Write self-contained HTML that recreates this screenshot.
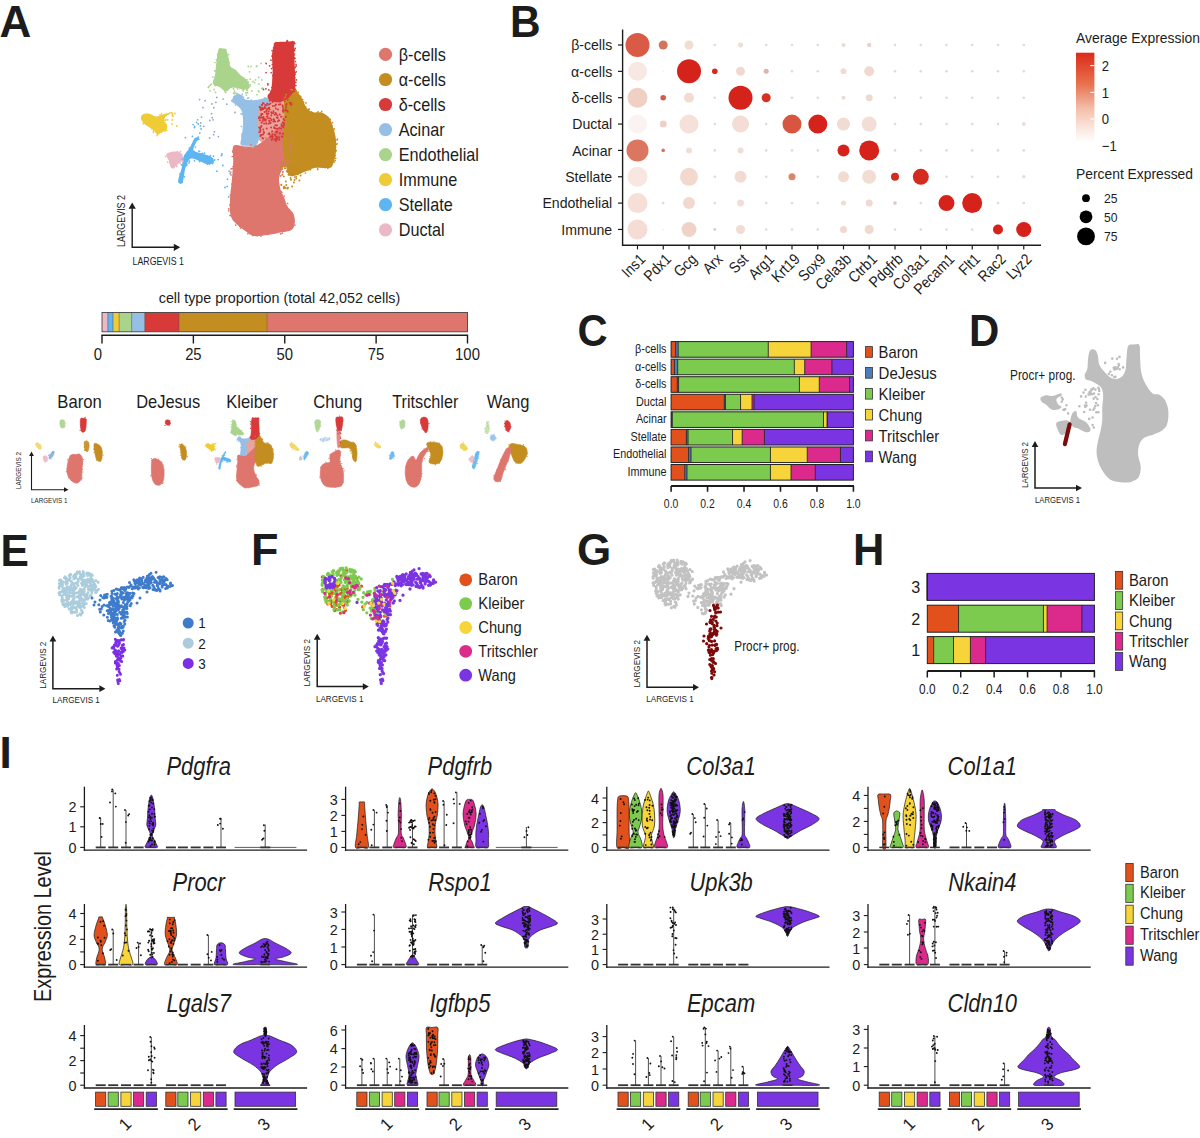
<!DOCTYPE html>
<html><head><meta charset="utf-8"><title>Figure</title>
<style>html,body{margin:0;padding:0;background:#fff;width:1200px;height:1138px;overflow:hidden}svg{display:block;font-family:"Liberation Sans",sans-serif}</style>
</head><body>
<svg width="1200" height="1138" viewBox="0 0 1200 1138" font-family="Liberation Sans, sans-serif">
<rect x="0.00" y="0.00" width="1200.00" height="1138.00" fill="#ffffff"/>
<text x="-0.50" y="37.10" font-size="44.00" text-anchor="start" fill="#1c1c1c" font-weight="bold">A</text>
<path d="M258.00 106.00 C259.83 101.50 264.00 99.50 268.00 98.00 C272.00 96.50 278.33 96.83 282.00 97.00 C285.67 97.17 289.33 97.17 290.00 99.00 C290.67 100.83 286.83 104.17 286.00 108.00 C285.17 111.83 285.33 117.67 285.00 122.00 C284.67 126.33 286.17 131.00 284.00 134.00 C281.83 137.00 276.00 138.83 272.00 140.00 C268.00 141.17 262.50 143.50 260.00 141.00 C257.50 138.50 257.33 130.83 257.00 125.00 C256.67 119.17 256.17 110.50 258.00 106.00 Z" fill="#E9A49C"/>
<path d="M233.50 146.00 C235.47 143.38 241.42 146.50 245.00 146.50 C248.58 146.50 252.17 146.75 255.00 146.00 C257.83 145.25 259.50 143.67 262.00 142.00 C264.50 140.33 267.33 138.33 270.00 136.00 C272.67 133.67 275.67 130.00 278.00 128.00 C280.33 126.00 281.67 122.00 284.00 124.00 C286.33 126.00 291.00 134.00 292.00 140.00 C293.00 146.00 291.50 155.33 290.00 160.00 C288.50 164.67 284.83 164.83 283.00 168.00 C281.17 171.17 279.30 175.05 279.00 179.00 C278.70 182.95 280.32 188.53 281.20 191.70 C282.08 194.87 283.25 195.53 284.30 198.00 C285.35 200.47 286.08 204.03 287.50 206.50 C288.92 208.97 291.57 210.35 292.80 212.80 C294.03 215.25 295.08 218.38 294.90 221.20 C294.72 224.02 294.35 227.77 291.70 229.70 C289.05 231.63 283.03 231.92 279.00 232.80 C274.97 233.68 271.72 234.47 267.50 235.00 C263.28 235.53 257.22 236.53 253.70 236.00 C250.18 235.47 249.38 233.92 246.40 231.80 C243.42 229.68 238.45 226.12 235.80 223.30 C233.15 220.48 231.47 218.95 230.50 214.90 C229.53 210.85 229.82 204.27 230.00 199.00 C230.18 193.73 231.07 189.43 231.60 183.30 C232.13 177.17 232.88 168.42 233.20 162.20 C233.52 155.98 231.53 148.62 233.50 146.00 Z" fill="#DE766E"/>
<path d="M290.50 86.70 C292.02 86.43 294.25 88.57 296.10 90.40 C297.95 92.23 299.75 94.63 301.60 97.70 C303.45 100.77 305.05 106.33 307.20 108.80 C309.35 111.27 312.05 111.88 314.50 112.50 C316.95 113.12 319.43 111.58 321.90 112.50 C324.37 113.42 327.45 115.53 329.30 118.00 C331.15 120.47 331.92 123.92 333.00 127.30 C334.08 130.68 335.33 134.00 335.80 138.30 C336.27 142.60 336.27 148.78 335.80 153.10 C335.33 157.42 334.08 161.73 333.00 164.20 C331.92 166.67 332.38 167.28 329.30 167.90 C326.22 168.52 318.50 167.28 314.50 167.90 C310.50 168.52 308.37 170.38 305.30 171.60 C302.23 172.82 298.65 174.47 296.10 175.20 C293.55 175.93 291.52 176.87 290.00 176.00 C288.48 175.13 287.83 172.67 287.00 170.00 C286.17 167.33 285.58 163.33 285.00 160.00 C284.42 156.67 283.78 154.92 283.50 150.00 C283.22 145.08 283.13 135.83 283.30 130.50 C283.47 125.17 284.38 122.58 284.50 118.00 C284.62 113.42 283.58 107.33 284.00 103.00 C284.42 98.67 285.92 94.72 287.00 92.00 C288.08 89.28 288.98 86.97 290.50 86.70 Z" fill="#C48D20"/>
<path d="M275.00 42.50 C277.05 41.77 282.82 41.92 286.10 41.80 C289.38 41.68 293.37 40.87 294.70 41.80 C296.03 42.73 294.10 43.60 294.10 47.40 C294.10 51.20 294.50 58.05 294.70 64.60 C294.90 71.15 295.75 81.80 295.30 86.70 C294.85 91.60 293.38 91.95 292.00 94.00 C290.62 96.05 289.00 97.67 287.00 99.00 C285.00 100.33 282.33 101.58 280.00 102.00 C277.67 102.42 274.92 102.00 273.00 101.50 C271.08 101.00 269.38 100.02 268.50 99.00 C267.62 97.98 267.23 97.03 267.70 95.40 C268.17 93.77 270.48 93.30 271.30 89.20 C272.12 85.10 272.48 76.53 272.60 70.80 C272.72 65.07 271.80 58.90 272.00 54.80 C272.20 50.70 273.30 48.25 273.80 46.20 C274.30 44.15 272.95 43.23 275.00 42.50 Z" fill="#D83A3A"/>
<path d="M234.40 95.40 C235.63 94.17 237.75 93.50 239.40 94.10 C241.05 94.70 242.05 97.97 244.30 99.00 C246.55 100.03 250.03 100.30 252.90 100.30 C255.77 100.30 259.03 99.42 261.50 99.00 C263.97 98.58 266.47 96.97 267.70 97.80 C268.93 98.63 269.52 102.57 268.90 104.00 C268.28 105.43 265.65 105.58 264.00 106.40 C262.35 107.22 260.03 107.25 259.00 108.90 C257.97 110.55 258.00 113.43 257.80 116.30 C257.60 119.17 257.60 122.42 257.80 126.10 C258.00 129.78 259.40 135.12 259.00 138.40 C258.60 141.68 257.45 144.57 255.40 145.80 C253.35 147.03 249.17 146.00 246.70 145.80 C244.23 145.60 241.42 146.23 240.60 144.60 C239.78 142.97 241.38 139.50 241.80 136.00 C242.22 132.50 243.10 127.72 243.10 123.60 C243.10 119.48 242.83 114.37 241.80 111.30 C240.77 108.23 238.53 106.83 236.90 105.20 C235.27 103.57 232.42 103.13 232.00 101.50 C231.58 99.87 233.17 96.63 234.40 95.40 Z" fill="#96BFE6"/>
<path d="M218.50 49.50 C219.53 47.08 221.23 48.45 222.50 48.50 C223.77 48.55 225.05 48.12 226.10 49.80 C227.15 51.48 228.07 55.83 228.80 58.60 C229.53 61.37 229.30 64.50 230.50 66.40 C231.70 68.30 234.53 68.75 236.00 70.00 C237.47 71.25 237.47 72.15 239.30 73.90 C241.13 75.65 245.35 78.12 247.00 80.50 C248.65 82.88 250.12 86.73 249.20 88.20 C248.28 89.67 244.25 89.48 241.50 89.30 C238.75 89.12 235.27 86.73 232.70 87.10 C230.13 87.47 228.28 91.50 226.10 91.50 C223.92 91.50 221.78 88.38 219.60 87.10 C217.42 85.82 213.73 86.00 213.00 83.80 C212.27 81.60 214.65 77.37 215.20 73.90 C215.75 70.43 215.75 67.07 216.30 63.00 C216.85 58.93 217.47 51.92 218.50 49.50 Z" fill="#AAD48C"/>
<path d="M141.00 117.00 C141.32 115.70 142.60 114.25 144.20 113.80 C145.80 113.35 148.62 113.85 150.60 114.30 C152.58 114.75 154.12 116.43 156.10 116.50 C158.08 116.57 159.90 115.38 162.50 114.70 C165.10 114.02 171.23 112.02 171.70 112.40 C172.17 112.78 166.53 115.47 165.30 117.00 C164.07 118.53 164.00 120.07 164.30 121.60 C164.60 123.13 166.78 124.83 167.10 126.20 C167.42 127.57 167.42 128.58 166.20 129.80 C164.98 131.02 161.33 132.73 159.80 133.50 C158.27 134.27 158.08 135.02 157.00 134.40 C155.92 133.78 155.13 131.33 153.30 129.80 C151.47 128.27 147.83 126.57 146.00 125.20 C144.17 123.83 143.13 122.97 142.30 121.60 C141.47 120.23 140.68 118.30 141.00 117.00 Z" fill="#EFCB35"/>
<path d="M178.30 182.60 C177.68 181.68 178.33 179.55 178.90 177.10 C179.47 174.65 180.93 171.28 181.70 167.90 C182.47 164.52 182.58 159.57 183.50 156.80 C184.42 154.03 185.97 153.15 187.20 151.30 C188.43 149.45 189.67 147.87 190.90 145.70 C192.13 143.53 193.22 139.68 194.60 138.30 C195.98 136.92 198.73 137.08 199.20 137.40 C199.67 137.72 198.32 138.50 197.40 140.20 C196.48 141.90 194.17 145.75 193.70 147.60 C193.23 149.45 192.92 150.23 194.60 151.30 C196.28 152.37 201.03 153.08 203.80 154.00 C206.57 154.92 209.50 155.42 211.20 156.80 C212.90 158.18 214.62 161.07 214.00 162.30 C213.38 163.53 210.12 164.50 207.50 164.20 C204.88 163.90 200.77 161.43 198.30 160.50 C195.83 159.57 194.25 158.68 192.70 158.60 C191.15 158.52 190.22 158.45 189.00 160.00 C187.78 161.55 186.47 164.13 185.40 167.90 C184.33 171.67 183.78 180.15 182.60 182.60 C181.42 185.05 178.92 183.52 178.30 182.60 Z" fill="#5DB5F2"/>
<path d="M166.20 154.60 C166.67 153.07 169.57 152.27 171.70 151.80 C173.83 151.33 177.17 151.18 179.00 151.80 C180.83 152.42 182.23 153.97 182.70 155.50 C183.17 157.03 182.72 159.47 181.80 161.00 C180.88 162.53 178.58 163.48 177.20 164.70 C175.82 165.92 174.57 167.85 173.50 168.30 C172.43 168.75 171.57 168.62 170.80 167.40 C170.03 166.18 169.67 163.13 168.90 161.00 C168.13 158.87 165.73 156.13 166.20 154.60 Z" fill="#EDB8C6"/>
<path d="M132.20 208.30 L132.20 247.30 L174.30 247.30" fill="none" stroke="#1c1c1c" stroke-width="1.4"/>
<path d="M132.20 202.40 L128.60 208.80 L135.80 208.80 Z" fill="#1c1c1c"/>
<path d="M180.20 247.30 L173.80 243.70 L173.80 250.90 Z" fill="#1c1c1c"/>
<text x="125.20" y="221.00" font-size="10.60" text-anchor="middle" fill="#1c1c1c" textLength="52.0" lengthAdjust="spacingAndGlyphs" transform="rotate(-90 125.20 221.00)">LARGEVIS 2</text>
<text x="132.50" y="265.40" font-size="10.40" text-anchor="start" fill="#1c1c1c" textLength="51.4" lengthAdjust="spacingAndGlyphs">LARGEVIS 1</text>
<circle cx="385.5" cy="54.4" r="6.6" fill="#DE766E"/>
<text x="398.70" y="60.80" font-size="18.20" text-anchor="start" fill="#1c1c1c" textLength="47.1" lengthAdjust="spacingAndGlyphs">β-cells</text>
<circle cx="385.5" cy="79.5" r="6.6" fill="#C48D20"/>
<text x="398.70" y="85.85" font-size="18.20" text-anchor="start" fill="#1c1c1c" textLength="47.2" lengthAdjust="spacingAndGlyphs">α-cells</text>
<circle cx="385.5" cy="104.5" r="6.6" fill="#D83A3A"/>
<text x="398.70" y="110.90" font-size="18.20" text-anchor="start" fill="#1c1c1c" textLength="46.8" lengthAdjust="spacingAndGlyphs">δ-cells</text>
<circle cx="385.5" cy="129.6" r="6.6" fill="#96BFE6"/>
<text x="398.70" y="135.95" font-size="18.20" text-anchor="start" fill="#1c1c1c" textLength="45.9" lengthAdjust="spacingAndGlyphs">Acinar</text>
<circle cx="385.5" cy="154.6" r="6.6" fill="#AAD48C"/>
<text x="398.70" y="161.00" font-size="18.20" text-anchor="start" fill="#1c1c1c" textLength="80.2" lengthAdjust="spacingAndGlyphs">Endothelial</text>
<circle cx="385.5" cy="179.7" r="6.6" fill="#EFCB35"/>
<text x="398.70" y="186.05" font-size="18.20" text-anchor="start" fill="#1c1c1c" textLength="58.5" lengthAdjust="spacingAndGlyphs">Immune</text>
<circle cx="385.5" cy="204.7" r="6.6" fill="#5DB5F2"/>
<text x="398.70" y="211.10" font-size="18.20" text-anchor="start" fill="#1c1c1c" textLength="54.0" lengthAdjust="spacingAndGlyphs">Stellate</text>
<circle cx="385.5" cy="229.8" r="6.6" fill="#EDB8C6"/>
<text x="398.70" y="236.15" font-size="18.20" text-anchor="start" fill="#1c1c1c" textLength="45.9" lengthAdjust="spacingAndGlyphs">Ductal</text>
<text x="279.50" y="302.80" font-size="14.60" text-anchor="middle" fill="#1c1c1c" textLength="241.5" lengthAdjust="spacingAndGlyphs">cell type proportion (total 42,052 cells)</text>
<rect x="102.00" y="312.50" width="5.85" height="19.30" fill="#EDB8C6"/>
<rect x="107.85" y="312.50" width="5.12" height="19.30" fill="#5DB5F2"/>
<rect x="112.97" y="312.50" width="6.21" height="19.30" fill="#EFCB35"/>
<rect x="119.18" y="312.50" width="12.43" height="19.30" fill="#AAD48C"/>
<rect x="131.61" y="312.50" width="13.16" height="19.30" fill="#96BFE6"/>
<rect x="144.76" y="312.50" width="34.36" height="19.30" fill="#D83A3A"/>
<rect x="179.12" y="312.50" width="88.09" height="19.30" fill="#C48D20"/>
<rect x="267.21" y="312.50" width="200.29" height="19.30" fill="#DE766E"/>
<line x1="107.85" y1="312.50" x2="107.85" y2="331.80" stroke="#555" stroke-width="0.6"/>
<line x1="112.97" y1="312.50" x2="112.97" y2="331.80" stroke="#555" stroke-width="0.6"/>
<line x1="119.18" y1="312.50" x2="119.18" y2="331.80" stroke="#555" stroke-width="0.6"/>
<line x1="131.61" y1="312.50" x2="131.61" y2="331.80" stroke="#555" stroke-width="0.6"/>
<line x1="144.76" y1="312.50" x2="144.76" y2="331.80" stroke="#555" stroke-width="0.6"/>
<line x1="179.12" y1="312.50" x2="179.12" y2="331.80" stroke="#555" stroke-width="0.6"/>
<line x1="267.21" y1="312.50" x2="267.21" y2="331.80" stroke="#555" stroke-width="0.6"/>
<rect x="102.00" y="312.50" width="365.50" height="19.30" fill="none" stroke="#444" stroke-width="0.9"/>
<line x1="101.40" y1="335.20" x2="468.10" y2="335.20" stroke="#1c1c1c" stroke-width="1.4"/>
<line x1="102.00" y1="335.20" x2="102.00" y2="343.50" stroke="#1c1c1c" stroke-width="1.4"/>
<text x="98.00" y="360.20" font-size="16.50" text-anchor="middle" fill="#1c1c1c" textLength="8.3" lengthAdjust="spacingAndGlyphs">0</text>
<line x1="193.38" y1="335.20" x2="193.38" y2="343.50" stroke="#1c1c1c" stroke-width="1.4"/>
<text x="193.38" y="360.20" font-size="16.50" text-anchor="middle" fill="#1c1c1c" textLength="16.5" lengthAdjust="spacingAndGlyphs">25</text>
<line x1="284.75" y1="335.20" x2="284.75" y2="343.50" stroke="#1c1c1c" stroke-width="1.4"/>
<text x="284.75" y="360.20" font-size="16.50" text-anchor="middle" fill="#1c1c1c" textLength="16.5" lengthAdjust="spacingAndGlyphs">50</text>
<line x1="376.12" y1="335.20" x2="376.12" y2="343.50" stroke="#1c1c1c" stroke-width="1.4"/>
<text x="376.12" y="360.20" font-size="16.50" text-anchor="middle" fill="#1c1c1c" textLength="16.5" lengthAdjust="spacingAndGlyphs">75</text>
<line x1="467.50" y1="335.20" x2="467.50" y2="343.50" stroke="#1c1c1c" stroke-width="1.4"/>
<text x="467.50" y="360.20" font-size="16.50" text-anchor="middle" fill="#1c1c1c" textLength="24.8" lengthAdjust="spacingAndGlyphs">100</text>
<text x="57.30" y="408.20" font-size="18.50" text-anchor="start" fill="#1c1c1c" textLength="44.4" lengthAdjust="spacingAndGlyphs">Baron</text>
<text x="136.20" y="408.20" font-size="18.50" text-anchor="start" fill="#1c1c1c" textLength="64.0" lengthAdjust="spacingAndGlyphs">DeJesus</text>
<text x="226.20" y="408.20" font-size="18.50" text-anchor="start" fill="#1c1c1c" textLength="51.5" lengthAdjust="spacingAndGlyphs">Kleiber</text>
<text x="313.20" y="408.20" font-size="18.50" text-anchor="start" fill="#1c1c1c" textLength="49.0" lengthAdjust="spacingAndGlyphs">Chung</text>
<text x="392.20" y="408.20" font-size="18.50" text-anchor="start" fill="#1c1c1c" textLength="66.2" lengthAdjust="spacingAndGlyphs">Tritschler</text>
<text x="486.80" y="408.20" font-size="18.50" text-anchor="start" fill="#1c1c1c" textLength="42.6" lengthAdjust="spacingAndGlyphs">Wang</text>
<path d="M80.50 419.00 C80.92 417.55 82.08 418.30 83.00 418.30 C83.92 418.30 85.48 417.72 86.00 419.00 C86.52 420.28 86.27 424.00 86.10 426.00 C85.93 428.00 85.68 430.00 85.00 431.00 C84.32 432.00 82.75 432.67 82.00 432.00 C81.25 431.33 80.75 429.17 80.50 427.00 C80.25 424.83 80.08 420.45 80.50 419.00 Z" fill="#D83A3A" stroke="#D83A3A" stroke-width="0.6" stroke-linejoin="round" opacity="1"/>
<path d="M60.00 421.00 C60.25 419.80 61.25 419.80 62.00 419.80 C62.75 419.80 64.03 419.97 64.50 421.00 C64.97 422.03 65.05 424.83 64.80 426.00 C64.55 427.17 63.72 427.83 63.00 428.00 C62.28 428.17 61.00 428.17 60.50 427.00 C60.00 425.83 59.75 422.20 60.00 421.00 Z" fill="#AAD48C" stroke="#AAD48C" stroke-width="0.6" stroke-linejoin="round" opacity="0.9"/>
<path d="M35.50 444.00 C35.50 443.08 37.08 442.67 38.00 443.00 C38.92 443.33 40.48 445.00 41.00 446.00 C41.52 447.00 41.60 448.58 41.10 449.00 C40.60 449.42 38.93 449.33 38.00 448.50 C37.07 447.67 35.50 444.92 35.50 444.00 Z" fill="#EFCB35" stroke="#EFCB35" stroke-width="0.6" stroke-linejoin="round" opacity="0.7"/>
<path d="M43.00 457.00 C43.17 456.00 44.75 455.72 45.50 455.80 C46.25 455.88 47.25 456.63 47.50 457.50 C47.75 458.37 47.50 460.28 47.00 461.00 C46.50 461.72 45.17 462.47 44.50 461.80 C43.83 461.13 42.83 458.00 43.00 457.00 Z" fill="#EDB8C6" stroke="#EDB8C6" stroke-width="0.6" stroke-linejoin="round" opacity="0.9"/>
<path d="M49.00 457.00 C49.33 455.87 51.12 452.90 52.00 452.00 C52.88 451.10 54.13 450.93 54.30 451.60 C54.47 452.27 53.72 454.80 53.00 456.00 C52.28 457.20 50.67 458.63 50.00 458.80 C49.33 458.97 48.67 458.13 49.00 457.00 Z" fill="#79AEDB" stroke="#79AEDB" stroke-width="0.6" stroke-linejoin="round" opacity="0.9"/>
<path d="M84.30 442.00 C84.80 440.58 87.20 441.00 88.00 441.50 C88.80 442.00 89.10 443.37 89.10 445.00 C89.10 446.63 88.68 450.47 88.00 451.30 C87.32 452.13 85.62 451.55 85.00 450.00 C84.38 448.45 83.80 443.42 84.30 442.00 Z" fill="#C48D20" stroke="#C48D20" stroke-width="0.6" stroke-linejoin="round" opacity="0.9"/>
<path d="M94.00 444.50 C94.33 442.80 95.83 443.38 97.00 443.80 C98.17 444.22 100.12 445.47 101.00 447.00 C101.88 448.53 102.30 450.67 102.30 453.00 C102.30 455.33 101.88 459.83 101.00 461.00 C100.12 462.17 98.00 461.17 97.00 460.00 C96.00 458.83 95.50 456.58 95.00 454.00 C94.50 451.42 93.67 446.20 94.00 444.50 Z" fill="#C48D20" stroke="#C48D20" stroke-width="0.6" stroke-linejoin="round" opacity="1"/>
<path d="M71.00 455.00 C72.25 454.08 74.50 454.62 76.00 454.50 C77.50 454.38 78.87 453.38 80.00 454.30 C81.13 455.22 82.47 457.38 82.80 460.00 C83.13 462.62 82.22 467.00 82.00 470.00 C81.78 473.00 82.17 475.87 81.50 478.00 C80.83 480.13 79.42 482.13 78.00 482.80 C76.58 483.47 74.67 483.13 73.00 482.00 C71.33 480.87 69.00 478.33 68.00 476.00 C67.00 473.67 66.92 470.67 67.00 468.00 C67.08 465.33 67.83 462.17 68.50 460.00 C69.17 457.83 69.75 455.92 71.00 455.00 Z" fill="#DE766E" stroke="#DE766E" stroke-width="0.6" stroke-linejoin="round" opacity="1"/>
<path d="M165.50 421.00 C165.83 420.22 167.25 419.72 168.00 419.80 C168.75 419.88 169.75 420.63 170.00 421.50 C170.25 422.37 170.17 424.50 169.50 425.00 C168.83 425.50 166.67 425.17 166.00 424.50 C165.33 423.83 165.17 421.78 165.50 421.00 Z" fill="#D83A3A" stroke="#D83A3A" stroke-width="0.6" stroke-linejoin="round" opacity="1"/>
<path d="M179.80 446.00 C179.97 444.63 181.13 443.63 182.00 443.80 C182.87 443.97 184.25 445.63 185.00 447.00 C185.75 448.37 186.42 449.92 186.50 452.00 C186.58 454.08 186.25 458.33 185.50 459.50 C184.75 460.67 182.75 460.25 182.00 459.00 C181.25 457.75 181.37 454.17 181.00 452.00 C180.63 449.83 179.63 447.37 179.80 446.00 Z" fill="#C48D20" stroke="#C48D20" stroke-width="0.6" stroke-linejoin="round" opacity="1"/>
<path d="M152.00 460.00 C152.62 458.47 154.00 458.88 155.00 458.80 C156.00 458.72 156.83 458.80 158.00 459.50 C159.17 460.20 161.00 461.25 162.00 463.00 C163.00 464.75 163.75 467.17 164.00 470.00 C164.25 472.83 164.17 477.50 163.50 480.00 C162.83 482.50 161.42 484.33 160.00 485.00 C158.58 485.67 156.33 485.17 155.00 484.00 C153.67 482.83 152.62 480.67 152.00 478.00 C151.38 475.33 151.30 471.00 151.30 468.00 C151.30 465.00 151.38 461.53 152.00 460.00 Z" fill="#DE766E" stroke="#DE766E" stroke-width="0.6" stroke-linejoin="round" opacity="1"/>
<path d="M336.00 417.80 C336.45 416.48 337.87 417.15 339.00 417.10 C340.13 417.05 342.22 416.18 342.80 417.50 C343.38 418.82 342.80 422.87 342.50 425.00 C342.20 427.13 341.75 429.47 341.00 430.30 C340.25 431.13 338.78 430.88 338.00 430.00 C337.22 429.12 336.63 427.03 336.30 425.00 C335.97 422.97 335.55 419.12 336.00 417.80 Z" fill="#D83A3A" stroke="#D83A3A" stroke-width="0.6" stroke-linejoin="round" opacity="1"/>
<path d="M337.00 430.00 C337.42 427.33 339.58 427.33 340.00 430.00 C340.42 432.67 339.92 443.33 339.50 446.00 C339.08 448.67 337.92 448.67 337.50 446.00 C337.08 443.33 336.58 432.67 337.00 430.00 Z" fill="#D83A3A" stroke="#D83A3A" stroke-width="0.6" stroke-linejoin="round" opacity="0.6"/>
<path d="M315.00 421.00 C315.33 419.63 316.62 419.80 317.50 419.80 C318.38 419.80 319.88 419.80 320.30 421.00 C320.72 422.20 320.47 425.20 320.00 427.00 C319.53 428.80 318.25 431.63 317.50 431.80 C316.75 431.97 315.92 429.80 315.50 428.00 C315.08 426.20 314.67 422.37 315.00 421.00 Z" fill="#AAD48C" stroke="#AAD48C" stroke-width="0.6" stroke-linejoin="round" opacity="0.9"/>
<path d="M340.50 441.00 C341.42 439.83 344.42 439.83 346.00 440.00 C347.58 440.17 348.67 441.58 350.00 442.00 C351.33 442.42 353.00 441.83 354.00 442.50 C355.00 443.17 355.50 444.42 356.00 446.00 C356.50 447.58 356.92 449.67 357.00 452.00 C357.08 454.33 356.83 458.37 356.50 460.00 C356.17 461.63 355.67 462.13 355.00 461.80 C354.33 461.47 353.00 459.63 352.50 458.00 C352.00 456.37 352.58 453.67 352.00 452.00 C351.42 450.33 350.50 448.67 349.00 448.00 C347.50 447.33 344.42 448.17 343.00 448.00 C341.58 447.83 340.92 448.17 340.50 447.00 C340.08 445.83 339.58 442.17 340.50 441.00 Z" fill="#C48D20" stroke="#C48D20" stroke-width="0.6" stroke-linejoin="round" opacity="1"/>
<path d="M330.00 455.00 C330.67 453.33 332.67 452.83 334.00 452.00 C335.33 451.17 336.92 450.00 338.00 450.00 C339.08 450.00 340.17 450.00 340.50 452.00 C340.83 454.00 339.58 459.00 340.00 462.00 C340.42 465.00 342.42 467.00 343.00 470.00 C343.58 473.00 343.83 477.33 343.50 480.00 C343.17 482.67 342.92 484.78 341.00 486.00 C339.08 487.22 334.83 487.47 332.00 487.30 C329.17 487.13 325.95 486.88 324.00 485.00 C322.05 483.12 320.72 479.17 320.30 476.00 C319.88 472.83 320.55 468.17 321.50 466.00 C322.45 463.83 324.58 463.67 326.00 463.00 C327.42 462.33 329.33 463.33 330.00 462.00 C330.67 460.67 329.33 456.67 330.00 455.00 Z" fill="#DE766E" stroke="#DE766E" stroke-width="0.6" stroke-linejoin="round" opacity="1"/>
<path d="M289.50 444.50 C289.50 443.67 290.92 442.75 292.00 443.00 C293.08 443.25 294.78 444.92 296.00 446.00 C297.22 447.08 299.13 448.75 299.30 449.50 C299.47 450.25 298.22 450.75 297.00 450.50 C295.78 450.25 293.25 449.00 292.00 448.00 C290.75 447.00 289.50 445.33 289.50 444.50 Z" fill="#EFCB35" stroke="#EFCB35" stroke-width="0.6" stroke-linejoin="round" opacity="0.7"/>
<path d="M305.50 452.00 C306.28 451.25 308.42 451.50 308.50 452.50 C308.58 453.50 306.75 456.83 306.00 458.00 C305.25 459.17 304.37 459.67 304.00 459.50 C303.63 459.33 303.55 458.25 303.80 457.00 C304.05 455.75 304.72 452.75 305.50 452.00 Z" fill="#5DB5F2" stroke="#5DB5F2" stroke-width="0.6" stroke-linejoin="round" opacity="0.9"/>
<path d="M299.30 457.50 C299.55 457.00 301.05 456.67 301.50 457.00 C301.95 457.33 302.25 459.00 302.00 459.50 C301.75 460.00 300.45 460.33 300.00 460.00 C299.55 459.67 299.05 458.00 299.30 457.50 Z" fill="#C8B8BC" stroke="#C8B8BC" stroke-width="0.6" stroke-linejoin="round" opacity="0.8"/>
<path d="M320.00 439.00 C320.67 438.47 323.33 437.88 325.00 437.80 C326.67 437.72 329.50 438.00 330.00 438.50 C330.50 439.00 329.50 440.38 328.00 440.80 C326.50 441.22 322.33 441.30 321.00 441.00 C319.67 440.70 319.33 439.53 320.00 439.00 Z" fill="#96BFE6" stroke="#96BFE6" stroke-width="0.6" stroke-linejoin="round" opacity="0.5"/>
<path d="M421.00 418.50 C421.62 417.85 422.92 417.02 424.00 417.10 C425.08 417.18 426.82 417.52 427.50 419.00 C428.18 420.48 428.18 423.87 428.10 426.00 C428.02 428.13 427.68 430.97 427.00 431.80 C426.32 432.63 424.92 431.97 424.00 431.00 C423.08 430.03 422.12 427.67 421.50 426.00 C420.88 424.33 420.38 422.25 420.30 421.00 C420.22 419.75 420.38 419.15 421.00 418.50 Z" fill="#D83A3A" stroke="#D83A3A" stroke-width="0.6" stroke-linejoin="round" opacity="1"/>
<path d="M400.00 422.00 C400.50 420.97 402.18 419.80 403.00 419.80 C403.82 419.80 404.65 420.80 404.90 422.00 C405.15 423.20 405.07 425.87 404.50 427.00 C403.93 428.13 402.25 428.97 401.50 428.80 C400.75 428.63 400.25 427.13 400.00 426.00 C399.75 424.87 399.50 423.03 400.00 422.00 Z" fill="#AAD48C" stroke="#AAD48C" stroke-width="0.6" stroke-linejoin="round" opacity="0.9"/>
<path d="M374.10 444.00 C374.35 443.42 375.93 442.58 377.00 443.00 C378.07 443.42 380.17 445.62 380.50 446.50 C380.83 447.38 379.83 448.30 379.00 448.30 C378.17 448.30 376.32 447.22 375.50 446.50 C374.68 445.78 373.85 444.58 374.10 444.00 Z" fill="#EFCB35" stroke="#EFCB35" stroke-width="0.6" stroke-linejoin="round" opacity="0.7"/>
<path d="M391.50 452.00 C392.17 451.05 393.08 451.63 393.50 452.30 C393.92 452.97 394.42 454.80 394.00 456.00 C393.58 457.20 391.75 459.17 391.00 459.50 C390.25 459.83 389.42 459.25 389.50 458.00 C389.58 456.75 390.83 452.95 391.50 452.00 Z" fill="#5DB5F2" stroke="#5DB5F2" stroke-width="0.6" stroke-linejoin="round" opacity="0.9"/>
<path d="M427.00 443.00 C428.00 442.05 431.83 442.13 434.00 442.30 C436.17 442.47 438.53 442.72 440.00 444.00 C441.47 445.28 442.47 447.67 442.80 450.00 C443.13 452.33 442.63 455.83 442.00 458.00 C441.37 460.17 440.50 462.00 439.00 463.00 C437.50 464.00 434.67 464.17 433.00 464.00 C431.33 463.83 429.33 463.50 429.00 462.00 C428.67 460.50 431.17 457.33 431.00 455.00 C430.83 452.67 428.67 450.00 428.00 448.00 C427.33 446.00 426.00 443.95 427.00 443.00 Z" fill="#C48D20" stroke="#C48D20" stroke-width="0.6" stroke-linejoin="round" opacity="1"/>
<path d="M427.00 447.50 C428.33 447.00 428.50 448.58 428.00 450.00 C427.50 451.42 425.03 453.83 424.00 456.00 C422.97 458.17 422.22 459.83 421.80 463.00 C421.38 466.17 421.97 471.50 421.50 475.00 C421.03 478.50 420.25 481.95 419.00 484.00 C417.75 486.05 415.83 487.30 414.00 487.30 C412.17 487.30 409.45 486.05 408.00 484.00 C406.55 481.95 405.63 478.17 405.30 475.00 C404.97 471.83 405.38 467.67 406.00 465.00 C406.62 462.33 407.83 460.50 409.00 459.00 C410.17 457.50 411.83 455.83 413.00 456.00 C414.17 456.17 414.83 460.50 416.00 460.00 C417.17 459.50 418.17 455.08 420.00 453.00 C421.83 450.92 425.67 448.00 427.00 447.50 Z" fill="#DE766E" stroke="#DE766E" stroke-width="0.6" stroke-linejoin="round" opacity="1"/>
<path d="M505.50 421.50 C505.93 420.92 506.75 420.25 507.50 420.50 C508.25 420.75 509.50 421.75 510.00 423.00 C510.50 424.25 510.83 426.53 510.50 428.00 C510.17 429.47 508.83 431.80 508.00 431.80 C507.17 431.80 506.02 429.30 505.50 428.00 C504.98 426.70 504.90 425.08 504.90 424.00 C504.90 422.92 505.07 422.08 505.50 421.50 Z" fill="#D83A3A" stroke="#D83A3A" stroke-width="0.6" stroke-linejoin="round" opacity="1"/>
<path d="M485.00 432.50 C484.75 430.72 486.75 422.05 487.50 421.30 C488.25 420.55 489.25 426.22 489.50 428.00 C489.75 429.78 489.75 431.25 489.00 432.00 C488.25 432.75 485.25 434.28 485.00 432.50 Z" fill="#AAD48C" stroke="#AAD48C" stroke-width="0.6" stroke-linejoin="round" opacity="0.6"/>
<path d="M490.30 437.00 C490.63 436.13 492.07 434.72 493.00 434.80 C493.93 434.88 495.73 436.50 495.90 437.50 C496.07 438.50 494.82 440.38 494.00 440.80 C493.18 441.22 491.62 440.63 491.00 440.00 C490.38 439.37 489.97 437.87 490.30 437.00 Z" fill="#96BFE6" stroke="#96BFE6" stroke-width="0.6" stroke-linejoin="round" opacity="0.9"/>
<path d="M460.30 445.00 C460.55 444.08 462.05 442.83 463.00 443.00 C463.95 443.17 465.27 445.00 466.00 446.00 C466.73 447.00 467.57 448.25 467.40 449.00 C467.23 449.75 465.98 450.58 465.00 450.50 C464.02 450.42 462.28 449.42 461.50 448.50 C460.72 447.58 460.05 445.92 460.30 445.00 Z" fill="#EFCB35" stroke="#EFCB35" stroke-width="0.6" stroke-linejoin="round" opacity="0.8"/>
<path d="M468.90 459.00 C469.23 458.05 471.18 456.13 472.00 455.80 C472.82 455.47 473.63 455.88 473.80 457.00 C473.97 458.12 473.63 461.75 473.00 462.50 C472.37 463.25 470.68 462.08 470.00 461.50 C469.32 460.92 468.57 459.95 468.90 459.00 Z" fill="#EDB8C6" stroke="#EDB8C6" stroke-width="0.6" stroke-linejoin="round" opacity="0.9"/>
<path d="M476.00 452.50 C476.83 451.17 478.75 450.75 479.00 452.00 C479.25 453.25 478.25 457.25 477.50 460.00 C476.75 462.75 475.37 467.33 474.50 468.50 C473.63 469.67 472.38 468.42 472.30 467.00 C472.22 465.58 473.38 462.42 474.00 460.00 C474.62 457.58 475.17 453.83 476.00 452.50 Z" fill="#5DB5F2" stroke="#5DB5F2" stroke-width="0.6" stroke-linejoin="round" opacity="0.9"/>
<path d="M509.00 446.00 C509.33 444.92 510.50 443.75 512.00 443.50 C513.50 443.25 516.00 444.08 518.00 444.50 C520.00 444.92 522.50 445.08 524.00 446.00 C525.50 446.92 526.67 448.17 527.00 450.00 C527.33 451.83 527.00 454.78 526.00 457.00 C525.00 459.22 522.83 462.47 521.00 463.30 C519.17 464.13 516.50 463.22 515.00 462.00 C513.50 460.78 512.83 458.00 512.00 456.00 C511.17 454.00 510.50 451.67 510.00 450.00 C509.50 448.33 508.67 447.08 509.00 446.00 Z" fill="#C48D20" stroke="#C48D20" stroke-width="0.6" stroke-linejoin="round" opacity="1"/>
<path d="M507.00 448.30 C508.50 446.97 510.67 447.38 511.00 449.00 C511.33 450.62 510.00 454.83 509.00 458.00 C508.00 461.17 506.17 465.00 505.00 468.00 C503.83 471.00 502.83 473.78 502.00 476.00 C501.17 478.22 501.17 480.47 500.00 481.30 C498.83 482.13 496.00 481.72 495.00 481.00 C494.00 480.28 493.50 479.33 494.00 477.00 C494.50 474.67 496.67 470.33 498.00 467.00 C499.33 463.67 500.50 460.12 502.00 457.00 C503.50 453.88 505.50 449.63 507.00 448.30 Z" fill="#DE766E" stroke="#DE766E" stroke-width="0.6" stroke-linejoin="round" opacity="1"/>
<path d="M246.30 441.04 C246.94 439.42 248.38 438.70 249.77 438.16 C251.16 437.62 253.35 437.74 254.63 437.80 C255.90 437.86 257.17 437.86 257.40 438.52 C257.63 439.18 256.30 440.38 256.01 441.76 C255.73 443.14 255.78 445.24 255.67 446.80 C255.55 448.36 256.07 450.04 255.32 451.12 C254.57 452.20 252.54 452.86 251.16 453.28 C249.77 453.70 247.86 454.54 246.99 453.64 C246.13 452.74 246.07 449.98 245.95 447.88 C245.84 445.78 245.66 442.66 246.30 441.04 Z" fill="#E9A49C" stroke="#E9A49C" stroke-width="0.6" stroke-linejoin="round"/>
<path d="M237.80 455.44 C238.48 454.50 240.54 455.62 241.79 455.62 C243.03 455.62 244.27 455.71 245.26 455.44 C246.24 455.17 246.82 454.60 247.69 454.00 C248.55 453.40 249.54 452.68 250.46 451.84 C251.39 451.00 252.43 449.68 253.24 448.96 C254.05 448.24 254.51 446.80 255.32 447.52 C256.13 448.24 257.75 451.12 258.10 453.28 C258.44 455.44 257.92 458.80 257.40 460.48 C256.88 462.16 255.61 462.22 254.97 463.36 C254.34 464.50 253.69 465.90 253.59 467.32 C253.48 468.74 254.04 470.75 254.35 471.89 C254.66 473.03 255.06 473.27 255.43 474.16 C255.79 475.05 256.04 476.33 256.54 477.22 C257.03 478.11 257.95 478.61 258.37 479.49 C258.80 480.37 259.17 481.50 259.10 482.51 C259.04 483.53 258.91 484.88 257.99 485.57 C257.07 486.27 254.99 486.37 253.59 486.69 C252.19 487.01 251.06 487.29 249.60 487.48 C248.13 487.67 246.03 488.03 244.81 487.84 C243.59 487.65 243.31 487.09 242.27 486.33 C241.24 485.57 239.52 484.28 238.60 483.27 C237.68 482.25 237.09 481.70 236.76 480.24 C236.42 478.79 236.52 476.42 236.58 474.52 C236.65 472.62 236.95 471.08 237.14 468.87 C237.32 466.66 237.58 463.51 237.69 461.27 C237.80 459.03 237.12 456.38 237.80 455.44 Z" fill="#DE766E" stroke="#DE766E" stroke-width="0.6" stroke-linejoin="round"/>
<path d="M257.58 434.09 C258.10 434.00 258.88 434.76 259.52 435.42 C260.16 436.08 260.79 436.95 261.43 438.05 C262.07 439.16 262.63 441.16 263.37 442.05 C264.12 442.94 265.05 443.16 265.90 443.38 C266.75 443.60 267.62 443.05 268.47 443.38 C269.33 443.71 270.40 444.47 271.04 445.36 C271.68 446.25 271.95 447.49 272.32 448.71 C272.70 449.93 273.13 451.12 273.30 452.67 C273.46 454.22 273.46 456.44 273.30 458.00 C273.13 459.55 272.70 461.10 272.32 461.99 C271.95 462.88 272.11 463.10 271.04 463.32 C269.97 463.55 267.29 463.10 265.90 463.32 C264.52 463.55 263.78 464.22 262.71 464.66 C261.65 465.09 260.40 465.69 259.52 465.95 C258.63 466.22 257.93 466.55 257.40 466.24 C256.88 465.93 256.65 465.04 256.36 464.08 C256.07 463.12 255.87 461.68 255.67 460.48 C255.47 459.28 255.25 458.65 255.15 456.88 C255.05 455.11 255.02 451.78 255.08 449.86 C255.14 447.94 255.45 447.01 255.49 445.36 C255.53 443.71 255.18 441.52 255.32 439.96 C255.47 438.40 255.99 436.98 256.36 436.00 C256.74 435.02 257.05 434.19 257.58 434.09 Z" fill="#C48D20" stroke="#C48D20" stroke-width="0.6" stroke-linejoin="round"/>
<path d="M252.20 418.18 C252.91 417.92 254.91 417.97 256.05 417.93 C257.19 417.89 258.57 417.59 259.03 417.93 C259.50 418.26 258.83 418.58 258.83 419.94 C258.83 421.31 258.96 423.78 259.03 426.14 C259.10 428.49 259.40 432.33 259.24 434.09 C259.09 435.86 258.58 435.98 258.10 436.72 C257.62 437.46 257.06 438.04 256.36 438.52 C255.67 439.00 254.74 439.45 253.93 439.60 C253.12 439.75 252.17 439.60 251.50 439.42 C250.84 439.24 250.25 438.89 249.94 438.52 C249.64 438.15 249.50 437.81 249.66 437.22 C249.83 436.64 250.63 436.47 250.91 434.99 C251.20 433.52 251.32 430.43 251.37 428.37 C251.41 426.30 251.09 424.08 251.16 422.61 C251.23 421.13 251.61 420.25 251.78 419.51 C251.96 418.77 251.49 418.44 252.20 418.18 Z" fill="#D83A3A" stroke="#D83A3A" stroke-width="0.6" stroke-linejoin="round"/>
<path d="M238.11 437.22 C238.54 436.78 239.27 436.54 239.84 436.76 C240.42 436.97 240.76 438.15 241.55 438.52 C242.33 438.89 243.53 438.99 244.53 438.99 C245.52 438.99 246.66 438.67 247.51 438.52 C248.37 438.37 249.24 437.79 249.66 438.09 C250.09 438.39 250.30 439.80 250.08 440.32 C249.87 440.84 248.95 440.89 248.38 441.18 C247.81 441.48 247.00 441.49 246.65 442.08 C246.29 442.68 246.30 443.72 246.23 444.75 C246.16 445.78 246.16 446.95 246.23 448.28 C246.30 449.60 246.78 451.52 246.65 452.70 C246.51 453.89 246.11 454.92 245.40 455.37 C244.69 455.81 243.23 455.44 242.38 455.37 C241.52 455.30 240.54 455.52 240.26 454.94 C239.98 454.35 240.53 453.10 240.68 451.84 C240.82 450.58 241.13 448.86 241.13 447.38 C241.13 445.89 241.04 444.05 240.68 442.95 C240.32 441.84 239.54 441.34 238.98 440.75 C238.41 440.16 237.42 440.01 237.28 439.42 C237.13 438.83 237.68 437.67 238.11 437.22 Z" fill="#96BFE6" stroke="#96BFE6" stroke-width="0.6" stroke-linejoin="round"/>
<path d="M232.59 420.70 C232.95 419.83 233.54 420.32 233.98 420.34 C234.42 420.36 234.87 420.20 235.23 420.81 C235.59 421.41 235.91 422.98 236.17 423.98 C236.42 424.97 236.34 426.10 236.76 426.78 C237.17 427.47 238.16 427.63 238.66 428.08 C239.17 428.53 239.17 428.85 239.81 429.48 C240.45 430.11 241.91 431.00 242.48 431.86 C243.05 432.72 243.56 434.10 243.25 434.63 C242.93 435.16 241.53 435.09 240.57 435.03 C239.62 434.96 238.41 434.10 237.52 434.24 C236.63 434.37 235.99 435.82 235.23 435.82 C234.47 435.82 233.73 434.70 232.97 434.24 C232.22 433.77 230.94 433.84 230.68 433.05 C230.43 432.26 231.26 430.73 231.45 429.48 C231.64 428.24 231.64 427.02 231.83 425.56 C232.02 424.10 232.23 421.57 232.59 420.70 Z" fill="#AAD48C" stroke="#AAD48C" stroke-width="0.6" stroke-linejoin="round"/>
<path d="M205.70 445.00 C205.81 444.53 206.26 444.01 206.81 443.85 C207.37 443.69 208.34 443.87 209.03 444.03 C209.72 444.19 210.25 444.80 210.94 444.82 C211.63 444.84 212.26 444.42 213.16 444.17 C214.06 443.93 216.19 443.21 216.35 443.34 C216.51 443.48 214.56 444.45 214.13 445.00 C213.70 445.55 213.68 446.10 213.79 446.66 C213.89 447.21 214.65 447.82 214.76 448.31 C214.87 448.80 214.87 449.17 214.44 449.61 C214.02 450.05 212.76 450.66 212.22 450.94 C211.69 451.22 211.63 451.49 211.25 451.26 C210.88 451.04 210.60 450.16 209.97 449.61 C209.33 449.06 208.07 448.44 207.44 447.95 C206.80 447.46 206.44 447.15 206.15 446.66 C205.86 446.16 205.59 445.47 205.70 445.00 Z" fill="#EFCB35" stroke="#EFCB35" stroke-width="0.6" stroke-linejoin="round"/>
<path d="M218.64 468.62 C218.43 468.29 218.65 467.52 218.85 466.64 C219.05 465.75 219.56 464.54 219.82 463.32 C220.09 462.11 220.13 460.32 220.45 459.33 C220.77 458.33 221.30 458.01 221.73 457.35 C222.16 456.68 222.59 456.11 223.02 455.33 C223.44 454.55 223.82 453.17 224.30 452.67 C224.78 452.17 225.73 452.23 225.90 452.34 C226.06 452.46 225.59 452.74 225.27 453.35 C224.95 453.96 224.15 455.35 223.99 456.02 C223.82 456.68 223.72 456.96 224.30 457.35 C224.88 457.73 226.53 457.99 227.49 458.32 C228.45 458.65 229.47 458.83 230.06 459.33 C230.65 459.83 231.24 460.86 231.03 461.31 C230.82 461.75 229.68 462.10 228.78 461.99 C227.87 461.88 226.44 461.00 225.58 460.66 C224.73 460.32 224.18 460.01 223.64 459.98 C223.10 459.95 222.78 459.92 222.36 460.48 C221.93 461.04 221.48 461.97 221.11 463.32 C220.74 464.68 220.55 467.73 220.14 468.62 C219.72 469.50 218.86 468.95 218.64 468.62 Z" fill="#5DB5F2" stroke="#5DB5F2" stroke-width="0.6" stroke-linejoin="round"/>
<path d="M214.44 458.54 C214.61 457.98 215.61 457.70 216.35 457.53 C217.09 457.36 218.25 457.31 218.89 457.53 C219.52 457.75 220.01 458.31 220.17 458.86 C220.33 459.41 220.18 460.29 219.86 460.84 C219.54 461.39 218.74 461.73 218.26 462.17 C217.78 462.61 217.35 463.31 216.98 463.47 C216.61 463.63 216.31 463.58 216.04 463.14 C215.77 462.71 215.65 461.61 215.38 460.84 C215.12 460.07 214.28 459.09 214.44 458.54 Z" fill="#EDB8C6" stroke="#EDB8C6" stroke-width="0.6" stroke-linejoin="round"/>
<path d="M31.50 455.50 L31.50 489.70 L64.50 489.70" fill="none" stroke="#1c1c1c" stroke-width="1.1"/>
<path d="M31.50 451.50 L29.10 456.00 L33.90 456.00 Z" fill="#1c1c1c"/>
<path d="M68.50 489.70 L64.00 487.30 L64.00 492.10 Z" fill="#1c1c1c"/>
<text x="21.30" y="470.50" font-size="7.20" text-anchor="middle" fill="#1c1c1c" textLength="37.0" lengthAdjust="spacingAndGlyphs" transform="rotate(-90 21.30 470.50)">LARGEVIS 2</text>
<text x="31.00" y="502.50" font-size="7.20" text-anchor="start" fill="#1c1c1c" textLength="36.5" lengthAdjust="spacingAndGlyphs">LARGEVIS 1</text>
<path d="M235.3 147.5h0M237.1 146.6h0M236.5 146.9h0M251.0 144.7h0M253.2 147.3h0M255.7 146.1h0M265.5 137.8h0M266.6 139.0h0M271.1 137.2h0M271.6 132.7h0M272.2 133.1h0M273.0 133.1h0M275.0 131.2h0M277.7 130.6h0M276.2 128.3h0M282.5 125.0h0M285.1 126.4h0M285.8 126.1h0M289.2 135.0h0M291.4 137.5h0M290.7 136.2h0M292.6 143.3h0M290.9 144.0h0M290.6 145.9h0M290.5 147.5h0M289.8 150.7h0M290.8 152.5h0M290.1 160.3h0M287.6 160.1h0M286.9 164.6h0M287.7 162.9h0M285.0 168.4h0M282.9 171.5h0M282.9 172.6h0M280.7 175.9h0M278.3 179.3h0M281.4 185.0h0M281.1 191.4h0M281.9 194.7h0M281.9 192.4h0M281.6 194.7h0M284.1 196.1h0M287.7 203.5h0M286.6 206.4h0M287.0 208.7h0M289.2 209.9h0M291.6 212.9h0M292.9 215.0h0M293.5 221.5h0M292.4 223.6h0M294.9 225.1h0M290.7 228.7h0M289.7 229.2h0M285.3 230.0h0M282.2 230.1h0M282.4 233.2h0M280.7 233.9h0M274.5 232.7h0M267.9 234.5h0M262.0 234.0h0M261.0 236.1h0M257.3 235.7h0M255.9 234.3h0M253.0 235.6h0M247.9 233.8h0M245.3 229.3h0M240.6 228.1h0M239.8 226.5h0M235.7 225.1h0M236.6 223.0h0M235.9 221.5h0M233.8 219.9h0M231.3 215.7h0M229.9 215.5h0M231.5 210.7h0M228.8 210.8h0M228.7 208.9h0M230.6 207.8h0M229.8 205.0h0M230.4 194.9h0M231.6 191.4h0M232.3 189.6h0M232.9 186.6h0M231.7 184.0h0M232.9 181.9h0M233.3 177.8h0M231.0 174.9h0M230.8 172.1h0M231.1 168.9h0M232.4 168.5h0M234.0 165.7h0M233.1 166.6h0M234.4 161.7h0M232.3 156.5h0M234.2 154.4h0M234.6 155.0h0M233.1 152.2h0M232.7 151.0h0" stroke="#DE766E" stroke-width="1.7" stroke-linecap="round" fill="none"/>
<path d="M292.4 90.0h0M296.2 90.4h0M298.2 92.1h0M300.7 96.4h0M302.6 99.6h0M303.6 102.0h0M306.0 102.9h0M305.6 106.8h0M306.4 108.8h0M308.3 109.7h0M309.2 109.2h0M311.6 112.2h0M313.0 113.4h0M316.6 112.9h0M318.1 111.8h0M318.9 113.8h0M321.7 111.3h0M323.7 115.9h0M328.5 117.8h0M330.3 119.3h0M329.8 123.2h0M332.5 122.7h0M331.9 125.7h0M334.2 128.9h0M333.5 130.2h0M333.2 134.9h0M337.4 139.2h0M337.1 140.0h0M337.1 143.7h0M336.3 144.5h0M335.5 146.9h0M336.2 150.6h0M335.2 149.8h0M335.7 151.3h0M335.2 155.6h0M335.7 158.3h0M335.2 160.5h0M334.4 162.0h0M327.9 168.2h0M327.4 167.2h0M325.2 167.6h0M317.7 169.4h0M317.7 168.9h0M314.6 166.3h0M313.4 166.7h0M310.5 169.7h0M308.6 169.7h0M305.4 173.0h0M301.0 171.4h0M300.9 172.2h0M296.2 176.7h0M294.6 177.1h0M288.8 174.6h0M286.6 171.1h0M288.0 170.9h0M285.1 168.2h0M285.0 165.4h0M287.4 166.2h0M283.7 157.2h0M284.3 151.8h0M285.0 151.7h0M284.2 149.6h0M284.4 146.4h0M284.7 145.1h0M282.8 144.0h0M282.2 141.8h0M283.3 139.6h0M284.2 130.4h0M285.1 129.2h0M282.8 126.5h0M284.0 120.4h0M284.0 116.9h0M285.9 115.5h0M283.4 112.7h0M285.5 111.5h0M284.1 108.0h0M285.2 105.9h0M284.9 103.3h0M285.9 102.5h0M284.1 98.7h0M285.2 97.2h0M286.1 94.7h0M291.0 89.5h0" stroke="#C48D20" stroke-width="1.7" stroke-linecap="round" fill="none"/>
<path d="M276.0 42.5h0M283.3 42.8h0M286.7 41.6h0M287.5 40.9h0M287.2 40.7h0M292.6 41.5h0M294.8 43.6h0M295.3 48.3h0M294.6 50.6h0M294.4 49.6h0M294.5 54.0h0M293.8 55.6h0M293.6 58.3h0M294.7 57.8h0M294.9 58.4h0M295.5 61.5h0M296.2 65.9h0M296.0 64.3h0M295.2 67.4h0M293.4 67.1h0M296.2 71.8h0M295.1 72.6h0M295.1 74.3h0M294.8 77.8h0M296.4 79.9h0M295.8 82.3h0M295.9 85.6h0M295.2 89.2h0M294.4 91.3h0M288.5 96.0h0M288.4 96.5h0M287.8 99.7h0M284.7 101.3h0M284.5 99.1h0M280.0 101.4h0M276.5 101.5h0M273.8 101.5h0M272.8 102.1h0M272.2 101.6h0M269.9 100.7h0M270.9 91.6h0M270.8 91.3h0M271.9 87.5h0M273.4 79.8h0M272.7 75.7h0M271.2 72.7h0M271.6 68.6h0M273.1 67.2h0M272.3 64.5h0M273.7 60.8h0M271.0 60.2h0M273.0 57.4h0M271.9 56.0h0M272.1 50.6h0M274.2 48.4h0M273.6 47.9h0M274.3 45.9h0" stroke="#D83A3A" stroke-width="1.7" stroke-linecap="round" fill="none"/>
<path d="M237.6 93.8h0M240.8 95.7h0M242.3 94.1h0M241.9 96.0h0M242.7 96.6h0M243.6 97.8h0M248.5 97.9h0M247.7 98.2h0M251.2 100.2h0M264.0 99.6h0M264.7 97.9h0M269.1 103.2h0M269.1 104.5h0M267.8 104.5h0M266.3 105.8h0M263.8 107.0h0M261.9 107.4h0M259.4 113.4h0M258.4 114.9h0M256.6 118.6h0M257.5 119.5h0M256.5 123.7h0M257.1 125.9h0M258.2 128.8h0M258.0 129.0h0M257.8 132.4h0M258.2 132.6h0M259.7 135.9h0M257.6 140.1h0M255.0 144.3h0M253.2 144.8h0M253.6 146.3h0M252.5 147.2h0M246.2 146.7h0M242.5 143.2h0M242.2 142.0h0M242.1 137.4h0M241.9 135.9h0M241.8 134.0h0M243.8 131.4h0M243.5 127.7h0M241.4 126.3h0M242.0 114.2h0M241.1 113.8h0M237.5 104.8h0M235.4 105.0h0M231.7 100.7h0M232.1 101.1h0M234.0 96.9h0M234.5 96.5h0" stroke="#96BFE6" stroke-width="1.7" stroke-linecap="round" fill="none"/>
<path d="M225.8 49.7h0M228.6 54.5h0M227.8 54.6h0M226.8 58.6h0M229.3 62.5h0M232.7 69.3h0M243.8 78.1h0M248.2 82.1h0M247.9 81.6h0M246.8 83.2h0M249.8 86.6h0M246.9 89.9h0M245.1 88.3h0M241.3 88.1h0M241.4 87.7h0M237.7 89.0h0M233.8 89.1h0M233.2 88.1h0M231.3 87.3h0M227.5 89.9h0M225.7 92.5h0M225.0 91.6h0M214.8 78.5h0M212.9 77.1h0M215.2 70.8h0M214.7 70.9h0M215.0 62.5h0M216.5 59.9h0M218.2 60.2h0M217.7 55.6h0M218.7 55.3h0M217.6 54.0h0M219.5 53.3h0M219.3 51.9h0" stroke="#AAD48C" stroke-width="1.7" stroke-linecap="round" fill="none"/>
<path d="M142.5 117.3h0M143.5 115.5h0M147.8 114.1h0M149.6 114.6h0M159.7 117.1h0M160.0 114.9h0M161.6 113.7h0M164.0 114.7h0M165.9 115.1h0M171.7 112.7h0M164.4 115.2h0M165.9 119.8h0M164.8 120.3h0M165.0 124.3h0M165.1 122.8h0M166.3 124.8h0M166.6 130.5h0M165.0 131.0h0M160.9 132.2h0M157.8 134.1h0M157.1 135.4h0M153.5 130.9h0M153.4 132.3h0M154.0 129.0h0M151.9 128.8h0M145.7 123.0h0M143.9 122.2h0M143.2 123.7h0" stroke="#EFCB35" stroke-width="1.7" stroke-linecap="round" fill="none"/>
<path d="M179.9 180.8h0M180.3 177.6h0M179.8 174.0h0M182.8 168.7h0M181.5 164.8h0M181.8 164.9h0M182.8 161.6h0M182.2 159.2h0M183.3 160.2h0M184.5 159.3h0M186.1 156.1h0M187.0 152.3h0M189.3 148.1h0M192.4 144.8h0M198.1 137.1h0M198.8 139.2h0M197.7 139.7h0M195.4 147.0h0M194.0 151.5h0M194.7 152.5h0M198.8 151.0h0M199.6 151.5h0M201.7 153.9h0M202.6 153.4h0M204.6 153.1h0M210.4 155.6h0M212.6 158.8h0M212.7 163.6h0M209.7 164.1h0M207.5 164.3h0M204.3 162.2h0M199.7 161.6h0M199.4 159.9h0M194.5 160.8h0M189.4 161.1h0M189.4 161.4h0M189.0 162.9h0M186.8 164.0h0M186.7 165.4h0M184.2 168.7h0M183.3 172.9h0M184.4 176.9h0M182.3 182.2h0" stroke="#5DB5F2" stroke-width="1.7" stroke-linecap="round" fill="none"/>
<path d="M170.4 153.9h0M173.2 153.4h0M173.5 152.8h0M177.4 151.7h0M180.5 151.3h0M182.9 160.2h0M182.8 161.7h0M180.3 163.3h0M176.9 163.1h0M176.5 165.7h0M176.8 166.4h0M173.8 167.6h0M171.5 166.6h0M169.9 163.0h0M167.6 162.2h0M165.5 156.5h0" stroke="#EDB8C6" stroke-width="1.7" stroke-linecap="round" fill="none"/>
<path d="M269.0 104.6h0M280.1 101.2h0M276.2 114.1h0M260.0 120.3h0M259.3 117.1h0M272.4 134.4h0M262.2 107.8h0M279.3 139.7h0M277.6 115.5h0M287.2 110.7h0M262.9 103.2h0M268.5 133.9h0M264.1 123.6h0M279.7 114.4h0M276.6 100.8h0M260.0 107.1h0M281.1 116.8h0M268.7 123.8h0M273.4 111.2h0M266.3 123.3h0M275.9 136.5h0M282.8 110.7h0M291.3 103.2h0M272.2 131.3h0M263.2 119.5h0M259.3 127.4h0M284.0 123.2h0M287.8 111.8h0M281.6 124.2h0M277.7 118.1h0M274.1 127.2h0M260.1 128.9h0M285.9 110.5h0M271.1 127.4h0M258.8 118.3h0M263.7 103.2h0M260.0 131.8h0M262.4 108.9h0M271.3 136.3h0M260.7 117.8h0M276.7 136.9h0M267.5 116.3h0M270.2 136.9h0M290.6 104.6h0M264.0 108.2h0M265.9 119.3h0M278.0 109.6h0M270.6 122.9h0M275.5 125.2h0M281.0 100.4h0M271.3 115.6h0M261.5 125.9h0M265.1 105.1h0M269.6 100.3h0M261.4 114.0h0M278.9 104.5h0M266.6 113.3h0M270.4 103.4h0M273.8 119.3h0M269.6 109.6h0M286.2 105.1h0M276.0 104.5h0M276.5 99.2h0M276.0 141.1h0M266.9 114.1h0M263.7 132.0h0M276.1 132.3h0M269.2 107.8h0M265.7 120.8h0M270.1 99.3h0M266.8 128.5h0M265.5 108.0h0M264.7 107.0h0M279.2 137.6h0M280.2 133.2h0M260.9 127.1h0M283.5 119.0h0M264.1 132.7h0M269.3 133.2h0M271.6 139.7h0M282.6 105.5h0M262.3 104.7h0M263.0 134.4h0M269.9 122.1h0M275.9 139.1h0M272.7 136.4h0M286.1 107.3h0M266.6 110.9h0M266.2 123.8h0M266.8 116.4h0M262.5 138.0h0M270.0 118.2h0M277.8 137.8h0M272.3 138.4h0M275.1 121.4h0M275.8 98.8h0M273.0 106.1h0M263.9 118.8h0M282.7 122.5h0M269.1 120.8h0M276.9 132.5h0M261.6 122.7h0M266.4 110.2h0M284.3 120.3h0M277.1 131.4h0M278.8 120.2h0M275.4 128.5h0M273.4 121.5h0M274.3 139.4h0M281.8 136.6h0M277.0 139.5h0M286.6 104.0h0M262.1 117.5h0M260.5 108.6h0M260.5 127.5h0M263.3 129.5h0M280.4 104.3h0M271.5 119.4h0M263.5 117.0h0M275.5 112.9h0M264.7 112.0h0M282.6 98.9h0M276.8 117.4h0M279.2 120.5h0M261.6 109.7h0M259.3 132.3h0M267.2 103.7h0M272.4 138.1h0M285.8 109.4h0M263.1 138.4h0M277.4 128.8h0M281.4 116.7h0M279.6 133.3h0M260.8 135.7h0M260.3 136.0h0M273.4 112.9h0M276.8 138.8h0M267.1 103.7h0M275.9 108.5h0M261.7 105.1h0M259.7 106.9h0M268.6 111.4h0M283.8 110.8h0M275.0 105.8h0M282.9 122.2h0M264.4 118.9h0M289.8 102.7h0M285.8 117.0h0M274.8 134.7h0M271.4 120.3h0M269.7 134.6h0M282.0 126.0h0M271.8 113.3h0M260.4 130.6h0M266.7 105.2h0M260.9 135.0h0M267.6 108.7h0M268.0 118.2h0M263.4 117.6h0M268.5 113.7h0M274.1 120.1h0M264.8 120.2h0M261.1 115.6h0M268.3 108.2h0M277.9 121.3h0M283.5 126.9h0M282.3 136.7h0M271.2 112.3h0M291.5 104.6h0M282.6 126.3h0M283.0 133.7h0M262.7 121.0h0M275.1 134.7h0M277.9 137.3h0M281.2 128.5h0M262.5 113.9h0M261.6 134.8h0M277.0 125.6h0M279.3 127.9h0M275.1 121.5h0M280.4 100.9h0M283.1 109.1h0M260.5 109.7h0M282.8 107.0h0M274.8 114.8h0M274.3 128.1h0M284.1 125.1h0M279.9 101.4h0M263.0 109.2h0M283.3 111.4h0" stroke="#D83A3A" stroke-width="2" stroke-linecap="round" fill="none"/>
<path d="M280.4 166.6h0M294.5 180.1h0M294.5 167.3h0M290.9 172.9h0M289.3 166.6h0M283.8 188.3h0M283.8 176.6h0M282.3 174.8h0M297.9 174.3h0M299.4 180.5h0M284.3 186.7h0M289.4 167.7h0M282.2 169.0h0M286.3 184.9h0M287.6 170.6h0M287.3 171.7h0M281.3 184.7h0M285.6 187.9h0M284.7 166.5h0M287.6 188.6h0M300.6 175.6h0M295.8 172.4h0M296.3 178.6h0M289.9 169.0h0M285.8 181.6h0M294.1 167.6h0M291.8 170.6h0M282.8 163.2h0M283.8 187.0h0M290.4 165.0h0M283.4 160.9h0M284.5 166.3h0M292.1 186.4h0M296.2 171.2h0M288.5 174.8h0M287.7 168.8h0M280.4 166.9h0M290.6 178.1h0M285.2 166.0h0M288.2 172.3h0M299.6 173.1h0M288.0 187.7h0M281.5 162.9h0M291.0 179.8h0M293.9 182.5h0" stroke="#C48D20" stroke-width="2" stroke-linecap="round" fill="none"/>
<path d="M241.7 88.6h0M235.0 93.0h0M247.4 85.6h0M231.8 85.0h0M247.1 90.4h0M231.4 82.8h0M243.7 89.0h0M239.6 84.7h0M237.0 87.5h0M235.0 85.0h0M242.9 90.1h0M240.6 85.1h0M238.1 87.0h0M248.5 84.4h0M251.9 90.9h0M243.1 84.5h0M234.6 91.1h0M236.8 93.4h0M242.9 84.2h0M234.7 87.0h0M232.4 86.7h0M234.4 93.7h0M232.3 82.6h0M229.8 86.7h0M233.6 93.2h0M254.6 82.7h0M246.5 81.6h0M243.8 82.1h0M246.0 92.9h0M259.0 83.9h0M246.4 95.1h0M241.4 82.4h0M247.5 92.7h0M237.0 75.4h0M261.8 79.9h0M256.9 94.7h0M245.5 80.3h0M262.8 88.2h0M243.3 90.5h0M244.9 80.3h0M261.7 88.6h0M242.5 84.9h0M246.8 79.8h0M248.0 85.3h0M258.5 91.0h0M259.0 91.8h0M253.0 81.5h0M211.2 84.2h0M210.0 90.8h0M208.3 87.4h0M209.0 86.5h0M215.1 85.6h0M210.3 85.1h0M214.2 89.5h0M215.5 92.4h0M250.2 84.9h0M261.1 63.4h0M255.5 79.8h0M249.5 71.8h0M248.3 66.5h0M250.1 79.2h0M256.4 66.5h0M256.9 65.9h0M251.0 66.5h0M258.7 77.5h0" stroke="#AAD48C" stroke-width="1.8" stroke-linecap="round" fill="none"/>
<path d="M196.6 122.4h0M200.5 125.9h0M194.5 127.5h0M198.2 124.0h0M185.4 137.7h0M194.7 126.5h0M193.2 124.6h0M199.8 133.1h0M192.4 136.4h0M201.1 129.0h0M222.9 165.5h0M221.9 154.0h0M221.4 155.6h0M216.9 171.2h0M222.0 154.6h0M214.6 160.0h0M218.2 159.6h0M213.5 156.2h0M228.7 196.9h0M229.1 171.1h0M230.1 173.5h0M227.2 186.5h0M227.5 179.2h0M225.0 187.5h0" stroke="#5DB5F2" stroke-width="1.8" stroke-linecap="round" fill="none"/>
<path d="M199.6 99.6h0M213.2 119.8h0M223.2 99.1h0M203.7 126.3h0M213.8 107.7h0M209.6 137.9h0M209.8 120.5h0M211.6 113.7h0M211.9 103.9h0M226.8 104.2h0M214.4 131.9h0M213.7 134.7h0M215.9 102.3h0M197.6 119.8h0M200.7 123.0h0M212.2 117.7h0M203.0 107.7h0M218.4 136.6h0M201.5 117.1h0M205.1 100.7h0M216.8 97.4h0M235.0 112.5h0" stroke="#8FA8C8" stroke-width="1.8" stroke-linecap="round" fill="none"/>
<path d="M172.0 123.9h0M172.3 119.9h0M172.9 116.2h0M176.7 126.0h0M172.4 115.2h0M172.6 113.9h0M167.8 119.8h0M174.9 113.5h0" stroke="#EFCB35" stroke-width="1.8" stroke-linecap="round" fill="none"/>
<path d="M267.9 83.8h0M266.1 63.5h0M266.0 72.6h0M269.6 65.8h0M268.9 89.9h0M267.9 84.8h0M263.5 89.5h0M265.9 88.8h0" stroke="#D83A3A" stroke-width="1.8" stroke-linecap="round" fill="none"/>
<path d="M85.1 417.4h0M86.3 419.9h0M85.2 423.6h0M84.6 430.5h0M83.9 431.1h0M81.5 430.2h0M80.1 430.3h0M80.7 425.2h0M81.6 421.9h0M165.5 421.0h0M169.8 420.5h0M170.4 423.1h0M169.5 425.0h0M165.0 425.4h0M165.9 422.8h0M339.6 416.1h0M341.1 418.3h0M341.9 420.9h0M341.1 428.0h0M341.4 429.9h0M338.2 429.6h0M336.5 430.0h0M336.8 424.9h0M337.2 421.8h0M338.5 430.1h0M338.2 429.0h0M341.2 430.2h0M340.0 432.7h0M340.7 433.7h0M340.9 433.3h0M340.4 437.2h0M340.5 438.5h0M340.5 442.8h0M340.2 442.3h0M339.8 445.9h0M337.9 433.7h0M337.5 431.0h0M421.7 418.3h0M424.5 417.6h0M427.0 420.0h0M429.0 423.4h0M427.0 424.3h0M427.1 427.5h0M426.2 431.8h0M425.2 432.2h0M426.0 432.4h0M422.1 428.9h0M422.6 427.3h0M420.5 422.8h0M505.0 421.0h0M509.0 422.8h0M511.0 426.8h0M508.5 429.8h0M508.9 431.8h0M506.5 430.1h0M505.7 429.8h0M504.7 426.3h0M504.4 423.3h0M252.8 417.7h0M255.3 418.2h0M258.1 418.7h0M258.4 421.0h0M258.2 426.0h0M258.4 429.5h0M259.6 433.3h0M259.3 435.1h0M251.5 438.1h0M252.0 432.0h0M250.5 428.5h0M250.9 428.2h0M250.5 424.0h0M250.4 421.6h0" stroke="#D83A3A" stroke-width="1.2" stroke-linecap="round" fill="none"/>
<path d="M63.9 420.3h0M63.8 420.5h0M65.9 423.0h0M64.9 425.8h0M64.5 427.1h0M63.9 426.8h0M61.0 423.6h0M61.1 423.3h0M60.8 422.1h0M317.1 420.5h0M320.7 421.6h0M319.5 422.1h0M319.4 423.7h0M320.8 426.2h0M316.9 431.1h0M316.5 426.9h0M315.0 422.6h0M399.9 421.3h0M403.9 421.1h0M404.6 425.2h0M401.2 428.7h0M401.1 423.6h0M484.6 428.8h0M486.1 428.0h0M486.5 422.2h0M488.8 421.5h0M487.2 423.7h0M487.7 426.3h0M488.0 425.6h0M488.5 428.3h0M487.2 433.4h0M486.3 431.2h0M232.7 420.2h0M239.9 430.5h0M241.8 430.5h0M243.7 433.4h0M238.8 435.2h0M236.2 435.3h0M233.3 434.3h0M232.0 430.6h0M231.0 426.7h0M231.0 424.3h0M231.4 421.5h0" stroke="#AAD48C" stroke-width="1.2" stroke-linecap="round" fill="none"/>
<path d="M37.3 443.5h0M40.3 445.0h0M291.7 442.7h0M293.8 445.7h0M297.2 449.6h0M292.2 449.2h0M291.3 447.3h0M375.5 442.4h0M380.2 446.0h0M380.3 447.5h0M376.9 446.4h0M460.1 445.3h0M463.4 442.0h0M463.0 445.2h0M466.7 448.2h0M466.9 448.2h0M464.0 450.3h0M460.9 448.2h0M460.7 447.5h0M206.1 444.8h0M208.1 443.3h0M209.4 445.0h0M212.9 443.7h0M213.4 445.3h0M214.6 446.4h0M215.4 449.7h0M213.4 450.4h0M211.7 451.1h0M205.2 446.0h0" stroke="#EFCB35" stroke-width="1.2" stroke-linecap="round" fill="none"/>
<path d="M48.3 458.8h0M47.6 461.0h0M45.2 462.0h0M43.8 458.6h0M471.2 458.1h0M472.9 457.3h0M474.4 460.3h0M218.8 457.6h0M219.9 459.5h0M218.3 462.3h0M218.9 462.2h0M216.9 464.3h0M216.1 461.8h0" stroke="#EDB8C6" stroke-width="1.2" stroke-linecap="round" fill="none"/>
<path d="M48.7 455.3h0M49.2 454.6h0M52.4 451.8h0M53.0 452.4h0M51.2 459.0h0" stroke="#79AEDB" stroke-width="1.2" stroke-linecap="round" fill="none"/>
<path d="M86.7 441.0h0M88.3 445.4h0M88.6 446.8h0M86.2 450.2h0M84.5 450.3h0M85.2 449.6h0M84.3 447.3h0M84.8 446.2h0M84.7 442.9h0M97.3 445.1h0M103.2 455.0h0M101.7 457.8h0M100.0 459.5h0M96.4 459.9h0M96.7 460.2h0M94.0 452.5h0M95.1 449.7h0M93.8 449.2h0M179.4 444.3h0M184.2 447.9h0M185.8 446.9h0M187.2 456.7h0M186.2 455.9h0M182.7 457.3h0M182.7 458.2h0M180.9 455.3h0M180.7 452.8h0M181.1 451.6h0M179.0 446.7h0M341.0 442.0h0M342.7 441.7h0M349.1 441.3h0M351.5 442.5h0M353.5 443.0h0M354.3 443.9h0M355.4 444.7h0M356.4 446.0h0M356.7 453.5h0M354.5 459.8h0M352.6 456.1h0M351.1 453.1h0M350.2 450.7h0M350.4 450.9h0M344.3 447.4h0M343.2 446.9h0M339.9 447.0h0M429.2 442.5h0M430.6 441.9h0M432.9 443.7h0M433.9 441.9h0M438.0 444.0h0M439.2 443.1h0M442.2 447.1h0M440.6 446.5h0M442.0 451.7h0M442.4 452.2h0M442.2 454.1h0M440.7 459.6h0M441.7 458.9h0M439.5 462.6h0M439.2 463.5h0M436.5 463.6h0M435.3 464.7h0M429.7 458.9h0M430.0 456.5h0M430.7 454.8h0M428.6 451.1h0M509.0 444.4h0M516.4 445.2h0M517.3 445.4h0M520.5 445.9h0M523.6 444.8h0M527.1 452.5h0M527.4 453.9h0M527.1 456.3h0M522.6 461.6h0M515.9 463.0h0M515.2 460.4h0M512.6 456.2h0M512.9 457.0h0M262.8 439.1h0M262.0 439.6h0M264.5 443.5h0M267.2 442.5h0M270.9 445.5h0M272.6 448.7h0M273.2 449.8h0M273.6 454.5h0M272.4 458.9h0M270.6 463.3h0M262.9 464.5h0M261.1 466.2h0M261.0 464.7h0M258.7 465.8h0M257.3 465.1h0M255.7 456.2h0M254.8 456.6h0M254.1 454.0h0M254.2 449.7h0M254.7 445.1h0M255.0 442.1h0M255.5 436.5h0" stroke="#C48D20" stroke-width="1.2" stroke-linecap="round" fill="none"/>
<path d="M73.2 455.0h0M74.3 454.9h0M80.6 455.7h0M79.6 455.1h0M82.0 459.0h0M83.4 459.5h0M81.8 459.8h0M82.4 462.9h0M82.0 462.4h0M82.5 469.5h0M80.8 469.7h0M83.0 471.9h0M81.4 478.6h0M82.1 477.9h0M81.3 479.9h0M78.6 481.5h0M77.0 482.1h0M76.3 482.1h0M71.3 480.6h0M68.6 477.6h0M67.2 472.2h0M66.3 471.3h0M66.6 469.0h0M67.4 459.9h0M69.1 459.0h0M70.1 455.9h0M151.4 458.6h0M155.1 458.4h0M158.6 459.0h0M159.2 461.9h0M161.8 461.9h0M163.2 465.0h0M164.0 470.0h0M163.4 475.0h0M163.1 482.8h0M162.5 483.5h0M157.9 483.7h0M155.6 484.1h0M150.7 475.7h0M152.5 474.4h0M152.0 469.6h0M152.6 464.7h0M152.9 463.1h0M151.7 460.4h0M330.2 454.5h0M331.2 454.0h0M336.3 451.5h0M335.7 449.9h0M339.1 451.5h0M340.8 451.8h0M339.5 451.8h0M340.1 454.9h0M339.8 454.4h0M340.5 461.5h0M339.0 461.6h0M341.8 463.5h0M342.2 469.3h0M343.2 468.5h0M344.2 470.8h0M342.0 472.5h0M342.1 473.6h0M342.2 474.3h0M343.2 482.2h0M341.3 485.7h0M337.8 485.5h0M335.1 487.2h0M334.2 486.6h0M325.7 484.7h0M325.6 484.8h0M323.7 482.7h0M321.7 480.9h0M320.1 478.0h0M319.9 476.8h0M321.9 472.6h0M320.5 467.8h0M321.1 467.2h0M324.6 463.9h0M325.7 462.1h0M326.7 463.9h0M330.7 460.8h0M330.2 459.1h0M328.9 458.3h0M426.7 448.5h0M427.0 451.4h0M424.7 454.7h0M424.4 458.3h0M422.4 460.8h0M420.7 466.0h0M422.0 473.7h0M421.7 476.5h0M419.8 478.0h0M420.3 479.2h0M416.1 484.7h0M410.6 485.6h0M408.4 483.6h0M406.3 479.1h0M406.3 474.9h0M406.4 467.0h0M405.9 466.9h0M408.3 460.0h0M413.9 458.0h0M414.8 459.0h0M422.4 452.3h0M424.0 448.9h0M426.8 448.5h0M509.3 448.5h0M509.6 449.9h0M510.6 452.8h0M508.8 458.6h0M508.3 460.9h0M505.3 464.5h0M504.5 467.7h0M505.3 469.6h0M505.5 469.1h0M501.9 473.6h0M502.2 474.3h0M502.2 476.8h0M501.5 478.7h0M500.4 481.3h0M500.0 480.4h0M497.5 481.0h0M495.8 481.0h0M494.4 478.4h0M493.8 475.7h0M495.3 475.5h0M496.7 469.9h0M498.0 468.5h0M499.9 463.3h0M499.0 465.0h0M501.3 462.3h0M501.8 461.2h0M500.4 459.9h0M502.5 456.8h0M505.6 451.9h0M506.1 449.2h0M239.5 456.4h0M241.7 455.9h0M241.6 456.1h0M255.8 446.8h0M257.1 450.9h0M258.6 452.5h0M253.1 467.7h0M253.4 470.5h0M256.1 474.3h0M256.2 475.8h0M257.2 478.7h0M258.1 480.4h0M258.9 483.2h0M259.2 485.2h0M256.7 485.5h0M248.8 487.7h0M245.1 487.7h0M243.4 486.1h0M236.8 480.7h0M237.4 477.7h0M236.7 475.7h0M237.5 470.8h0M236.8 467.1h0M236.8 465.9h0M236.9 465.2h0M237.0 459.3h0M237.9 456.4h0" stroke="#DE766E" stroke-width="1.2" stroke-linecap="round" fill="none"/>
<path d="M307.1 452.7h0M307.8 453.9h0M304.4 459.7h0M303.1 456.0h0M393.5 453.1h0M394.5 456.1h0M393.8 458.1h0M389.8 458.3h0M389.7 455.2h0M391.9 452.4h0M479.0 451.9h0M478.4 453.6h0M477.8 454.5h0M477.8 456.8h0M478.1 458.3h0M477.3 463.6h0M473.0 466.7h0M472.5 465.8h0M475.4 458.8h0M475.8 454.8h0M476.0 454.1h0M219.3 464.1h0M220.3 462.5h0M222.2 455.7h0M225.4 451.6h0M224.6 453.5h0M224.8 455.3h0M225.0 457.7h0M225.9 458.8h0M228.4 459.0h0M230.4 460.2h0M227.1 462.0h0M226.8 462.2h0M224.8 460.5h0M223.2 459.8h0M222.7 461.5h0M220.4 464.5h0M219.7 469.1h0" stroke="#5DB5F2" stroke-width="1.2" stroke-linecap="round" fill="none"/>
<path d="M300.6 456.2h0M299.7 459.9h0" stroke="#C8B8BC" stroke-width="1.2" stroke-linecap="round" fill="none"/>
<path d="M323.6 439.5h0M325.1 437.4h0M329.8 438.0h0M329.2 438.4h0M329.2 438.9h0M327.1 439.9h0M322.9 441.6h0M323.2 440.8h0M320.5 439.1h0M491.6 437.5h0M491.1 435.2h0M494.2 434.3h0M496.0 438.6h0M240.4 437.1h0M243.9 439.2h0M249.5 440.7h0M245.8 444.1h0M246.8 448.3h0M245.5 450.9h0M246.2 449.9h0M246.1 455.0h0M243.2 454.6h0M241.2 448.6h0M240.7 447.6h0M241.4 442.6h0M238.3 441.7h0M236.8 440.2h0M237.7 439.1h0" stroke="#96BFE6" stroke-width="1.2" stroke-linecap="round" fill="none"/>
<text x="510.00" y="37.10" font-size="44.00" text-anchor="start" fill="#1c1c1c" font-weight="bold" textLength="30.6" lengthAdjust="spacingAndGlyphs">B</text>
<line x1="622.60" y1="29.50" x2="622.60" y2="245.20" stroke="#1c1c1c" stroke-width="1.4"/>
<line x1="621.90" y1="245.20" x2="1041.00" y2="245.20" stroke="#1c1c1c" stroke-width="1.4"/>
<line x1="618.00" y1="45.00" x2="622.60" y2="45.00" stroke="#1c1c1c" stroke-width="1.2"/>
<text x="612.20" y="50.30" font-size="15.00" text-anchor="end" fill="#1c1c1c" textLength="41.0" lengthAdjust="spacingAndGlyphs">β-cells</text>
<line x1="618.00" y1="71.35" x2="622.60" y2="71.35" stroke="#1c1c1c" stroke-width="1.2"/>
<text x="612.20" y="76.65" font-size="15.00" text-anchor="end" fill="#1c1c1c" textLength="41.1" lengthAdjust="spacingAndGlyphs">α-cells</text>
<line x1="618.00" y1="97.70" x2="622.60" y2="97.70" stroke="#1c1c1c" stroke-width="1.2"/>
<text x="612.20" y="103.00" font-size="15.00" text-anchor="end" fill="#1c1c1c" textLength="40.8" lengthAdjust="spacingAndGlyphs">δ-cells</text>
<line x1="618.00" y1="124.05" x2="622.60" y2="124.05" stroke="#1c1c1c" stroke-width="1.2"/>
<text x="612.20" y="129.35" font-size="15.00" text-anchor="end" fill="#1c1c1c" textLength="40.0" lengthAdjust="spacingAndGlyphs">Ductal</text>
<line x1="618.00" y1="150.40" x2="622.60" y2="150.40" stroke="#1c1c1c" stroke-width="1.2"/>
<text x="612.20" y="155.70" font-size="15.00" text-anchor="end" fill="#1c1c1c" textLength="40.0" lengthAdjust="spacingAndGlyphs">Acinar</text>
<line x1="618.00" y1="176.75" x2="622.60" y2="176.75" stroke="#1c1c1c" stroke-width="1.2"/>
<text x="612.20" y="182.05" font-size="15.00" text-anchor="end" fill="#1c1c1c" textLength="47.0" lengthAdjust="spacingAndGlyphs">Stellate</text>
<line x1="618.00" y1="203.10" x2="622.60" y2="203.10" stroke="#1c1c1c" stroke-width="1.2"/>
<text x="612.20" y="208.40" font-size="15.00" text-anchor="end" fill="#1c1c1c" textLength="69.8" lengthAdjust="spacingAndGlyphs">Endothelial</text>
<line x1="618.00" y1="229.45" x2="622.60" y2="229.45" stroke="#1c1c1c" stroke-width="1.2"/>
<text x="612.20" y="234.75" font-size="15.00" text-anchor="end" fill="#1c1c1c" textLength="50.9" lengthAdjust="spacingAndGlyphs">Immune</text>
<line x1="637.50" y1="245.20" x2="637.50" y2="249.40" stroke="#1c1c1c" stroke-width="1.2"/>
<text x="646.30" y="260.20" font-size="15.50" text-anchor="end" fill="#1c1c1c" textLength="25.8" lengthAdjust="spacingAndGlyphs" transform="rotate(-45 646.30 260.20)">Ins1</text>
<line x1="663.25" y1="245.20" x2="663.25" y2="249.40" stroke="#1c1c1c" stroke-width="1.2"/>
<text x="672.05" y="260.20" font-size="15.50" text-anchor="end" fill="#1c1c1c" textLength="31.1" lengthAdjust="spacingAndGlyphs" transform="rotate(-45 672.05 260.20)">Pdx1</text>
<line x1="689.00" y1="245.20" x2="689.00" y2="249.40" stroke="#1c1c1c" stroke-width="1.2"/>
<text x="697.80" y="260.20" font-size="15.50" text-anchor="end" fill="#1c1c1c" textLength="25.0" lengthAdjust="spacingAndGlyphs" transform="rotate(-45 697.80 260.20)">Gcg</text>
<line x1="714.75" y1="245.20" x2="714.75" y2="249.40" stroke="#1c1c1c" stroke-width="1.2"/>
<text x="723.55" y="260.20" font-size="15.50" text-anchor="end" fill="#1c1c1c" textLength="20.5" lengthAdjust="spacingAndGlyphs" transform="rotate(-45 723.55 260.20)">Arx</text>
<line x1="740.50" y1="245.20" x2="740.50" y2="249.40" stroke="#1c1c1c" stroke-width="1.2"/>
<text x="749.30" y="260.20" font-size="15.50" text-anchor="end" fill="#1c1c1c" textLength="19.7" lengthAdjust="spacingAndGlyphs" transform="rotate(-45 749.30 260.20)">Sst</text>
<line x1="766.25" y1="245.20" x2="766.25" y2="249.40" stroke="#1c1c1c" stroke-width="1.2"/>
<text x="775.05" y="260.20" font-size="15.50" text-anchor="end" fill="#1c1c1c" textLength="28.8" lengthAdjust="spacingAndGlyphs" transform="rotate(-45 775.05 260.20)">Arg1</text>
<line x1="792.00" y1="245.20" x2="792.00" y2="249.40" stroke="#1c1c1c" stroke-width="1.2"/>
<text x="800.80" y="260.20" font-size="15.50" text-anchor="end" fill="#1c1c1c" textLength="32.6" lengthAdjust="spacingAndGlyphs" transform="rotate(-45 800.80 260.20)">Krt19</text>
<line x1="817.75" y1="245.20" x2="817.75" y2="249.40" stroke="#1c1c1c" stroke-width="1.2"/>
<text x="826.55" y="260.20" font-size="15.50" text-anchor="end" fill="#1c1c1c" textLength="31.1" lengthAdjust="spacingAndGlyphs" transform="rotate(-45 826.55 260.20)">Sox9</text>
<line x1="843.50" y1="245.20" x2="843.50" y2="249.40" stroke="#1c1c1c" stroke-width="1.2"/>
<text x="852.30" y="260.20" font-size="15.50" text-anchor="end" fill="#1c1c1c" textLength="43.2" lengthAdjust="spacingAndGlyphs" transform="rotate(-45 852.30 260.20)">Cela3b</text>
<line x1="869.25" y1="245.20" x2="869.25" y2="249.40" stroke="#1c1c1c" stroke-width="1.2"/>
<text x="878.05" y="260.20" font-size="15.50" text-anchor="end" fill="#1c1c1c" textLength="33.4" lengthAdjust="spacingAndGlyphs" transform="rotate(-45 878.05 260.20)">Ctrb1</text>
<line x1="895.00" y1="245.20" x2="895.00" y2="249.40" stroke="#1c1c1c" stroke-width="1.2"/>
<text x="903.80" y="260.20" font-size="15.50" text-anchor="end" fill="#1c1c1c" textLength="40.2" lengthAdjust="spacingAndGlyphs" transform="rotate(-45 903.80 260.20)">Pdgfrb</text>
<line x1="920.75" y1="245.20" x2="920.75" y2="249.40" stroke="#1c1c1c" stroke-width="1.2"/>
<text x="929.55" y="260.20" font-size="15.50" text-anchor="end" fill="#1c1c1c" textLength="43.2" lengthAdjust="spacingAndGlyphs" transform="rotate(-45 929.55 260.20)">Col3a1</text>
<line x1="946.50" y1="245.20" x2="946.50" y2="249.40" stroke="#1c1c1c" stroke-width="1.2"/>
<text x="955.30" y="260.20" font-size="15.50" text-anchor="end" fill="#1c1c1c" textLength="50.0" lengthAdjust="spacingAndGlyphs" transform="rotate(-45 955.30 260.20)">Pecam1</text>
<line x1="972.25" y1="245.20" x2="972.25" y2="249.40" stroke="#1c1c1c" stroke-width="1.2"/>
<text x="981.05" y="260.20" font-size="15.50" text-anchor="end" fill="#1c1c1c" textLength="22.7" lengthAdjust="spacingAndGlyphs" transform="rotate(-45 981.05 260.20)">Flt1</text>
<line x1="998.00" y1="245.20" x2="998.00" y2="249.40" stroke="#1c1c1c" stroke-width="1.2"/>
<text x="1006.80" y="260.20" font-size="15.50" text-anchor="end" fill="#1c1c1c" textLength="31.8" lengthAdjust="spacingAndGlyphs" transform="rotate(-45 1006.80 260.20)">Rac2</text>
<line x1="1023.75" y1="245.20" x2="1023.75" y2="249.40" stroke="#1c1c1c" stroke-width="1.2"/>
<text x="1032.55" y="260.20" font-size="15.50" text-anchor="end" fill="#1c1c1c" textLength="28.3" lengthAdjust="spacingAndGlyphs" transform="rotate(-45 1032.55 260.20)">Lyz2</text>
<circle cx="637.5" cy="45.0" r="12" fill="#D95A45"/>
<circle cx="663.2" cy="45.0" r="4.5" fill="#D4745C"/>
<circle cx="689.0" cy="45.0" r="4.5" fill="#F2DDD3"/>
<circle cx="714.8" cy="45.0" r="1.3" fill="#E3D9D6"/>
<circle cx="740.5" cy="45.0" r="2.5" fill="#EEDCD6"/>
<circle cx="766.2" cy="45.0" r="1.3" fill="#E3D9D6"/>
<circle cx="792.0" cy="45.0" r="1.3" fill="#E3D9D6"/>
<circle cx="817.8" cy="45.0" r="1.3" fill="#E3D9D6"/>
<circle cx="843.5" cy="45.0" r="2" fill="#EBDAD4"/>
<circle cx="869.2" cy="45.0" r="2.2" fill="#E8D3CC"/>
<circle cx="895.0" cy="45.0" r="1.3" fill="#E3D9D6"/>
<circle cx="920.8" cy="45.0" r="1.3" fill="#E3D9D6"/>
<circle cx="946.5" cy="45.0" r="1.3" fill="#E3D9D6"/>
<circle cx="972.2" cy="45.0" r="1.3" fill="#E3D9D6"/>
<circle cx="998.0" cy="45.0" r="1.3" fill="#E3D9D6"/>
<circle cx="1023.8" cy="45.0" r="1.3" fill="#E3D9D6"/>
<circle cx="637.5" cy="71.3" r="9.5" fill="#F8E8E4"/>
<circle cx="663.2" cy="71.3" r="0.8" fill="#F3ECEA"/>
<circle cx="689.0" cy="71.3" r="12" fill="#D5231B"/>
<circle cx="714.8" cy="71.3" r="2.8" fill="#D52A1E"/>
<circle cx="740.5" cy="71.3" r="4.5" fill="#EFDAD1"/>
<circle cx="766.2" cy="71.3" r="2.5" fill="#DDB4AA"/>
<circle cx="792.0" cy="71.3" r="1.3" fill="#E3D9D6"/>
<circle cx="817.8" cy="71.3" r="1.3" fill="#E3D9D6"/>
<circle cx="843.5" cy="71.3" r="3" fill="#F0DAD1"/>
<circle cx="869.2" cy="71.3" r="5" fill="#F0D9CF"/>
<circle cx="895.0" cy="71.3" r="1.3" fill="#E3D9D6"/>
<circle cx="920.8" cy="71.3" r="1.3" fill="#E3D9D6"/>
<circle cx="946.5" cy="71.3" r="1.3" fill="#E3D9D6"/>
<circle cx="972.2" cy="71.3" r="1.3" fill="#E3D9D6"/>
<circle cx="998.0" cy="71.3" r="1.3" fill="#E3D9D6"/>
<circle cx="1023.8" cy="71.3" r="1.3" fill="#E3D9D6"/>
<circle cx="637.5" cy="97.7" r="10" fill="#F0D0C3"/>
<circle cx="663.2" cy="97.7" r="2.8" fill="#D45B46"/>
<circle cx="689.0" cy="97.7" r="5" fill="#F2DCD2"/>
<circle cx="714.8" cy="97.7" r="1.3" fill="#E3D9D6"/>
<circle cx="740.5" cy="97.7" r="12" fill="#D5231B"/>
<circle cx="766.2" cy="97.7" r="4.5" fill="#D63121"/>
<circle cx="792.0" cy="97.7" r="1.3" fill="#E3D9D6"/>
<circle cx="817.8" cy="97.7" r="1.3" fill="#E3D9D6"/>
<circle cx="843.5" cy="97.7" r="2" fill="#EBDAD4"/>
<circle cx="869.2" cy="97.7" r="3.5" fill="#EFDAD1"/>
<circle cx="895.0" cy="97.7" r="1.3" fill="#E3D9D6"/>
<circle cx="920.8" cy="97.7" r="1.3" fill="#E3D9D6"/>
<circle cx="946.5" cy="97.7" r="1.3" fill="#E3D9D6"/>
<circle cx="972.2" cy="97.7" r="1.3" fill="#E3D9D6"/>
<circle cx="998.0" cy="97.7" r="1.3" fill="#E3D9D6"/>
<circle cx="1023.8" cy="97.7" r="1.3" fill="#E3D9D6"/>
<circle cx="637.5" cy="124.1" r="9.5" fill="#FAF3F1"/>
<circle cx="663.2" cy="124.1" r="3.5" fill="#EFD0C6"/>
<circle cx="689.0" cy="124.1" r="9.5" fill="#F5E1D9"/>
<circle cx="714.8" cy="124.1" r="1.3" fill="#E3D9D6"/>
<circle cx="740.5" cy="124.1" r="8.5" fill="#F3DDD4"/>
<circle cx="766.2" cy="124.1" r="1.3" fill="#E3D9D6"/>
<circle cx="792.0" cy="124.1" r="9.5" fill="#D8553F"/>
<circle cx="817.8" cy="124.1" r="9.5" fill="#D5231B"/>
<circle cx="843.5" cy="124.1" r="6.5" fill="#F2DBD1"/>
<circle cx="869.2" cy="124.1" r="7.5" fill="#F2DED6"/>
<circle cx="895.0" cy="124.1" r="1.3" fill="#E3D9D6"/>
<circle cx="920.8" cy="124.1" r="1.3" fill="#E3D9D6"/>
<circle cx="946.5" cy="124.1" r="1.3" fill="#E3D9D6"/>
<circle cx="972.2" cy="124.1" r="1.3" fill="#E3D9D6"/>
<circle cx="998.0" cy="124.1" r="1.3" fill="#E3D9D6"/>
<circle cx="1023.8" cy="124.1" r="2" fill="#EFDCD6"/>
<circle cx="637.5" cy="150.4" r="11" fill="#DB7661"/>
<circle cx="663.2" cy="150.4" r="1.8" fill="#D9745B"/>
<circle cx="689.0" cy="150.4" r="3" fill="#F0DED6"/>
<circle cx="714.8" cy="150.4" r="1.3" fill="#E3D9D6"/>
<circle cx="740.5" cy="150.4" r="3" fill="#EFDED7"/>
<circle cx="766.2" cy="150.4" r="1.3" fill="#E3D9D6"/>
<circle cx="792.0" cy="150.4" r="1.3" fill="#E3D9D6"/>
<circle cx="817.8" cy="150.4" r="1.3" fill="#E3D9D6"/>
<circle cx="843.5" cy="150.4" r="6" fill="#D5231B"/>
<circle cx="869.2" cy="150.4" r="10" fill="#D5231B"/>
<circle cx="895.0" cy="150.4" r="1.3" fill="#E3D9D6"/>
<circle cx="920.8" cy="150.4" r="1.3" fill="#E3D9D6"/>
<circle cx="946.5" cy="150.4" r="1.3" fill="#E3D9D6"/>
<circle cx="972.2" cy="150.4" r="1.3" fill="#E3D9D6"/>
<circle cx="998.0" cy="150.4" r="1.3" fill="#E3D9D6"/>
<circle cx="1023.8" cy="150.4" r="1.3" fill="#E3D9D6"/>
<circle cx="637.5" cy="176.8" r="10" fill="#F8E6E0"/>
<circle cx="689.0" cy="176.8" r="9" fill="#F3D9CD"/>
<circle cx="714.8" cy="176.8" r="1.3" fill="#E3D9D6"/>
<circle cx="740.5" cy="176.8" r="6" fill="#F2DCD2"/>
<circle cx="766.2" cy="176.8" r="1.3" fill="#E3D9D6"/>
<circle cx="792.0" cy="176.8" r="3.5" fill="#D9866B"/>
<circle cx="817.8" cy="176.8" r="1.3" fill="#E3D9D6"/>
<circle cx="843.5" cy="176.8" r="5.5" fill="#F2DBD1"/>
<circle cx="869.2" cy="176.8" r="7" fill="#F2DDD4"/>
<circle cx="895.0" cy="176.8" r="4" fill="#D52A1E"/>
<circle cx="920.8" cy="176.8" r="8" fill="#D52A1E"/>
<circle cx="946.5" cy="176.8" r="1.3" fill="#E3D9D6"/>
<circle cx="972.2" cy="176.8" r="1.3" fill="#E3D9D6"/>
<circle cx="998.0" cy="176.8" r="1.3" fill="#E3D9D6"/>
<circle cx="1023.8" cy="176.8" r="1.8" fill="#ECDCD7"/>
<circle cx="637.5" cy="203.1" r="10" fill="#F5DFD7"/>
<circle cx="663.2" cy="203.1" r="1.3" fill="#E3D9D6"/>
<circle cx="689.0" cy="203.1" r="6" fill="#F2D9CF"/>
<circle cx="714.8" cy="203.1" r="1.3" fill="#E3D9D6"/>
<circle cx="740.5" cy="203.1" r="3.5" fill="#F2DED7"/>
<circle cx="766.2" cy="203.1" r="1.3" fill="#E3D9D6"/>
<circle cx="792.0" cy="203.1" r="1.3" fill="#E3D9D6"/>
<circle cx="817.8" cy="203.1" r="1.3" fill="#E3D9D6"/>
<circle cx="843.5" cy="203.1" r="2.5" fill="#EDDBD4"/>
<circle cx="869.2" cy="203.1" r="3.5" fill="#EFD9D1"/>
<circle cx="895.0" cy="203.1" r="1.8" fill="#E0C9C1"/>
<circle cx="920.8" cy="203.1" r="1.3" fill="#E3D9D6"/>
<circle cx="946.5" cy="203.1" r="8" fill="#D5231B"/>
<circle cx="972.2" cy="203.1" r="10" fill="#D5231B"/>
<circle cx="998.0" cy="203.1" r="1.3" fill="#E3D9D6"/>
<circle cx="1023.8" cy="203.1" r="1.3" fill="#E3D9D6"/>
<circle cx="637.5" cy="229.5" r="10" fill="#F5DCD4"/>
<circle cx="663.2" cy="229.5" r="0.8" fill="#F3ECEA"/>
<circle cx="689.0" cy="229.5" r="7.5" fill="#F0D3C6"/>
<circle cx="714.8" cy="229.5" r="1.4" fill="#D8CFCC"/>
<circle cx="740.5" cy="229.5" r="4.5" fill="#F2DCD4"/>
<circle cx="766.2" cy="229.5" r="1.3" fill="#E3D9D6"/>
<circle cx="792.0" cy="229.5" r="1.3" fill="#E3D9D6"/>
<circle cx="817.8" cy="229.5" r="1.3" fill="#E3D9D6"/>
<circle cx="843.5" cy="229.5" r="3.5" fill="#F0D9D1"/>
<circle cx="869.2" cy="229.5" r="4.5" fill="#F0D9CF"/>
<circle cx="895.0" cy="229.5" r="1.3" fill="#E3D9D6"/>
<circle cx="920.8" cy="229.5" r="1.3" fill="#E3D9D6"/>
<circle cx="946.5" cy="229.5" r="1.3" fill="#E3D9D6"/>
<circle cx="972.2" cy="229.5" r="1.3" fill="#E3D9D6"/>
<circle cx="998.0" cy="229.5" r="5" fill="#D5231B"/>
<circle cx="1023.8" cy="229.5" r="7.6" fill="#D5231B"/>
<text x="1076.00" y="42.50" font-size="15.00" text-anchor="start" fill="#1c1c1c" textLength="124.0" lengthAdjust="spacingAndGlyphs">Average Expression</text>
<defs><linearGradient id="cb" x1="0" y1="0" x2="0" y2="1"><stop offset="0" stop-color="#DC2A1A"/><stop offset="0.35" stop-color="#E8724F"/><stop offset="0.62" stop-color="#F3BEA8"/><stop offset="0.85" stop-color="#FBE8E0"/><stop offset="1" stop-color="#FFFFFF"/></linearGradient></defs>
<rect x="1076.00" y="52.70" width="18.40" height="89.80" fill="url(#cb)"/>
<line x1="1090.30" y1="65.60" x2="1094.40" y2="65.60" stroke="#fff" stroke-width="1.1"/>
<text x="1101.80" y="70.80" font-size="14.50" text-anchor="start" fill="#1c1c1c" textLength="7.3" lengthAdjust="spacingAndGlyphs">2</text>
<line x1="1090.30" y1="92.40" x2="1094.40" y2="92.40" stroke="#fff" stroke-width="1.1"/>
<text x="1101.80" y="97.60" font-size="14.50" text-anchor="start" fill="#1c1c1c" textLength="7.3" lengthAdjust="spacingAndGlyphs">1</text>
<line x1="1090.30" y1="119.00" x2="1094.40" y2="119.00" stroke="#fff" stroke-width="1.1"/>
<text x="1101.80" y="124.20" font-size="14.50" text-anchor="start" fill="#1c1c1c" textLength="7.3" lengthAdjust="spacingAndGlyphs">0</text>
<line x1="1090.30" y1="146.10" x2="1094.40" y2="146.10" stroke="#fff" stroke-width="1.1"/>
<text x="1101.80" y="151.30" font-size="14.50" text-anchor="start" fill="#1c1c1c" textLength="14.9" lengthAdjust="spacingAndGlyphs">−1</text>
<text x="1076.00" y="178.50" font-size="15.00" text-anchor="start" fill="#1c1c1c" textLength="117.0" lengthAdjust="spacingAndGlyphs">Percent Expressed</text>
<circle cx="1086.0" cy="198.2" r="3.9" fill="#000"/>
<text x="1104.00" y="203.20" font-size="13.50" text-anchor="start" fill="#1c1c1c" textLength="13.5" lengthAdjust="spacingAndGlyphs">25</text>
<circle cx="1086.0" cy="216.8" r="6.4" fill="#000"/>
<text x="1104.00" y="221.80" font-size="13.50" text-anchor="start" fill="#1c1c1c" textLength="13.5" lengthAdjust="spacingAndGlyphs">50</text>
<circle cx="1086.0" cy="236.4" r="8.9" fill="#000"/>
<text x="1104.00" y="241.40" font-size="13.50" text-anchor="start" fill="#1c1c1c" textLength="13.5" lengthAdjust="spacingAndGlyphs">75</text>
<text x="577.40" y="346.20" font-size="44.00" text-anchor="start" fill="#1c1c1c" font-weight="bold" textLength="30.1" lengthAdjust="spacingAndGlyphs">C</text>
<rect x="671.10" y="341.60" width="4.56" height="15.60" fill="#E2501C"/>
<rect x="675.66" y="341.60" width="2.55" height="15.60" fill="#4C7EB8"/>
<rect x="678.21" y="341.60" width="90.06" height="15.60" fill="#7CCB4E"/>
<rect x="768.27" y="341.60" width="42.84" height="15.60" fill="#F6D43A"/>
<rect x="811.11" y="341.60" width="35.55" height="15.60" fill="#DB2A8C"/>
<rect x="846.65" y="341.60" width="6.75" height="15.60" fill="#7B34E2"/>
<line x1="675.66" y1="341.60" x2="675.66" y2="357.20" stroke="#222" stroke-width="0.9"/>
<line x1="678.21" y1="341.60" x2="678.21" y2="357.20" stroke="#222" stroke-width="0.9"/>
<line x1="768.27" y1="341.60" x2="768.27" y2="357.20" stroke="#222" stroke-width="0.9"/>
<line x1="811.11" y1="341.60" x2="811.11" y2="357.20" stroke="#222" stroke-width="0.9"/>
<line x1="846.65" y1="341.60" x2="846.65" y2="357.20" stroke="#222" stroke-width="0.9"/>
<rect x="671.10" y="341.60" width="182.30" height="15.60" fill="none" stroke="#222" stroke-width="1"/>
<text x="666.50" y="353.10" font-size="12.40" text-anchor="end" fill="#1c1c1c" textLength="31.4" lengthAdjust="spacingAndGlyphs">β-cells</text>
<rect x="671.10" y="359.16" width="3.28" height="15.60" fill="#E2501C"/>
<rect x="674.38" y="359.16" width="3.28" height="15.60" fill="#4C7EB8"/>
<rect x="677.66" y="359.16" width="116.67" height="15.60" fill="#7CCB4E"/>
<rect x="794.33" y="359.16" width="10.39" height="15.60" fill="#F6D43A"/>
<rect x="804.73" y="359.16" width="27.16" height="15.60" fill="#DB2A8C"/>
<rect x="831.89" y="359.16" width="21.51" height="15.60" fill="#7B34E2"/>
<line x1="674.38" y1="359.16" x2="674.38" y2="374.76" stroke="#222" stroke-width="0.9"/>
<line x1="677.66" y1="359.16" x2="677.66" y2="374.76" stroke="#222" stroke-width="0.9"/>
<line x1="794.33" y1="359.16" x2="794.33" y2="374.76" stroke="#222" stroke-width="0.9"/>
<line x1="804.73" y1="359.16" x2="804.73" y2="374.76" stroke="#222" stroke-width="0.9"/>
<line x1="831.89" y1="359.16" x2="831.89" y2="374.76" stroke="#222" stroke-width="0.9"/>
<rect x="671.10" y="359.16" width="182.30" height="15.60" fill="none" stroke="#222" stroke-width="1"/>
<text x="666.50" y="370.66" font-size="12.40" text-anchor="end" fill="#1c1c1c" textLength="31.4" lengthAdjust="spacingAndGlyphs">α-cells</text>
<rect x="671.10" y="376.72" width="6.20" height="15.60" fill="#E2501C"/>
<rect x="677.30" y="376.72" width="1.28" height="15.60" fill="#4C7EB8"/>
<rect x="678.57" y="376.72" width="120.86" height="15.60" fill="#7CCB4E"/>
<rect x="799.44" y="376.72" width="19.87" height="15.60" fill="#F6D43A"/>
<rect x="819.31" y="376.72" width="30.26" height="15.60" fill="#DB2A8C"/>
<rect x="849.57" y="376.72" width="3.83" height="15.60" fill="#7B34E2"/>
<line x1="677.30" y1="376.72" x2="677.30" y2="392.32" stroke="#222" stroke-width="0.9"/>
<line x1="678.57" y1="376.72" x2="678.57" y2="392.32" stroke="#222" stroke-width="0.9"/>
<line x1="799.44" y1="376.72" x2="799.44" y2="392.32" stroke="#222" stroke-width="0.9"/>
<line x1="819.31" y1="376.72" x2="819.31" y2="392.32" stroke="#222" stroke-width="0.9"/>
<line x1="849.57" y1="376.72" x2="849.57" y2="392.32" stroke="#222" stroke-width="0.9"/>
<rect x="671.10" y="376.72" width="182.30" height="15.60" fill="none" stroke="#222" stroke-width="1"/>
<text x="666.50" y="388.22" font-size="12.40" text-anchor="end" fill="#1c1c1c" textLength="31.2" lengthAdjust="spacingAndGlyphs">δ-cells</text>
<rect x="671.10" y="394.28" width="53.23" height="15.60" fill="#E2501C"/>
<rect x="724.33" y="394.28" width="1.09" height="15.60" fill="#4C7EB8"/>
<rect x="725.43" y="394.28" width="15.13" height="15.60" fill="#7CCB4E"/>
<rect x="740.56" y="394.28" width="11.48" height="15.60" fill="#F6D43A"/>
<rect x="752.04" y="394.28" width="2.01" height="15.60" fill="#DB2A8C"/>
<rect x="754.05" y="394.28" width="99.35" height="15.60" fill="#7B34E2"/>
<line x1="724.33" y1="394.28" x2="724.33" y2="409.88" stroke="#222" stroke-width="0.9"/>
<line x1="725.43" y1="394.28" x2="725.43" y2="409.88" stroke="#222" stroke-width="0.9"/>
<line x1="740.56" y1="394.28" x2="740.56" y2="409.88" stroke="#222" stroke-width="0.9"/>
<line x1="752.04" y1="394.28" x2="752.04" y2="409.88" stroke="#222" stroke-width="0.9"/>
<line x1="754.05" y1="394.28" x2="754.05" y2="409.88" stroke="#222" stroke-width="0.9"/>
<rect x="671.10" y="394.28" width="182.30" height="15.60" fill="none" stroke="#222" stroke-width="1"/>
<text x="666.50" y="405.78" font-size="12.40" text-anchor="end" fill="#1c1c1c" textLength="30.6" lengthAdjust="spacingAndGlyphs">Ductal</text>
<rect x="671.10" y="411.84" width="0.73" height="15.60" fill="#E2501C"/>
<rect x="671.83" y="411.84" width="0.36" height="15.60" fill="#4C7EB8"/>
<rect x="672.19" y="411.84" width="151.31" height="15.60" fill="#7CCB4E"/>
<rect x="823.50" y="411.84" width="3.65" height="15.60" fill="#F6D43A"/>
<rect x="827.15" y="411.84" width="0.18" height="15.60" fill="#DB2A8C"/>
<rect x="827.33" y="411.84" width="26.07" height="15.60" fill="#7B34E2"/>
<line x1="671.83" y1="411.84" x2="671.83" y2="427.44" stroke="#222" stroke-width="0.9"/>
<line x1="672.19" y1="411.84" x2="672.19" y2="427.44" stroke="#222" stroke-width="0.9"/>
<line x1="823.50" y1="411.84" x2="823.50" y2="427.44" stroke="#222" stroke-width="0.9"/>
<line x1="827.15" y1="411.84" x2="827.15" y2="427.44" stroke="#222" stroke-width="0.9"/>
<line x1="827.33" y1="411.84" x2="827.33" y2="427.44" stroke="#222" stroke-width="0.9"/>
<rect x="671.10" y="411.84" width="182.30" height="15.60" fill="none" stroke="#222" stroke-width="1"/>
<text x="666.50" y="423.34" font-size="12.40" text-anchor="end" fill="#1c1c1c" textLength="30.6" lengthAdjust="spacingAndGlyphs">Acinar</text>
<rect x="671.10" y="429.40" width="15.31" height="15.60" fill="#E2501C"/>
<rect x="686.41" y="429.40" width="1.64" height="15.60" fill="#4C7EB8"/>
<rect x="688.05" y="429.40" width="44.48" height="15.60" fill="#7CCB4E"/>
<rect x="732.54" y="429.40" width="9.66" height="15.60" fill="#F6D43A"/>
<rect x="742.20" y="429.40" width="22.24" height="15.60" fill="#DB2A8C"/>
<rect x="764.44" y="429.40" width="88.96" height="15.60" fill="#7B34E2"/>
<line x1="686.41" y1="429.40" x2="686.41" y2="445.00" stroke="#222" stroke-width="0.9"/>
<line x1="688.05" y1="429.40" x2="688.05" y2="445.00" stroke="#222" stroke-width="0.9"/>
<line x1="732.54" y1="429.40" x2="732.54" y2="445.00" stroke="#222" stroke-width="0.9"/>
<line x1="742.20" y1="429.40" x2="742.20" y2="445.00" stroke="#222" stroke-width="0.9"/>
<line x1="764.44" y1="429.40" x2="764.44" y2="445.00" stroke="#222" stroke-width="0.9"/>
<rect x="671.10" y="429.40" width="182.30" height="15.60" fill="none" stroke="#222" stroke-width="1"/>
<text x="666.50" y="440.90" font-size="12.40" text-anchor="end" fill="#1c1c1c" textLength="36.0" lengthAdjust="spacingAndGlyphs">Stellate</text>
<rect x="671.10" y="446.96" width="17.50" height="15.60" fill="#E2501C"/>
<rect x="688.60" y="446.96" width="2.37" height="15.60" fill="#4C7EB8"/>
<rect x="690.97" y="446.96" width="79.48" height="15.60" fill="#7CCB4E"/>
<rect x="770.45" y="446.96" width="36.82" height="15.60" fill="#F6D43A"/>
<rect x="807.28" y="446.96" width="33.18" height="15.60" fill="#DB2A8C"/>
<rect x="840.46" y="446.96" width="12.94" height="15.60" fill="#7B34E2"/>
<line x1="688.60" y1="446.96" x2="688.60" y2="462.56" stroke="#222" stroke-width="0.9"/>
<line x1="690.97" y1="446.96" x2="690.97" y2="462.56" stroke="#222" stroke-width="0.9"/>
<line x1="770.45" y1="446.96" x2="770.45" y2="462.56" stroke="#222" stroke-width="0.9"/>
<line x1="807.28" y1="446.96" x2="807.28" y2="462.56" stroke="#222" stroke-width="0.9"/>
<line x1="840.46" y1="446.96" x2="840.46" y2="462.56" stroke="#222" stroke-width="0.9"/>
<rect x="671.10" y="446.96" width="182.30" height="15.60" fill="none" stroke="#222" stroke-width="1"/>
<text x="666.50" y="458.46" font-size="12.40" text-anchor="end" fill="#1c1c1c" textLength="53.4" lengthAdjust="spacingAndGlyphs">Endothelial</text>
<rect x="671.10" y="464.52" width="13.67" height="15.60" fill="#E2501C"/>
<rect x="684.77" y="464.52" width="2.19" height="15.60" fill="#4C7EB8"/>
<rect x="686.96" y="464.52" width="83.49" height="15.60" fill="#7CCB4E"/>
<rect x="770.45" y="464.52" width="20.60" height="15.60" fill="#F6D43A"/>
<rect x="791.05" y="464.52" width="24.25" height="15.60" fill="#DB2A8C"/>
<rect x="815.30" y="464.52" width="38.10" height="15.60" fill="#7B34E2"/>
<line x1="684.77" y1="464.52" x2="684.77" y2="480.12" stroke="#222" stroke-width="0.9"/>
<line x1="686.96" y1="464.52" x2="686.96" y2="480.12" stroke="#222" stroke-width="0.9"/>
<line x1="770.45" y1="464.52" x2="770.45" y2="480.12" stroke="#222" stroke-width="0.9"/>
<line x1="791.05" y1="464.52" x2="791.05" y2="480.12" stroke="#222" stroke-width="0.9"/>
<line x1="815.30" y1="464.52" x2="815.30" y2="480.12" stroke="#222" stroke-width="0.9"/>
<rect x="671.10" y="464.52" width="182.30" height="15.60" fill="none" stroke="#222" stroke-width="1"/>
<text x="666.50" y="476.02" font-size="12.40" text-anchor="end" fill="#1c1c1c" textLength="39.0" lengthAdjust="spacingAndGlyphs">Immune</text>
<line x1="671.10" y1="486.00" x2="854.00" y2="486.00" stroke="#1c1c1c" stroke-width="2"/>
<line x1="671.10" y1="486.00" x2="671.10" y2="491.70" stroke="#1c1c1c" stroke-width="1.6"/>
<text x="671.10" y="508.00" font-size="13.00" text-anchor="middle" fill="#1c1c1c" textLength="14.5" lengthAdjust="spacingAndGlyphs">0.0</text>
<line x1="707.56" y1="486.00" x2="707.56" y2="491.70" stroke="#1c1c1c" stroke-width="1.6"/>
<text x="707.56" y="508.00" font-size="13.00" text-anchor="middle" fill="#1c1c1c" textLength="14.5" lengthAdjust="spacingAndGlyphs">0.2</text>
<line x1="744.02" y1="486.00" x2="744.02" y2="491.70" stroke="#1c1c1c" stroke-width="1.6"/>
<text x="744.02" y="508.00" font-size="13.00" text-anchor="middle" fill="#1c1c1c" textLength="14.5" lengthAdjust="spacingAndGlyphs">0.4</text>
<line x1="780.48" y1="486.00" x2="780.48" y2="491.70" stroke="#1c1c1c" stroke-width="1.6"/>
<text x="780.48" y="508.00" font-size="13.00" text-anchor="middle" fill="#1c1c1c" textLength="14.5" lengthAdjust="spacingAndGlyphs">0.6</text>
<line x1="816.94" y1="486.00" x2="816.94" y2="491.70" stroke="#1c1c1c" stroke-width="1.6"/>
<text x="816.94" y="508.00" font-size="13.00" text-anchor="middle" fill="#1c1c1c" textLength="14.5" lengthAdjust="spacingAndGlyphs">0.8</text>
<line x1="853.40" y1="486.00" x2="853.40" y2="491.70" stroke="#1c1c1c" stroke-width="1.6"/>
<text x="853.40" y="508.00" font-size="13.00" text-anchor="middle" fill="#1c1c1c" textLength="14.5" lengthAdjust="spacingAndGlyphs">1.0</text>
<rect x="865.60" y="346.60" width="6.80" height="10.70" fill="#E2501C" stroke="#333" stroke-width="0.8"/>
<text x="878.60" y="358.30" font-size="17.00" text-anchor="start" fill="#1c1c1c" textLength="39.5" lengthAdjust="spacingAndGlyphs">Baron</text>
<rect x="865.60" y="367.50" width="6.80" height="10.70" fill="#4C7EB8" stroke="#333" stroke-width="0.8"/>
<text x="878.60" y="379.20" font-size="17.00" text-anchor="start" fill="#1c1c1c" textLength="58.2" lengthAdjust="spacingAndGlyphs">DeJesus</text>
<rect x="865.60" y="388.40" width="6.80" height="10.70" fill="#7CCB4E" stroke="#333" stroke-width="0.8"/>
<text x="878.60" y="400.10" font-size="17.00" text-anchor="start" fill="#1c1c1c" textLength="46.6" lengthAdjust="spacingAndGlyphs">Kleiber</text>
<rect x="865.60" y="409.30" width="6.80" height="10.70" fill="#F6D43A" stroke="#333" stroke-width="0.8"/>
<text x="878.60" y="421.00" font-size="17.00" text-anchor="start" fill="#1c1c1c" textLength="43.6" lengthAdjust="spacingAndGlyphs">Chung</text>
<rect x="865.60" y="430.20" width="6.80" height="10.70" fill="#DB2A8C" stroke="#333" stroke-width="0.8"/>
<text x="878.60" y="441.90" font-size="17.00" text-anchor="start" fill="#1c1c1c" textLength="60.5" lengthAdjust="spacingAndGlyphs">Tritschler</text>
<rect x="865.60" y="451.10" width="6.80" height="10.70" fill="#7B34E2" stroke="#333" stroke-width="0.8"/>
<text x="878.60" y="462.80" font-size="17.00" text-anchor="start" fill="#1c1c1c" textLength="38.0" lengthAdjust="spacingAndGlyphs">Wang</text>
<text x="969.00" y="346.00" font-size="44.00" text-anchor="start" fill="#1c1c1c" font-weight="bold" textLength="30.3" lengthAdjust="spacingAndGlyphs">D</text>
<path d="M1089.97 350.54 C1091.18 348.90 1093.93 349.01 1095.24 349.89 C1096.56 350.76 1097.22 353.40 1097.88 355.82 C1098.54 358.23 1098.21 361.86 1099.20 364.38 C1100.19 366.91 1101.94 368.78 1103.81 370.97 C1105.68 373.17 1108.20 376.25 1110.40 377.56 C1112.60 378.88 1115.01 379.10 1116.99 378.88 C1118.97 378.66 1120.84 377.78 1122.26 376.25 C1123.69 374.71 1124.86 372.62 1125.56 369.66 C1126.26 366.69 1126.04 362.41 1126.48 358.45 C1126.92 354.50 1126.92 348.24 1128.19 345.93 C1129.47 343.62 1132.26 344.72 1134.13 344.61 C1135.99 344.50 1138.41 343.19 1139.40 345.27 C1140.39 347.36 1139.73 352.52 1140.06 357.13 C1140.39 361.75 1140.39 368.34 1141.37 372.95 C1142.36 377.56 1144.12 381.41 1145.99 384.81 C1147.86 388.22 1150.38 391.73 1152.58 393.38 C1154.77 395.03 1157.19 393.71 1159.17 394.70 C1161.15 395.69 1163.01 397.23 1164.44 399.31 C1165.87 401.40 1167.08 404.36 1167.74 407.22 C1168.39 410.08 1168.61 413.37 1168.39 416.45 C1168.17 419.52 1167.74 423.15 1166.42 425.67 C1165.10 428.20 1162.79 430.07 1160.49 431.60 C1158.18 433.14 1155.21 433.91 1152.58 434.90 C1149.94 435.89 1146.87 436.00 1144.67 437.54 C1142.47 439.07 1140.50 441.27 1139.40 444.13 C1138.30 446.98 1137.86 450.94 1138.08 454.67 C1138.30 458.40 1140.61 462.80 1140.72 466.53 C1140.83 470.27 1140.28 474.55 1138.74 477.08 C1137.20 479.60 1134.45 480.81 1131.49 481.69 C1128.52 482.57 1124.46 482.68 1120.95 482.35 C1117.43 482.02 1113.37 481.47 1110.40 479.71 C1107.44 477.96 1105.13 474.66 1103.15 471.80 C1101.17 468.95 1099.64 465.87 1098.54 462.58 C1097.44 459.28 1096.67 455.55 1096.56 452.03 C1096.45 448.52 1097.22 445.00 1097.88 441.49 C1098.54 437.97 1099.79 434.46 1100.52 430.95 C1101.24 427.43 1101.94 424.14 1102.23 420.40 C1102.51 416.67 1102.08 412.71 1102.23 408.54 C1102.38 404.36 1103.33 398.87 1103.15 395.36 C1102.98 391.84 1102.38 389.43 1101.17 387.45 C1099.97 385.47 1097.66 384.59 1095.90 383.50 C1094.14 382.40 1092.28 381.52 1090.63 380.86 C1088.98 380.20 1087.01 380.53 1086.02 379.54 C1085.03 378.55 1084.48 376.69 1084.70 374.93 C1084.92 373.17 1086.79 371.52 1087.33 369.00 C1087.88 366.47 1087.55 362.85 1087.99 359.77 C1088.43 356.70 1088.76 352.19 1089.97 350.54 Z" fill="#BEBEBE"/>
<path d="M1040.54 397.99 C1041.20 396.90 1043.84 395.69 1045.82 395.36 C1047.79 395.03 1049.99 396.35 1052.41 396.02 C1054.82 395.69 1058.78 393.49 1060.32 393.38 C1061.85 393.27 1062.29 394.37 1061.63 395.36 C1060.97 396.35 1056.91 397.77 1056.36 399.31 C1055.81 400.85 1057.46 403.27 1058.34 404.58 C1059.22 405.90 1061.96 406.34 1061.63 407.22 C1061.30 408.10 1058.12 409.53 1056.36 409.86 C1054.60 410.19 1052.85 410.08 1051.09 409.20 C1049.33 408.32 1047.35 405.79 1045.82 404.58 C1044.28 403.38 1042.74 403.05 1041.86 401.95 C1040.98 400.85 1039.89 399.09 1040.54 397.99 Z" fill="#BEBEBE"/>
<path d="M1056.36 423.04 C1057.35 421.28 1062.07 420.62 1064.27 420.40 C1066.47 420.18 1068.44 420.62 1069.54 421.72 C1070.64 422.82 1071.08 425.23 1070.86 426.99 C1070.64 428.75 1069.76 430.95 1068.22 432.26 C1066.69 433.58 1063.28 435.12 1061.63 434.90 C1059.99 434.68 1059.22 432.92 1058.34 430.95 C1057.46 428.97 1055.37 424.79 1056.36 423.04 Z" fill="#BEBEBE"/>
<path d="M1072.18 413.81 C1073.17 411.83 1075.25 410.74 1076.13 411.17 C1077.01 411.61 1076.79 415.13 1077.45 416.45 C1078.11 417.76 1078.77 418.20 1080.09 419.08 C1081.40 419.96 1084.04 420.84 1085.36 421.72 C1086.68 422.60 1087.12 423.04 1087.99 424.35 C1088.87 425.67 1090.63 428.31 1090.63 429.63 C1090.63 430.95 1089.31 432.04 1087.99 432.26 C1086.68 432.48 1084.48 431.60 1082.72 430.95 C1080.96 430.29 1078.99 428.97 1077.45 428.31 C1075.91 427.65 1074.70 427.87 1073.50 426.99 C1072.29 426.11 1070.42 425.23 1070.20 423.04 C1069.98 420.84 1071.19 415.79 1072.18 413.81 Z" fill="#BEBEBE"/>
<path d="M1069.6 424.4 L1064.9 444.1" stroke="#7E0B0B" stroke-width="4.2" stroke-linecap="round"/>
<text x="1010.00" y="380.00" font-size="13.80" text-anchor="start" fill="#1c1c1c" textLength="65.6" lengthAdjust="spacingAndGlyphs">Procr+ prog.</text>
<path d="M1035.00 446.50 L1035.00 488.00 L1076.50 488.00" fill="none" stroke="#1c1c1c" stroke-width="1.5"/>
<path d="M1035.00 441.00 L1031.70 447.00 L1038.30 447.00 Z" fill="#1c1c1c"/>
<path d="M1082.00 488.00 L1076.00 484.70 L1076.00 491.30 Z" fill="#1c1c1c"/>
<text x="1027.60" y="465.00" font-size="8.80" text-anchor="middle" fill="#1c1c1c" textLength="46.0" lengthAdjust="spacingAndGlyphs" transform="rotate(-90 1027.60 465.00)">LARGEVIS 2</text>
<text x="1035.00" y="502.50" font-size="8.80" text-anchor="start" fill="#1c1c1c" textLength="45.0" lengthAdjust="spacingAndGlyphs">LARGEVIS 1</text>
<path d="M1086.6 405.5h0M1099.0 389.3h0M1089.2 418.9h0M1093.4 409.8h0M1094.0 393.5h0M1092.6 425.0h0M1085.4 389.7h0M1081.1 396.4h0M1098.4 387.8h0M1084.2 412.0h0M1099.2 391.0h0M1090.4 391.5h0M1085.4 406.9h0M1091.6 390.0h0M1089.9 394.4h0M1090.7 393.1h0M1092.6 417.5h0M1095.4 389.6h0M1090.0 409.8h0M1096.1 403.0h0M1085.8 396.6h0M1086.1 402.8h0M1096.4 412.3h0M1093.6 398.6h0M1094.4 408.3h0M1084.9 405.5h0M1097.9 405.3h0M1092.4 394.3h0M1097.4 399.1h0M1079.4 406.3h0M1083.5 392.6h0M1089.4 392.4h0M1093.2 388.4h0M1095.2 406.0h0M1098.6 394.2h0M1093.8 427.5h0M1098.4 412.2h0M1088.5 394.4h0M1091.3 389.5h0M1095.6 397.1h0M1113.7 367.8h0M1112.3 358.6h0M1114.3 377.0h0M1115.5 376.8h0M1123.1 367.4h0M1115.2 367.2h0M1117.8 367.4h0M1110.3 371.7h0M1119.5 356.9h0M1119.0 365.3h0M1114.5 369.6h0M1111.9 375.3h0M1108.8 374.0h0M1119.7 369.3h0M1116.8 369.0h0M1118.6 364.1h0M1117.0 358.8h0M1105.2 362.9h0M1066.5 405.2h0M1064.7 409.8h0M1068.1 413.4h0M1061.7 401.8h0M1063.4 409.8h0M1062.8 399.4h0M1061.8 397.6h0M1065.2 409.0h0" stroke="#BEBEBE" stroke-width="2.6" stroke-linecap="round" fill="none"/>
<text x="0.50" y="565.50" font-size="44.00" text-anchor="start" fill="#1c1c1c" font-weight="bold" textLength="28.4" lengthAdjust="spacingAndGlyphs">E</text>
<path d="M52.90 640.90 L52.90 688.70 L99.90 688.70" fill="none" stroke="#1c1c1c" stroke-width="1.5"/>
<path d="M52.90 635.40 L49.50 641.40 L56.30 641.40 Z" fill="#1c1c1c"/>
<path d="M105.40 688.70 L99.40 685.30 L99.40 692.10 Z" fill="#1c1c1c"/>
<text x="45.80" y="665.20" font-size="9.80" text-anchor="middle" fill="#1c1c1c" textLength="47.0" lengthAdjust="spacingAndGlyphs" transform="rotate(-90 45.80 665.20)">LARGEVIS 2</text>
<text x="52.60" y="702.50" font-size="9.60" text-anchor="start" fill="#1c1c1c" textLength="47.2" lengthAdjust="spacingAndGlyphs">LARGEVIS 1</text>
<circle cx="188.2" cy="623.0" r="5.5" fill="#3F7BCB"/>
<text x="198.30" y="628.40" font-size="15.00" text-anchor="start" fill="#1c1c1c" textLength="7.5" lengthAdjust="spacingAndGlyphs">1</text>
<circle cx="188.2" cy="643.2" r="5.5" fill="#ABCCDC"/>
<text x="198.30" y="648.60" font-size="15.00" text-anchor="start" fill="#1c1c1c" textLength="7.5" lengthAdjust="spacingAndGlyphs">2</text>
<circle cx="188.2" cy="663.4" r="5.5" fill="#7B2EE3"/>
<text x="198.30" y="668.80" font-size="15.00" text-anchor="start" fill="#1c1c1c" textLength="7.5" lengthAdjust="spacingAndGlyphs">3</text>
<path d="M77.1 596.7h0M96.2 592.4h0M79.3 598.0h0M66.2 594.5h0M84.3 607.5h0M62.5 585.0h0M86.9 572.9h0M85.2 599.3h0M80.2 573.7h0M66.4 582.1h0M59.9 592.3h0M76.6 609.8h0M79.8 600.5h0M79.0 601.5h0M77.3 583.8h0M71.5 581.6h0M70.4 574.2h0M89.8 589.4h0M93.1 588.8h0M95.7 592.6h0M98.5 589.3h0M61.7 600.0h0M90.3 583.4h0M62.2 586.3h0M63.5 582.3h0M91.1 579.2h0M81.4 591.6h0M66.4 604.7h0M64.0 600.6h0M63.4 590.4h0M67.3 583.4h0M71.0 611.7h0M67.3 589.1h0M67.4 582.9h0M90.1 586.1h0M70.7 574.4h0M62.4 597.8h0M68.6 598.7h0M73.8 591.8h0M82.0 610.9h0M66.1 578.1h0M68.8 579.7h0M75.8 575.8h0M68.4 603.4h0M69.1 608.9h0M82.9 584.5h0M65.8 604.1h0M61.5 581.5h0M81.4 610.2h0M83.6 583.9h0M95.9 580.4h0M59.4 583.4h0M76.8 573.8h0M65.9 588.0h0M81.9 577.1h0M73.4 612.0h0M86.8 597.9h0M78.3 604.6h0M61.8 596.1h0M73.0 602.5h0M75.6 607.4h0M84.1 588.6h0M82.4 599.0h0M62.0 600.4h0M88.3 588.9h0M88.5 597.7h0M76.6 609.6h0M78.2 581.6h0M87.1 593.9h0M70.9 602.2h0M66.9 578.8h0M76.6 612.0h0M72.0 601.6h0M66.8 590.8h0M94.4 588.7h0M82.4 585.6h0M64.2 593.8h0M69.9 578.8h0M77.0 583.7h0M67.4 590.0h0M84.1 593.7h0M71.5 609.6h0M87.5 597.2h0M71.2 607.4h0M77.2 572.1h0M92.4 581.9h0M84.2 591.5h0M84.3 601.1h0M86.5 580.2h0M78.0 579.2h0M59.1 592.7h0M87.7 579.2h0M69.8 586.9h0M87.0 594.9h0M83.6 605.8h0M74.7 607.4h0M64.0 591.9h0M74.0 597.2h0M85.1 580.4h0M84.7 604.0h0M80.5 607.4h0M71.7 612.9h0M93.4 587.0h0M62.1 591.3h0M81.0 606.3h0M78.5 572.3h0M91.2 579.0h0M72.3 607.2h0M64.4 577.8h0M79.7 604.3h0M67.7 595.2h0M70.5 604.5h0M84.6 595.0h0M71.4 588.5h0M82.0 580.2h0M80.5 594.1h0M83.3 572.3h0M75.0 607.8h0M81.6 593.6h0M86.8 574.0h0M80.6 590.0h0M69.6 592.8h0M63.9 590.9h0M78.0 585.6h0M66.5 599.4h0M66.6 581.5h0M86.6 585.8h0M73.1 599.5h0M63.0 604.6h0M63.7 594.5h0M68.9 580.1h0M80.2 591.1h0M74.0 590.0h0M80.2 578.3h0M67.0 600.0h0M84.6 595.4h0M93.5 581.7h0M95.3 585.5h0M68.4 604.4h0M69.2 575.5h0M92.5 590.4h0M90.8 576.8h0M75.1 602.5h0M59.4 580.2h0M79.2 605.9h0M79.1 602.5h0M81.1 594.7h0M81.8 577.7h0M66.2 580.4h0M77.5 606.2h0M72.0 592.5h0M79.6 590.8h0M83.1 571.6h0M66.1 591.9h0M88.7 589.6h0M66.6 578.6h0M79.5 571.7h0M84.3 589.6h0M83.0 594.2h0M91.8 589.7h0M89.8 589.7h0M88.0 574.2h0M72.6 592.6h0M59.1 587.4h0M84.6 599.7h0M85.7 586.5h0M85.5 597.2h0M80.3 588.9h0M83.7 605.0h0M69.1 589.5h0M60.7 580.0h0M74.0 575.5h0M81.0 594.4h0M91.6 574.5h0M83.0 605.9h0M65.2 592.7h0M65.6 593.8h0M83.5 573.7h0M97.1 590.4h0M80.1 598.5h0M73.5 584.1h0M85.3 596.8h0M70.2 604.0h0M65.1 605.7h0M74.5 612.3h0M89.1 573.3h0M76.1 593.0h0M98.2 582.2h0M79.9 614.1h0M88.0 592.5h0M83.2 576.3h0M84.0 592.0h0M80.1 576.7h0M76.7 601.7h0M77.2 583.1h0M82.3 590.3h0M90.3 595.4h0M88.5 582.0h0M73.3 583.5h0M86.5 597.0h0M82.7 600.1h0M89.3 579.7h0M69.7 590.6h0M84.0 575.7h0M80.7 574.3h0M62.2 602.1h0M81.1 600.0h0M73.9 593.0h0M67.3 586.8h0M89.9 580.8h0M75.9 582.9h0M91.6 588.0h0M71.9 596.2h0M76.1 588.0h0M81.6 593.3h0M86.5 584.7h0M90.2 574.5h0M67.4 601.5h0M62.0 585.0h0M70.2 577.6h0M73.2 604.4h0M73.6 576.4h0M87.5 597.2h0M95.8 591.1h0M91.3 585.0h0M71.6 589.4h0M68.8 587.6h0M73.5 587.7h0M74.8 588.8h0M66.6 596.9h0M91.1 595.9h0M65.9 605.9h0M94.5 583.9h0M59.6 594.7h0M80.8 597.1h0M80.9 607.3h0M62.1 600.2h0M64.5 605.3h0M85.0 582.3h0M67.7 606.2h0M79.9 606.2h0M74.7 586.5h0M78.7 595.7h0M95.8 589.9h0M80.0 603.7h0M91.3 590.4h0M75.8 577.7h0M73.9 578.7h0M67.0 590.5h0M61.1 585.2h0M63.4 600.8h0M90.2 579.3h0M61.2 592.1h0M82.4 612.8h0M66.2 581.0h0M68.3 604.0h0M82.8 581.3h0M66.2 583.9h0M65.7 605.8h0M71.4 596.2h0M91.9 593.1h0M95.8 586.7h0M80.9 615.0h0M78.3 581.2h0M91.2 588.7h0M80.1 594.7h0M85.4 581.9h0M59.1 592.7h0M73.8 607.7h0M87.7 598.9h0M65.1 578.2h0M71.8 582.9h0M69.5 595.6h0M64.8 606.4h0M62.0 583.4h0M87.8 575.5h0M78.2 592.6h0M93.5 585.0h0M90.7 590.2h0M92.2 580.6h0M80.8 595.2h0M71.3 585.3h0M61.8 585.1h0M77.7 603.9h0M73.3 602.6h0M63.0 589.1h0M77.4 615.5h0M59.2 588.3h0M87.5 581.9h0M81.6 592.1h0M91.2 580.5h0M83.7 584.4h0M74.0 595.8h0M70.8 586.5h0M74.6 601.7h0M69.1 580.2h0M88.4 586.2h0M88.1 586.3h0M92.3 575.2h0M86.2 603.6h0M66.0 589.5h0M62.4 581.4h0M65.1 576.7h0M75.2 574.3h0M96.1 590.6h0M79.5 600.8h0M74.4 586.2h0M75.0 603.2h0M85.5 599.0h0M59.5 586.2h0M72.6 600.9h0M63.0 588.4h0M79.4 607.3h0M65.1 606.3h0M73.0 594.0h0M64.5 603.8h0M84.2 580.1h0M62.1 582.3h0M82.1 603.1h0M73.4 592.3h0M80.8 596.8h0M81.5 583.2h0M68.5 597.4h0M92.4 579.5h0M80.9 574.5h0M85.4 585.2h0M74.2 598.2h0M66.8 592.5h0M64.5 588.8h0M81.8 579.0h0" stroke="#ABCCDC" stroke-width="3" stroke-linecap="round" fill="none"/>
<path d="M121.9 599.1h0M123.3 602.5h0M125.5 587.9h0M126.4 593.2h0M120.5 606.4h0M125.0 620.3h0M120.9 635.4h0M118.7 607.6h0M123.3 631.0h0M122.1 612.1h0M119.4 630.9h0M128.7 601.1h0M124.1 589.5h0M110.3 608.2h0M121.4 605.7h0M108.2 620.5h0M122.1 597.9h0M115.7 605.7h0M119.0 626.0h0M113.2 623.1h0M123.3 630.9h0M110.3 612.7h0M113.8 600.9h0M116.2 589.1h0M118.3 603.7h0M123.9 588.3h0M115.7 610.8h0M120.5 596.3h0M115.4 631.9h0M133.0 595.7h0M131.3 603.6h0M120.5 594.5h0M112.6 617.4h0M128.0 601.6h0M127.6 592.7h0M119.7 589.9h0M113.2 601.3h0M127.5 595.8h0M112.0 597.7h0M117.6 618.9h0M113.4 601.0h0M114.8 617.8h0M119.6 612.3h0M122.3 588.3h0M124.3 600.1h0M114.1 625.9h0M128.8 598.2h0M114.9 613.2h0M120.2 623.3h0M118.0 632.2h0M121.3 594.9h0M123.0 618.1h0M117.2 618.7h0M121.5 628.0h0M126.7 611.9h0M129.5 594.2h0M124.5 597.7h0M119.6 624.4h0M113.6 610.3h0M113.2 614.8h0M121.3 587.8h0M124.2 621.5h0M112.0 593.5h0M107.2 610.7h0M119.4 608.0h0M114.4 625.7h0M123.4 613.0h0M129.9 597.8h0M111.0 601.5h0M124.9 612.1h0M114.5 615.3h0M111.7 598.7h0M111.4 620.3h0M108.5 606.4h0M117.4 596.8h0M121.0 623.8h0M120.0 623.0h0M132.8 593.0h0M118.2 600.8h0M119.1 589.8h0M113.4 598.6h0M122.9 598.0h0M120.2 632.3h0M117.4 602.8h0M107.9 606.0h0M125.7 588.9h0M116.8 620.5h0M118.2 627.9h0M117.9 624.8h0M113.0 603.3h0M112.1 613.3h0M111.5 596.1h0M113.0 609.2h0M115.7 608.2h0M132.0 596.2h0M117.9 589.6h0M127.0 604.0h0M112.0 599.0h0M118.2 631.9h0M127.7 599.4h0M117.3 593.6h0M133.3 587.0h0M116.1 605.1h0M116.2 624.3h0M121.9 588.7h0M118.2 597.8h0M124.1 587.6h0M115.8 607.1h0M122.6 592.8h0M127.4 598.9h0M111.0 596.2h0M114.9 621.4h0M118.6 605.2h0M132.1 597.2h0M115.3 603.1h0M107.4 617.3h0M123.3 626.2h0M113.0 620.3h0M132.1 597.7h0M125.2 590.5h0M119.2 605.5h0M108.5 605.1h0M116.3 610.7h0M114.9 593.9h0M118.5 609.6h0M111.6 619.1h0M113.7 590.6h0M116.7 607.0h0M111.1 615.0h0M127.3 613.5h0M127.2 587.1h0M118.2 604.1h0M108.5 606.1h0M108.3 610.6h0M123.9 609.3h0M116.2 598.6h0M114.4 619.2h0M112.1 609.3h0M117.3 614.6h0M125.1 616.9h0M118.7 606.7h0M114.8 627.2h0M133.4 587.9h0M110.7 611.2h0M115.7 603.9h0M112.3 597.4h0M126.6 597.7h0M118.2 597.9h0M121.2 618.3h0M122.8 617.0h0M123.1 627.3h0M116.9 630.1h0M115.9 621.6h0M111.4 616.9h0M121.1 614.0h0M117.5 600.2h0M113.6 598.4h0M116.2 594.8h0M121.8 592.3h0M109.7 621.0h0M110.0 608.4h0M132.2 588.7h0M114.1 611.2h0M130.0 605.5h0M127.7 598.5h0M127.7 602.2h0M116.5 623.7h0M123.3 606.9h0M127.4 617.0h0M110.4 604.7h0M126.3 597.5h0M126.8 606.8h0M125.2 605.7h0M115.1 622.3h0M122.6 610.0h0M117.6 601.4h0M115.0 605.5h0M124.8 624.0h0M127.0 613.1h0M130.1 593.3h0M111.8 591.3h0M121.0 592.0h0M123.3 593.1h0M125.0 599.6h0M113.4 610.0h0M117.4 598.9h0M120.9 606.6h0M130.3 605.7h0M108.4 613.4h0M125.9 617.0h0M119.7 627.4h0M127.9 594.7h0M117.2 623.5h0M115.8 611.6h0M122.1 626.3h0M118.4 625.9h0M127.4 598.4h0M133.4 587.2h0M123.6 597.3h0M118.1 604.4h0M117.4 617.7h0M117.1 599.9h0M109.5 602.6h0M128.4 596.5h0M126.6 594.8h0M117.0 607.4h0M118.5 602.0h0M122.4 633.3h0M116.1 623.5h0M119.3 633.8h0M113.1 606.3h0M127.4 594.8h0M114.7 619.7h0M112.1 603.8h0M125.3 604.8h0M125.6 596.6h0M121.5 614.2h0M126.9 608.5h0M126.2 606.8h0M118.0 597.4h0M124.3 614.5h0M121.8 587.6h0M125.1 608.2h0M124.1 615.6h0M134.0 593.6h0M120.4 635.3h0M128.3 601.6h0M118.5 629.1h0M121.1 597.6h0M114.0 626.1h0M151.2 582.4h0M144.3 584.5h0M136.2 582.8h0M164.3 581.5h0M142.8 587.5h0M167.0 586.9h0M154.9 589.5h0M167.4 588.1h0M148.6 588.4h0M157.6 589.4h0M141.4 584.2h0M167.8 586.1h0M141.1 584.9h0M146.7 578.2h0M158.1 577.4h0M157.1 585.4h0M160.6 581.1h0M170.4 583.8h0M147.4 575.9h0M172.5 585.4h0M162.3 579.0h0M145.5 579.9h0M139.1 584.2h0M150.0 587.8h0M149.4 580.9h0M146.9 585.6h0M142.6 583.2h0M160.0 580.8h0M162.6 583.6h0M151.0 573.3h0M149.8 577.5h0M144.8 585.4h0M159.8 576.8h0M149.5 574.6h0M149.9 578.7h0M165.6 588.4h0M156.6 582.6h0M148.1 586.0h0M159.7 578.7h0M151.8 579.0h0M151.6 578.2h0M159.7 583.7h0M165.9 584.6h0M149.1 584.7h0M141.6 579.2h0M138.9 579.7h0M139.9 584.6h0M157.8 586.3h0M143.3 587.7h0M162.1 587.0h0M138.0 581.1h0M154.4 582.3h0M137.7 587.3h0M145.2 581.8h0M138.2 583.0h0M153.5 577.7h0M163.9 576.8h0M141.9 580.8h0M155.3 580.9h0M149.3 583.9h0M139.4 587.8h0M162.2 585.8h0M139.5 582.3h0M158.6 588.4h0M146.3 581.5h0M159.1 589.1h0M170.6 583.0h0M153.0 589.5h0M148.8 577.8h0M162.4 577.1h0M147.8 580.3h0M152.1 579.0h0M150.3 580.8h0M135.3 588.1h0M135.7 582.2h0M154.9 579.8h0M148.0 578.1h0M152.4 576.5h0M162.8 581.5h0M156.7 590.5h0M147.7 583.6h0M147.8 577.9h0M157.3 583.4h0M145.7 581.7h0M153.6 586.6h0M143.2 577.3h0M164.6 580.3h0M167.2 579.8h0M144.6 585.2h0M166.1 578.4h0M145.8 587.8h0M164.4 584.4h0M135.5 586.8h0M135.2 584.1h0M155.1 589.9h0M170.1 586.6h0M156.1 572.2h0M162.3 580.1h0M160.1 591.0h0M164.1 580.6h0M162.9 579.4h0M150.9 580.5h0M137.9 588.1h0M159.6 582.6h0M155.4 589.8h0M141.6 580.1h0M154.4 588.2h0M138.2 588.9h0M150.3 579.3h0M159.9 589.9h0M152.7 585.3h0M148.6 587.0h0M137.4 586.4h0M139.9 583.3h0M141.3 578.7h0M139.8 578.8h0M156.6 582.1h0M148.6 583.1h0M166.5 579.0h0M156.3 581.3h0M105.8 597.5h0M99.7 609.3h0M104.0 598.1h0M101.3 609.0h0M102.1 606.6h0M103.8 615.1h0M102.8 597.5h0M106.5 594.4h0M100.3 612.1h0M104.0 605.1h0M100.7 595.6h0M107.3 594.3h0M107.0 597.2h0M98.8 604.7h0M104.5 594.9h0M106.7 605.8h0M136.2 581.0h0M129.7 586.4h0M136.8 579.9h0M133.8 579.8h0M129.5 582.6h0M139.2 578.8h0M134.9 583.0h0M137.0 582.9h0M137.6 579.9h0M130.9 585.7h0M131.0 585.0h0M134.2 580.8h0M128.8 587.4h0M139.7 578.1h0M92.0 598.0h0M95.0 602.0h0M130.0 600.0h0M140.0 598.0h0M137.0 603.0h0M112.0 648.0h0M147.0 592.0h0M94.0 605.0h0M100.0 600.0h0M104.0 598.0h0" stroke="#3F7BCB" stroke-width="3" stroke-linecap="round" fill="none"/>
<path d="M118.7 642.6h0M123.3 639.9h0M120.2 640.2h0M118.0 640.6h0M118.1 645.6h0M118.1 653.5h0M117.6 646.2h0M120.8 656.5h0M117.4 640.7h0M117.5 663.0h0M119.0 669.0h0M119.4 665.6h0M117.9 681.8h0M118.0 664.1h0M122.8 656.0h0M115.1 653.2h0M118.0 652.7h0M120.3 658.2h0M122.0 652.5h0M112.8 647.8h0M114.6 652.4h0M113.7 647.2h0M115.7 653.6h0M115.9 643.3h0M115.8 650.4h0M119.1 671.6h0M117.3 675.2h0M115.8 640.0h0M115.7 642.6h0M115.3 639.3h0M114.7 645.5h0M118.3 663.5h0M121.7 661.6h0M118.7 650.7h0M117.0 665.2h0M121.7 655.7h0M117.6 667.5h0M117.1 645.5h0M119.5 654.2h0M117.2 666.1h0M114.9 653.7h0M116.4 662.2h0M117.0 652.5h0M124.0 647.9h0M123.5 644.6h0M114.4 645.0h0M121.1 648.0h0M118.9 644.4h0M124.5 650.3h0M115.3 663.1h0M117.6 680.1h0M117.9 654.7h0M119.7 658.6h0M117.4 666.9h0M124.8 650.1h0M116.8 641.0h0M122.2 648.0h0M117.7 656.9h0M118.5 681.2h0M117.5 659.5h0M117.7 653.0h0M113.0 647.0h0M120.5 674.2h0M122.3 645.2h0M122.5 651.2h0M119.3 679.5h0M123.3 651.5h0M119.5 642.9h0M121.1 639.7h0M118.7 681.1h0M119.8 660.0h0M115.9 653.5h0M122.2 647.7h0M120.0 673.2h0M120.6 661.1h0M114.8 649.7h0M123.9 650.6h0M115.1 650.0h0M118.0 659.8h0M118.2 659.1h0M121.4 648.7h0M113.7 652.3h0M115.4 661.6h0M116.3 656.0h0M116.6 669.0h0M119.8 680.8h0M123.8 648.7h0M118.3 683.6h0M118.1 645.8h0M121.7 639.7h0M121.1 651.9h0M120.8 658.3h0M116.6 642.0h0M123.6 639.6h0M120.6 657.4h0" stroke="#7B2EE3" stroke-width="3" stroke-linecap="round" fill="none"/>
<text x="250.90" y="565.30" font-size="44.00" text-anchor="start" fill="#1c1c1c" font-weight="bold" textLength="27.5" lengthAdjust="spacingAndGlyphs">F</text>
<path d="M317.20 639.20 L317.20 686.60 L363.30 686.60" fill="none" stroke="#1c1c1c" stroke-width="1.5"/>
<path d="M317.20 633.70 L313.80 639.70 L320.60 639.70 Z" fill="#1c1c1c"/>
<path d="M368.80 686.60 L362.80 683.20 L362.80 690.00 Z" fill="#1c1c1c"/>
<text x="310.40" y="662.70" font-size="9.80" text-anchor="middle" fill="#1c1c1c" textLength="47.5" lengthAdjust="spacingAndGlyphs" transform="rotate(-90 310.40 662.70)">LARGEVIS 2</text>
<text x="315.90" y="701.80" font-size="9.60" text-anchor="start" fill="#1c1c1c" textLength="47.6" lengthAdjust="spacingAndGlyphs">LARGEVIS 1</text>
<circle cx="465.7" cy="579.8" r="6.4" fill="#E2501C"/>
<text x="478.30" y="585.40" font-size="16.60" text-anchor="start" fill="#1c1c1c" textLength="39.5" lengthAdjust="spacingAndGlyphs">Baron</text>
<circle cx="465.7" cy="603.6" r="6.4" fill="#7CCB4E"/>
<text x="478.30" y="609.25" font-size="16.60" text-anchor="start" fill="#1c1c1c" textLength="46.2" lengthAdjust="spacingAndGlyphs">Kleiber</text>
<circle cx="465.7" cy="627.5" r="6.4" fill="#F6D43A"/>
<text x="478.30" y="633.10" font-size="16.60" text-anchor="start" fill="#1c1c1c" textLength="43.3" lengthAdjust="spacingAndGlyphs">Chung</text>
<circle cx="465.7" cy="651.3" r="6.4" fill="#DB2A8C"/>
<text x="478.30" y="656.95" font-size="16.60" text-anchor="start" fill="#1c1c1c" textLength="59.5" lengthAdjust="spacingAndGlyphs">Tritschler</text>
<circle cx="465.7" cy="675.2" r="6.4" fill="#7B34E2"/>
<text x="478.30" y="680.80" font-size="16.60" text-anchor="start" fill="#1c1c1c" textLength="37.7" lengthAdjust="spacingAndGlyphs">Wang</text>
<path d="M340.1 593.9h0M348.2 596.6h0M343.2 570.2h0M322.9 589.4h0M339.6 607.3h0M342.8 597.7h0M342.0 598.8h0M358.7 589.7h0M361.5 586.2h0M344.4 588.6h0M327.0 597.9h0M329.1 574.7h0M331.4 600.8h0M332.1 606.4h0M328.8 601.5h0M344.4 607.8h0M336.4 609.6h0M341.3 602.0h0M336.0 599.9h0M345.4 596.2h0M339.6 607.1h0M327.2 590.9h0M347.2 588.6h0M341.0 575.9h0M346.6 603.2h0M337.7 604.9h0M347.7 601.4h0M334.7 610.5h0M344.0 603.8h0M335.3 604.7h0M330.7 592.4h0M333.5 601.9h0M344.6 590.7h0M343.6 587.0h0M329.6 578.2h0M336.1 596.8h0M343.2 588.1h0M337.0 587.0h0M330.0 597.3h0M356.5 578.4h0M331.4 601.8h0M322.4 576.9h0M342.2 603.3h0M335.0 589.5h0M329.1 588.9h0M351.7 586.6h0M346.0 591.3h0M335.6 589.6h0M347.6 597.0h0M348.5 594.4h0M346.7 602.4h0M344.0 591.5h0M346.5 570.2h0M343.1 595.7h0M328.1 603.2h0M347.0 589.0h0M345.7 597.4h0M344.1 597.3h0M336.9 590.1h0M334.9 593.4h0M339.1 584.9h0M344.6 590.4h0M336.2 601.8h0M358.8 588.2h0M336.5 584.6h0M337.8 585.8h0M329.6 594.1h0M343.9 604.7h0M327.5 602.7h0M330.7 603.7h0M341.7 592.9h0M326.4 598.1h0M353.2 575.9h0M345.4 610.5h0M331.3 601.4h0M343.1 591.8h0M336.8 605.2h0M332.5 592.7h0M327.8 603.9h0M341.2 589.6h0M355.2 577.3h0M340.7 601.3h0M340.4 613.2h0M344.6 589.1h0M337.6 599.0h0M338.0 600.6h0M348.5 596.2h0M335.6 598.2h0M328.1 603.7h0M336.0 591.1h0M336.4 589.3h0M343.8 594.0h0M331.5 594.6h0M337.2 595.4h0M378.7 608.4h0M383.5 591.6h0M386.0 615.9h0M376.2 612.5h0M375.1 611.0h0M389.6 594.9h0M384.2 616.1h0M384.1 611.7h0M378.0 602.9h0M380.2 621.4h0M381.4 624.0h0M389.9 606.1h0M408.7 578.4h0M429.1 575.0h0M418.4 586.8h0M362.7 606.9h0" stroke="#E2501C" stroke-width="3.3" stroke-linecap="round" fill="none"/>
<path d="M359.2 589.5h0M342.3 595.2h0M329.2 591.7h0M347.3 605.0h0M325.5 581.8h0M349.9 569.4h0M340.3 580.6h0M333.4 570.7h0M324.7 597.2h0M353.3 580.2h0M354.1 575.8h0M329.4 602.1h0M330.3 580.2h0M334.0 609.3h0M330.4 579.6h0M353.1 583.0h0M333.7 570.9h0M325.4 595.0h0M331.6 595.9h0M336.8 588.9h0M338.8 572.3h0M345.9 581.3h0M324.5 578.2h0M346.6 580.7h0M358.9 577.1h0M322.4 580.2h0M339.8 570.3h0M344.9 573.6h0M349.8 595.1h0M338.6 604.9h0M347.1 585.5h0M325.0 597.7h0M351.3 585.8h0M351.5 594.9h0M341.2 578.3h0M329.9 575.4h0M339.6 609.7h0M335.0 599.0h0M329.8 587.8h0M345.4 582.4h0M332.9 575.4h0M340.0 580.4h0M347.1 590.8h0M334.5 607.2h0M334.2 604.9h0M340.2 568.6h0M355.4 578.6h0M347.3 598.4h0M349.5 576.8h0M322.1 589.8h0M350.7 575.9h0M327.0 588.9h0M348.1 577.1h0M356.4 583.9h0M325.1 588.3h0M341.5 568.7h0M354.2 575.6h0M327.4 574.4h0M342.7 601.7h0M347.6 592.2h0M345.0 576.9h0M343.5 591.2h0M346.3 568.7h0M338.0 605.4h0M349.8 570.5h0M332.6 589.8h0M341.0 582.4h0M326.0 602.0h0M326.7 591.6h0M343.2 575.0h0M358.3 582.4h0M332.2 572.0h0M353.8 573.4h0M338.1 599.9h0M342.1 599.9h0M344.1 591.8h0M344.8 574.3h0M340.5 603.6h0M342.6 587.8h0M346.1 568.0h0M329.6 575.2h0M342.5 568.1h0M347.3 586.6h0M354.8 586.6h0M351.0 570.7h0M322.1 584.3h0M348.7 583.4h0M343.3 585.9h0M323.7 576.7h0M337.0 572.1h0M354.6 571.0h0M346.0 603.4h0M328.2 589.8h0M360.1 587.3h0M336.5 580.9h0M348.3 594.0h0M333.2 601.4h0M337.5 609.9h0M352.1 569.8h0M339.1 590.0h0M361.2 578.9h0M342.9 611.8h0M351.0 589.6h0M346.2 572.9h0M343.1 573.3h0M339.7 599.0h0M340.2 579.8h0M345.3 587.3h0M351.5 578.7h0M336.3 580.3h0M349.5 594.2h0M352.3 576.4h0M347.0 572.3h0M343.7 570.8h0M325.2 599.4h0M352.9 577.5h0M338.9 579.6h0M354.6 584.9h0M349.5 581.6h0M353.2 571.0h0M330.4 598.8h0M333.2 574.2h0M336.6 573.0h0M354.3 581.8h0M354.1 593.0h0M357.5 580.7h0M322.6 591.8h0M343.8 594.3h0M325.1 597.4h0M348.0 579.0h0M358.8 586.9h0M343.0 601.0h0M338.8 574.3h0M336.9 575.3h0M324.1 582.0h0M324.2 589.1h0M334.4 593.4h0M354.9 590.1h0M358.8 583.6h0M341.3 577.9h0M354.2 585.6h0M322.1 589.8h0M350.7 596.1h0M328.1 574.8h0M350.8 572.0h0M356.5 581.8h0M343.8 592.3h0M324.8 581.9h0M322.2 585.3h0M350.5 578.7h0M354.2 577.2h0M346.7 581.2h0M337.0 593.0h0M351.4 583.0h0M351.1 583.1h0M355.3 571.8h0M349.2 601.0h0M328.1 573.3h0M338.2 570.8h0M359.1 587.6h0M342.5 598.1h0M337.4 583.1h0M322.5 583.1h0M342.4 604.8h0M327.5 601.2h0M347.2 576.8h0M345.1 600.4h0M344.5 579.9h0M355.4 576.2h0M343.9 571.0h0M348.4 582.0h0M329.8 589.6h0M327.5 585.7h0M344.8 575.6h0M371.2 618.4h0M385.1 595.1h0M383.5 593.4h0M385.3 585.2h0M392.5 591.3h0M375.0 590.6h0M370.2 608.2h0M377.4 623.7h0M374.0 598.8h0M377.5 613.0h0M374.7 595.9h0M379.8 618.4h0M390.4 596.2h0M374.0 593.3h0M371.5 602.5h0M381.5 607.2h0M374.6 616.9h0M371.5 603.5h0M371.3 608.2h0M373.7 608.8h0M385.8 614.8h0M374.4 614.7h0M373.0 606.0h0M373.4 602.1h0M389.8 604.3h0M388.2 603.2h0M374.8 588.3h0M386.3 590.2h0M371.4 611.0h0M372.5 600.0h0M365.1 604.1h0M366.8 612.8h0M365.8 594.7h0M369.5 591.5h0M363.3 609.7h0M367.0 602.5h0M363.7 592.7h0M370.3 591.4h0M370.0 594.4h0M361.8 602.1h0M367.5 592.0h0M392.5 579.3h0M355.0 595.2h0M358.0 599.3h0M363.0 597.3h0" stroke="#7CCB4E" stroke-width="3.3" stroke-linecap="round" fill="none"/>
<path d="M329.4 578.9h0M334.5 578.3h0M325.2 583.2h0M326.5 579.1h0M326.4 587.3h0M330.3 586.1h0M331.8 576.4h0M328.9 584.9h0M330.4 587.0h0M332.8 583.8h0M334.4 585.5h0M326.9 587.9h0M331.9 576.8h0M329.2 577.1h0M332.1 586.4h0M332.7 587.5h0M330.3 583.7h0M325.0 581.8h0M334.6 586.3h0M331.8 584.5h0M330.0 587.5h0M329.2 577.7h0M329.2 580.7h0M334.8 579.7h0M325.0 580.2h0M334.3 582.1h0M326.0 586.1h0M333.8 583.4h0M332.1 576.9h0M329.0 586.5h0M325.4 578.1h0M326.0 585.3h0M325.1 579.0h0M384.9 596.3h0M386.3 599.9h0M388.5 584.8h0M389.4 590.3h0M383.5 603.9h0M388.0 618.1h0M383.9 633.8h0M386.3 629.2h0M385.1 609.7h0M382.4 629.1h0M391.7 598.5h0M384.4 603.2h0M382.0 624.1h0M386.3 629.1h0M376.8 598.2h0M381.3 601.1h0M386.9 585.2h0M378.4 630.1h0M396.0 592.9h0M394.3 601.0h0M375.6 615.2h0M391.0 598.9h0M390.6 589.8h0M382.7 586.9h0M376.2 598.6h0M390.5 592.9h0M375.0 594.9h0M380.6 616.7h0M376.4 598.3h0M377.8 615.6h0M382.6 609.9h0M377.1 624.0h0M391.8 595.4h0M377.9 610.9h0M383.2 621.3h0M381.0 630.4h0M384.3 592.1h0M380.2 616.5h0M384.5 626.1h0M389.7 609.5h0M387.5 594.9h0M382.6 622.4h0M376.6 607.9h0M384.3 584.7h0M387.2 619.4h0M382.4 605.5h0M386.4 610.7h0M392.9 595.0h0M387.9 609.7h0M380.4 593.9h0M384.0 621.8h0M383.0 621.0h0M395.8 590.1h0M381.2 598.1h0M382.1 586.8h0M385.9 595.2h0M383.2 630.6h0M380.4 600.1h0M388.7 585.8h0M381.2 626.0h0M380.9 622.8h0M376.0 600.6h0M376.0 606.8h0M378.7 605.7h0M380.9 586.6h0M375.0 596.3h0M381.2 630.1h0M390.7 596.6h0M380.3 590.7h0M396.3 583.9h0M379.1 602.5h0M379.2 622.3h0M384.9 585.7h0M381.2 595.0h0M387.1 584.5h0M385.6 589.8h0M381.6 602.6h0M395.1 594.4h0M378.3 600.5h0M386.3 624.3h0M376.0 618.1h0M395.1 594.9h0M388.2 587.5h0M382.2 602.9h0M377.9 591.0h0M376.7 587.6h0M390.3 611.2h0M390.2 584.0h0M381.2 601.5h0M386.9 606.9h0M379.2 595.8h0M375.1 606.9h0M380.3 612.3h0M388.1 614.6h0M381.7 604.1h0M377.8 625.3h0M396.4 584.8h0M378.7 601.3h0M375.3 594.5h0M381.2 595.1h0M386.1 625.4h0M379.9 628.2h0M378.9 619.5h0M380.5 597.5h0M376.6 595.6h0M379.2 592.0h0M384.8 589.3h0M395.2 585.6h0M377.1 608.8h0M393.0 602.9h0M390.7 595.7h0M390.7 599.6h0M386.3 604.4h0M390.4 614.7h0M389.3 594.7h0M378.1 620.3h0M385.6 607.6h0M380.6 598.7h0M387.8 622.0h0M390.0 610.8h0M384.0 589.0h0M388.0 596.9h0M376.4 607.5h0M380.4 596.1h0M393.3 603.1h0M388.9 614.7h0M382.7 625.5h0M390.9 591.9h0M378.8 609.2h0M385.1 624.3h0M390.4 595.7h0M396.4 584.1h0M386.6 594.5h0M381.1 601.8h0M380.4 615.5h0M380.1 597.1h0M391.4 593.7h0M389.6 591.9h0M380.0 604.9h0M385.4 631.6h0M379.1 621.5h0M382.3 632.1h0M376.1 603.7h0M390.4 592.0h0M377.7 617.5h0M375.1 601.1h0M388.3 602.2h0M388.6 593.7h0M384.5 611.9h0M389.2 604.3h0M387.3 612.2h0M384.8 584.5h0M388.1 605.7h0M387.1 613.3h0M397.0 590.6h0M383.4 633.7h0M391.3 598.9h0M381.5 627.3h0M384.1 594.8h0M377.0 624.2h0M414.2 579.1h0M407.3 581.3h0M399.2 579.5h0M427.3 578.2h0M405.8 584.4h0M430.0 583.8h0M417.9 586.4h0M430.4 585.0h0M411.6 585.3h0M420.6 586.4h0M404.4 581.0h0M430.8 582.9h0M404.1 581.8h0M409.7 574.8h0M421.1 574.0h0M420.1 582.3h0M423.6 577.8h0M433.4 580.6h0M410.4 572.4h0M435.5 582.2h0M425.3 575.7h0M408.5 576.6h0M402.1 581.0h0M413.0 584.8h0M412.4 577.6h0M409.9 582.4h0M405.6 580.0h0M423.0 577.5h0M425.6 580.4h0M414.0 569.8h0M412.8 574.1h0M407.8 582.3h0M422.8 573.4h0M412.5 571.1h0M412.9 575.3h0M428.6 585.3h0M419.6 579.3h0M411.1 582.8h0M422.7 575.3h0M414.8 575.7h0M414.6 574.8h0M422.7 580.5h0M428.9 581.4h0M412.1 581.5h0M404.6 575.8h0M401.9 576.3h0M402.9 581.4h0M420.8 583.2h0M406.3 584.6h0M425.1 583.9h0M401.0 577.8h0M417.4 579.1h0M400.7 584.1h0M408.2 578.6h0M401.2 579.8h0M416.5 574.3h0M426.9 573.4h0M404.9 577.5h0M418.3 577.6h0M412.3 580.6h0M402.4 584.7h0M425.2 582.6h0M402.5 579.0h0M421.6 585.3h0M409.3 578.2h0M422.1 586.1h0M433.6 579.8h0M416.0 586.4h0M411.8 574.5h0M425.4 573.6h0M410.8 577.0h0M415.1 575.6h0M413.3 577.4h0M398.3 585.1h0M398.7 579.0h0M417.9 576.4h0M411.0 574.8h0M415.4 573.1h0M425.8 578.2h0M419.7 587.5h0M410.7 580.4h0M410.8 574.5h0M420.3 580.2h0M416.6 583.4h0M406.2 573.9h0M427.6 576.9h0M430.2 576.5h0M407.6 582.0h0M408.8 584.7h0M427.4 581.2h0M398.5 583.6h0M398.2 580.9h0M418.1 586.9h0M433.1 583.4h0M419.1 568.6h0M425.3 576.8h0M423.1 588.0h0M427.1 577.2h0M425.9 576.0h0M413.9 577.2h0M400.9 585.0h0M422.6 579.4h0M404.6 576.7h0M417.4 585.1h0M401.2 585.8h0M413.3 576.0h0M422.9 586.9h0M415.7 582.2h0M411.6 583.9h0M400.4 583.2h0M402.9 580.1h0M404.3 575.4h0M402.8 575.4h0M419.6 578.8h0M411.6 579.9h0M429.5 575.6h0M419.3 578.0h0M399.2 577.7h0M399.8 576.6h0M396.8 576.5h0M402.2 575.4h0M397.9 579.7h0M400.0 579.6h0M400.6 576.5h0M393.9 582.5h0M394.0 581.8h0M397.2 577.5h0M391.8 584.3h0M402.7 574.7h0M381.7 641.1h0M386.3 638.3h0M383.2 638.6h0M381.0 639.1h0M381.1 644.3h0M381.1 652.4h0M380.6 644.9h0M383.8 655.5h0M380.4 639.2h0M380.5 662.2h0M382.0 668.4h0M382.4 664.9h0M380.9 681.5h0M381.0 663.3h0M385.8 655.0h0M378.1 652.1h0M381.0 651.5h0M383.3 657.3h0M385.0 651.4h0M375.8 646.5h0M377.6 651.2h0M376.7 645.9h0M378.7 652.5h0M378.9 641.9h0M378.8 649.2h0M382.1 671.0h0M380.3 674.7h0M378.8 638.5h0M378.7 641.2h0M378.3 637.7h0M377.7 644.2h0M381.3 662.7h0M384.7 660.7h0M381.7 649.5h0M380.0 664.4h0M384.7 654.6h0M380.6 666.8h0M380.1 644.2h0M382.5 653.1h0M380.2 665.4h0M377.9 652.5h0M379.4 661.4h0M380.0 651.4h0M387.0 646.6h0M386.5 643.2h0M377.4 643.6h0M384.1 646.7h0M381.9 643.0h0M387.5 649.0h0M378.3 662.3h0M380.6 679.8h0M380.9 653.6h0M382.7 657.6h0M380.4 666.2h0M387.8 648.9h0M379.8 639.5h0M385.2 646.7h0M380.7 655.9h0M381.5 680.9h0M380.5 658.6h0M380.7 651.9h0M376.0 645.7h0M383.5 673.7h0M385.3 643.9h0M385.5 650.0h0M382.3 679.2h0M386.3 650.3h0M382.5 641.4h0M384.1 638.2h0M381.7 680.8h0M382.8 659.0h0M378.9 652.4h0M385.2 646.4h0M383.0 672.7h0M383.6 660.2h0M377.8 648.5h0M386.9 649.4h0M378.1 648.8h0M381.0 658.8h0M381.2 658.1h0M384.4 647.4h0M376.7 651.1h0M378.4 660.7h0M379.3 654.9h0M379.6 668.4h0M382.8 680.5h0M386.8 647.5h0M381.3 683.4h0M381.1 644.5h0M384.7 638.1h0M384.1 650.7h0M383.8 657.3h0M379.6 640.5h0M386.6 638.1h0M383.6 656.4h0M393.0 597.3h0M403.0 595.2h0M400.0 600.4h0M375.0 646.7h0M410.0 589.0h0M357.0 602.4h0" stroke="#7B34E2" stroke-width="3.3" stroke-linecap="round" fill="none"/>
<path d="M352.8 586.4h0M356.1 585.7h0M324.8 593.3h0M350.1 591.0h0M357.4 585.6h0M350.5 594.4h0M350.0 592.1h0M337.0 594.4h0M343.5 604.9h0M329.5 596.7h0M349.6 582.7h0M347.6 592.5h0M355.5 587.4h0M352.8 586.6h0M353.3 592.5h0M350.5 594.4h0M354.3 587.4h0M345.8 578.0h0M343.9 612.7h0M348.4 578.7h0M353.7 587.2h0M336.3 600.0h0M381.7 605.1h0M387.1 586.4h0M373.3 610.4h0M379.2 586.1h0M387.3 597.4h0M374.4 618.2h0M371.5 603.9h0M376.4 595.8h0M374.5 593.3h0M390.0 601.4h0M378.8 604.6h0M377.9 619.3h0M370.4 615.1h0M379.3 608.3h0M379.7 604.5h0M374.1 612.7h0M377.4 617.0h0M372.7 618.9h0M381.0 594.6h0M368.8 594.7h0M367.0 595.3h0M369.7 603.2h0M367.0 595.2h0" stroke="#DB2A8C" stroke-width="3.3" stroke-linecap="round" fill="none"/>
<path d="M345.0 608.5h0M333.9 599.5h0M328.6 590.9h0M328.9 603.4h0M342.9 603.6h0M337.7 583.4h0M328.7 603.3h0M373.3 605.7h0M378.7 603.1h0M376.2 621.1h0M370.9 603.5h0M395.0 593.3h0M379.5 621.7h0M393.1 590.4h0M383.9 604.1h0M381.5 599.3h0M364.3 606.5h0M392.7 583.3h0" stroke="#F6D43A" stroke-width="3.3" stroke-linecap="round" fill="none"/>
<text x="577.10" y="565.30" font-size="44.00" text-anchor="start" fill="#1c1c1c" font-weight="bold">G</text>
<text x="734.30" y="651.00" font-size="14.50" text-anchor="start" fill="#1c1c1c" textLength="65.2" lengthAdjust="spacingAndGlyphs">Procr+ prog.</text>
<path d="M647.00 640.20 L647.00 687.30 L693.50 687.30" fill="none" stroke="#1c1c1c" stroke-width="1.5"/>
<path d="M647.00 634.70 L643.60 640.70 L650.40 640.70 Z" fill="#1c1c1c"/>
<path d="M699.00 687.30 L693.00 683.90 L693.00 690.70 Z" fill="#1c1c1c"/>
<text x="640.20" y="663.70" font-size="9.80" text-anchor="middle" fill="#1c1c1c" textLength="47.5" lengthAdjust="spacingAndGlyphs" transform="rotate(-90 640.20 663.70)">LARGEVIS 2</text>
<text x="646.20" y="702.30" font-size="9.60" text-anchor="start" fill="#1c1c1c" textLength="47.5" lengthAdjust="spacingAndGlyphs">LARGEVIS 1</text>
<path d="M671.1 587.4h0M690.2 582.6h0M673.3 588.8h0M660.2 585.0h0M678.3 599.1h0M656.5 574.5h0M680.9 561.4h0M679.2 590.2h0M674.2 562.3h0M660.4 571.4h0M653.9 582.6h0M670.6 601.5h0M673.8 591.4h0M673.0 592.5h0M671.3 573.2h0M665.5 570.8h0M664.4 562.8h0M683.8 579.4h0M687.1 578.7h0M689.7 582.9h0M692.5 579.2h0M655.7 590.9h0M684.3 572.8h0M656.2 576.0h0M657.5 571.7h0M685.1 568.2h0M675.4 581.7h0M660.4 596.0h0M658.0 591.6h0M657.4 580.4h0M661.3 572.8h0M665.0 603.7h0M661.3 579.1h0M661.4 572.3h0M684.1 575.8h0M664.7 563.0h0M656.4 588.5h0M662.6 589.4h0M667.8 582.0h0M676.0 602.7h0M660.1 567.0h0M662.8 568.8h0M669.8 564.5h0M662.4 594.6h0M663.1 600.6h0M676.9 574.0h0M659.8 595.4h0M655.5 570.8h0M675.4 602.0h0M677.6 573.4h0M689.9 569.5h0M653.4 572.8h0M670.8 562.3h0M659.9 577.8h0M675.9 565.9h0M667.4 604.0h0M680.8 588.6h0M672.3 595.9h0M655.8 586.7h0M667.0 593.7h0M669.6 598.9h0M678.1 578.5h0M676.4 589.8h0M656.0 591.4h0M682.3 578.8h0M682.5 588.4h0M670.6 601.3h0M672.2 570.8h0M681.1 584.2h0M664.9 593.3h0M660.9 567.8h0M670.6 604.0h0M666.0 592.7h0M660.8 580.9h0M688.4 578.6h0M676.4 575.2h0M658.2 584.2h0M663.9 567.8h0M671.0 573.1h0M661.4 580.1h0M678.1 584.1h0M665.5 601.4h0M681.5 587.9h0M665.2 599.0h0M671.2 560.5h0M686.4 571.2h0M678.2 581.7h0M678.3 592.1h0M680.5 569.3h0M672.0 568.3h0M653.1 583.0h0M681.7 568.3h0M663.8 576.6h0M681.0 585.4h0M677.6 597.2h0M668.7 599.0h0M658.0 582.0h0M668.0 587.8h0M679.1 569.6h0M678.7 595.3h0M674.5 599.0h0M665.7 604.9h0M687.4 576.8h0M656.1 581.4h0M675.0 597.8h0M672.5 560.7h0M685.2 568.0h0M666.3 598.8h0M658.4 566.8h0M673.7 595.6h0M661.7 585.7h0M664.5 595.8h0M678.6 585.5h0M665.4 578.4h0M676.0 569.4h0M674.5 584.5h0M677.3 560.7h0M669.0 599.5h0M675.6 583.9h0M680.8 562.6h0M674.6 580.0h0M663.6 583.0h0M657.9 581.0h0M672.0 575.2h0M660.5 590.3h0M660.6 570.7h0M680.6 575.4h0M667.1 590.4h0M657.0 595.9h0M657.7 584.9h0M662.9 569.2h0M674.2 581.2h0M668.0 580.0h0M674.2 567.3h0M661.0 591.0h0M678.6 585.9h0M687.5 571.0h0M689.3 575.1h0M662.4 595.7h0M663.2 564.2h0M686.5 580.4h0M684.8 565.6h0M669.1 593.7h0M653.4 569.4h0M673.2 597.3h0M673.1 593.7h0M675.1 585.1h0M675.8 566.6h0M660.2 569.5h0M671.5 597.6h0M666.0 582.7h0M673.6 580.9h0M677.1 560.0h0M660.1 582.1h0M682.7 579.6h0M660.6 567.6h0M673.5 560.1h0M678.3 579.6h0M677.0 584.6h0M685.8 579.6h0M683.8 579.6h0M682.0 562.8h0M666.6 582.8h0M653.1 577.1h0M678.6 590.6h0M679.7 576.2h0M679.5 587.9h0M674.3 578.8h0M677.7 596.3h0M663.1 579.4h0M654.7 569.1h0M668.0 564.2h0M675.0 584.8h0M685.6 563.1h0M677.0 597.4h0M659.2 583.0h0M659.6 584.1h0M677.5 562.2h0M691.1 580.4h0M674.1 589.3h0M667.5 573.6h0M679.3 587.4h0M664.2 595.2h0M659.1 597.1h0M668.5 604.3h0M683.1 561.8h0M670.1 583.2h0M692.2 571.5h0M673.9 606.3h0M682.0 582.8h0M677.2 565.1h0M678.0 582.1h0M674.1 565.5h0M670.7 592.8h0M671.2 572.4h0M676.3 580.3h0M684.3 585.9h0M682.5 571.3h0M667.3 572.9h0M680.5 587.6h0M676.7 591.0h0M683.3 568.8h0M663.7 580.6h0M678.0 564.4h0M674.7 562.9h0M656.2 593.2h0M675.1 590.9h0M667.9 583.3h0M661.3 576.5h0M683.9 570.0h0M669.9 572.2h0M685.6 577.8h0M665.9 586.8h0M670.1 577.8h0M675.6 583.6h0M680.5 574.3h0M684.2 563.1h0M661.4 592.5h0M656.0 574.5h0M664.2 566.5h0M667.2 595.7h0M667.6 565.2h0M681.5 587.8h0M689.8 581.3h0M685.3 574.6h0M665.6 579.3h0M662.8 577.4h0M667.5 577.5h0M668.8 578.7h0M660.6 587.6h0M685.1 586.4h0M659.9 597.4h0M688.5 573.4h0M653.6 585.2h0M674.8 587.8h0M674.9 598.8h0M656.1 591.1h0M658.5 596.7h0M679.0 571.6h0M661.7 597.7h0M673.9 597.6h0M668.7 576.2h0M672.7 586.2h0M689.8 579.9h0M674.0 594.9h0M685.3 580.4h0M669.8 566.6h0M667.9 567.7h0M661.0 580.6h0M655.1 574.8h0M657.4 591.8h0M684.2 568.3h0M655.2 582.3h0M676.4 604.9h0M660.2 570.2h0M662.3 595.3h0M676.8 570.5h0M660.2 573.4h0M659.7 597.3h0M665.4 586.8h0M685.9 583.3h0M689.8 576.5h0M674.9 607.3h0M672.3 570.4h0M685.2 578.6h0M674.1 585.2h0M679.4 571.2h0M653.1 583.0h0M667.8 599.3h0M681.7 589.7h0M659.1 567.2h0M665.8 572.3h0M663.5 586.1h0M658.8 597.9h0M656.0 572.8h0M681.8 564.2h0M672.2 582.8h0M687.5 574.5h0M684.7 580.2h0M686.2 569.7h0M674.8 585.7h0M665.3 574.9h0M655.8 574.6h0M671.7 595.2h0M667.3 593.8h0M657.0 579.1h0M671.4 607.8h0M653.2 578.2h0M681.5 571.2h0M675.6 582.3h0M685.2 569.7h0M677.7 573.9h0M668.0 586.4h0M664.8 576.2h0M668.6 592.7h0M663.1 569.3h0M682.4 575.8h0M682.1 575.9h0M686.3 563.9h0M680.2 594.8h0M660.0 579.5h0M656.4 570.7h0M659.1 565.5h0M669.2 562.9h0M690.1 580.7h0M673.5 591.8h0M668.4 575.9h0M669.0 594.4h0M679.5 589.8h0M653.5 575.9h0M666.6 591.9h0M657.0 578.2h0M673.4 598.8h0M659.1 597.7h0M667.0 584.4h0M658.5 595.1h0M678.2 569.2h0M656.1 571.6h0M676.1 594.3h0M667.4 582.5h0M674.8 587.4h0M675.5 572.6h0M662.5 588.1h0M686.4 568.6h0M674.9 563.1h0M679.4 574.7h0M668.2 589.0h0M660.8 582.8h0M658.5 578.7h0M675.8 568.0h0M715.9 589.9h0M717.3 593.6h0M719.5 577.7h0M720.4 583.5h0M714.5 597.9h0M712.7 599.2h0M716.1 604.1h0M722.7 592.2h0M718.1 579.4h0M704.3 599.9h0M715.4 597.1h0M702.2 613.3h0M716.1 588.6h0M709.7 597.1h0M704.3 604.8h0M707.8 591.9h0M710.2 579.0h0M712.3 595.0h0M717.9 578.1h0M709.7 602.7h0M714.5 586.8h0M727.0 586.2h0M725.3 594.8h0M714.5 585.0h0M706.6 609.9h0M722.0 592.6h0M721.6 583.0h0M713.7 579.9h0M707.2 592.3h0M721.5 586.3h0M706.0 588.4h0M707.4 592.0h0M713.6 604.3h0M716.3 578.1h0M718.3 591.1h0M722.8 589.0h0M708.9 605.3h0M715.3 585.4h0M720.7 603.8h0M723.5 584.6h0M718.5 588.4h0M707.6 602.1h0M715.3 577.6h0M706.0 583.9h0M701.2 602.5h0M713.4 599.6h0M723.9 588.5h0M705.0 592.5h0M718.9 604.1h0M705.7 589.5h0M705.4 613.1h0M702.5 597.9h0M711.4 587.4h0M726.8 583.3h0M712.2 591.8h0M713.1 579.8h0M707.4 589.4h0M716.9 588.7h0M711.4 593.9h0M701.9 597.5h0M719.7 578.8h0M707.0 594.5h0M706.1 605.4h0M705.5 586.7h0M707.0 601.0h0M709.7 599.9h0M726.0 586.7h0M711.9 579.6h0M721.0 595.3h0M706.0 589.9h0M721.7 590.2h0M711.3 584.0h0M727.3 576.8h0M710.1 596.5h0M715.9 578.6h0M712.2 588.6h0M718.1 577.4h0M709.8 598.6h0M716.6 583.0h0M721.4 589.8h0M705.0 586.7h0M712.6 596.6h0M726.1 587.9h0M709.3 594.3h0M701.4 609.8h0M726.1 588.4h0M719.2 580.5h0M713.2 596.9h0M702.5 596.4h0M710.3 602.6h0M708.9 584.2h0M712.5 601.4h0M705.6 611.7h0M707.7 580.7h0M710.7 598.5h0M705.1 607.2h0M721.3 605.6h0M721.2 576.9h0M712.2 595.4h0M702.5 597.6h0M702.3 602.5h0M717.9 601.1h0M710.2 589.4h0M706.1 601.1h0M712.7 598.2h0M727.4 577.7h0M704.7 603.1h0M709.7 595.2h0M706.3 588.0h0M720.6 588.4h0M712.2 588.6h0M705.4 609.3h0M711.5 591.1h0M707.6 589.2h0M710.2 585.3h0M715.8 582.5h0M703.7 613.8h0M704.0 600.1h0M726.2 578.5h0M708.1 603.1h0M724.0 596.9h0M721.7 589.3h0M721.7 593.4h0M717.3 598.4h0M704.4 596.1h0M720.3 588.2h0M720.8 598.4h0M719.2 597.1h0M716.6 601.8h0M711.6 592.4h0M709.0 596.9h0M721.0 605.2h0M724.1 583.6h0M705.8 581.5h0M715.0 582.2h0M717.3 583.4h0M719.0 590.5h0M707.4 601.8h0M711.4 589.7h0M714.9 598.1h0M724.3 597.1h0M702.4 605.5h0M721.9 585.2h0M709.8 603.5h0M721.4 589.2h0M727.4 576.9h0M717.6 588.0h0M712.1 595.7h0M711.1 590.8h0M703.5 593.8h0M722.4 587.1h0M720.6 585.3h0M711.0 599.0h0M712.5 593.1h0M707.1 597.8h0M721.4 585.3h0M706.1 595.0h0M719.3 596.1h0M719.6 587.2h0M720.9 600.2h0M720.2 598.4h0M712.0 588.1h0M715.8 577.4h0M719.1 599.9h0M728.0 583.9h0M722.3 592.6h0M715.1 588.3h0M745.2 571.7h0M738.3 574.0h0M730.2 572.1h0M758.3 570.8h0M736.8 577.2h0M761.0 576.6h0M748.9 579.5h0M761.4 578.0h0M742.6 578.3h0M751.6 579.4h0M735.4 573.7h0M761.8 575.7h0M735.1 574.5h0M740.7 567.1h0M752.1 566.3h0M751.1 575.0h0M754.6 570.3h0M764.4 573.3h0M741.4 564.6h0M766.5 575.0h0M756.3 568.0h0M739.5 569.0h0M733.1 573.7h0M744.0 577.7h0M743.4 570.1h0M740.9 575.2h0M736.6 572.6h0M754.0 570.0h0M756.6 573.1h0M745.0 561.8h0M743.8 566.4h0M738.8 575.0h0M753.8 565.6h0M743.5 563.3h0M743.9 567.6h0M759.6 578.3h0M750.6 571.9h0M742.1 575.6h0M753.7 567.7h0M745.8 568.1h0M745.6 567.1h0M753.7 573.2h0M759.9 574.1h0M743.1 574.2h0M735.6 568.2h0M732.9 568.8h0M733.9 574.1h0M751.8 576.0h0M737.3 577.5h0M756.1 576.7h0M732.0 570.3h0M748.4 571.7h0M731.7 577.0h0M739.2 571.1h0M732.2 572.4h0M747.5 566.7h0M757.9 565.7h0M735.9 570.0h0M749.3 570.1h0M743.3 573.3h0M733.4 577.6h0M756.2 575.4h0M733.5 571.6h0M752.6 578.2h0M740.3 570.7h0M753.1 579.1h0M764.6 572.4h0M747.0 579.4h0M742.8 566.8h0M756.4 565.9h0M741.8 569.5h0M746.1 568.0h0M744.3 569.9h0M729.3 578.0h0M729.7 571.5h0M748.9 568.9h0M742.0 567.1h0M746.4 565.3h0M756.8 570.7h0M750.7 580.6h0M741.7 573.0h0M741.8 566.8h0M751.3 572.8h0M739.7 570.9h0M747.6 576.3h0M737.2 566.2h0M758.6 569.4h0M761.2 568.9h0M738.6 574.7h0M760.1 567.4h0M739.8 577.6h0M758.4 573.9h0M729.5 576.5h0M729.2 573.6h0M749.1 579.9h0M764.1 576.3h0M750.1 560.6h0M756.3 569.3h0M754.1 581.1h0M758.1 569.7h0M756.9 568.4h0M744.9 569.6h0M731.9 578.0h0M753.6 572.0h0M749.4 579.8h0M735.6 569.2h0M748.4 578.1h0M732.2 578.8h0M744.3 568.4h0M753.9 579.9h0M746.7 574.9h0M742.6 576.8h0M731.4 576.0h0M733.9 572.8h0M735.3 567.7h0M733.8 567.8h0M750.6 571.4h0M742.6 572.5h0M760.5 568.0h0M750.3 570.6h0M699.8 588.2h0M693.7 601.1h0M698.0 588.8h0M695.3 600.7h0M696.1 598.1h0M697.8 607.4h0M696.8 588.2h0M700.5 584.8h0M694.3 604.1h0M698.0 596.4h0M694.7 586.1h0M701.3 584.7h0M701.0 587.8h0M692.8 596.0h0M698.5 585.3h0M700.7 597.2h0M730.2 570.2h0M723.7 576.1h0M730.8 569.0h0M727.8 568.9h0M723.5 571.9h0M733.2 567.8h0M728.9 572.4h0M731.0 572.2h0M731.6 569.0h0M724.9 575.3h0M725.0 574.6h0M728.2 570.0h0M722.8 577.2h0M733.7 567.1h0M686.0 588.7h0M689.0 593.1h0M724.0 590.9h0M734.0 588.7h0M731.0 594.2h0M741.0 582.2h0M688.0 596.4h0M694.0 590.9h0M698.0 588.7h0" stroke="#C2C2C2" stroke-width="3.2" stroke-linecap="round" fill="none"/>
<path d="M709.0 646.9h0M710.9 651.6h0M714.6 609.6h0M714.8 616.2h0M713.1 662.3h0M715.2 609.5h0M716.5 650.6h0M711.2 667.0h0M711.9 677.5h0M718.2 612.1h0M714.6 628.0h0M712.9 634.6h0M710.6 650.1h0M714.0 675.0h0M715.2 617.2h0M715.9 621.0h0M717.6 649.2h0M711.5 616.3h0M709.8 664.5h0M718.2 607.9h0M714.4 608.0h0M715.9 630.3h0M710.0 610.5h0M714.2 606.9h0M708.4 636.3h0M714.4 616.7h0M712.2 645.1h0M714.8 651.0h0M713.6 652.9h0M711.8 660.7h0M713.5 605.4h0M711.5 649.7h0M714.7 609.2h0M714.6 640.9h0M715.3 632.0h0M709.1 640.1h0M714.1 629.5h0M710.8 628.9h0M710.9 651.0h0M709.9 633.9h0M716.7 606.6h0M713.8 661.8h0M710.0 621.9h0M717.2 623.1h0M708.2 638.4h0M715.6 612.4h0M710.2 630.5h0M710.4 655.2h0M713.2 619.4h0M717.2 631.4h0M717.0 625.7h0M710.5 637.0h0M711.6 636.4h0M711.8 678.6h0M715.1 645.0h0M709.7 631.1h0M714.0 626.9h0M717.2 608.0h0M715.1 645.4h0M711.5 677.7h0M714.4 631.1h0M712.4 665.5h0M710.6 619.9h0M713.3 668.2h0M717.4 605.1h0M714.6 671.8h0M709.4 645.6h0M711.6 641.4h0M706.7 643.7h0M710.1 629.0h0M710.6 655.0h0M714.0 632.6h0M715.9 634.2h0M710.9 651.6h0M716.8 634.2h0M711.8 633.5h0M712.7 659.3h0M711.6 658.6h0M712.2 623.6h0M713.3 658.7h0M711.7 673.1h0M709.3 640.7h0M716.1 648.5h0M716.7 608.0h0M717.1 607.3h0M716.6 644.4h0M715.9 612.8h0M713.7 669.1h0M709.1 652.5h0M716.4 635.2h0M710.8 635.4h0M710.6 637.1h0M706.7 643.5h0M716.3 617.0h0M715.5 663.5h0M715.3 644.8h0M712.5 654.7h0M711.9 660.6h0M708.4 650.2h0M710.1 622.6h0M709.8 659.5h0M711.5 671.1h0M714.0 625.3h0M712.5 634.4h0M710.2 664.9h0M712.5 651.2h0M712.3 669.6h0M717.4 648.0h0M712.5 660.7h0M712.3 622.4h0M704.0 636.0h0M703.5 641.0h0M721.0 628.0h0M720.5 612.0h0M706.5 624.0h0" stroke="#7D0A0A" stroke-width="3.2" stroke-linecap="round" fill="none"/>
<text x="853.00" y="565.30" font-size="44.00" text-anchor="start" fill="#1c1c1c" font-weight="bold" textLength="31.4" lengthAdjust="spacingAndGlyphs">H</text>
<rect x="927.30" y="573.40" width="0.00" height="27.00" fill="#E2501C"/>
<rect x="927.30" y="573.40" width="0.00" height="27.00" fill="#7CCB4E"/>
<rect x="927.30" y="573.40" width="0.00" height="27.00" fill="#F6D43A"/>
<rect x="927.30" y="573.40" width="0.00" height="27.00" fill="#DB2A8C"/>
<rect x="927.30" y="573.40" width="167.10" height="27.00" fill="#7B34E2"/>
<line x1="927.30" y1="573.40" x2="927.30" y2="600.40" stroke="#222" stroke-width="0.9"/>
<line x1="927.30" y1="573.40" x2="927.30" y2="600.40" stroke="#222" stroke-width="0.9"/>
<line x1="927.30" y1="573.40" x2="927.30" y2="600.40" stroke="#222" stroke-width="0.9"/>
<line x1="927.30" y1="573.40" x2="927.30" y2="600.40" stroke="#222" stroke-width="0.9"/>
<rect x="927.30" y="573.40" width="167.10" height="27.00" fill="none" stroke="#222" stroke-width="1"/>
<text x="915.80" y="593.20" font-size="17.00" text-anchor="middle" fill="#1c1c1c" textLength="9.0" lengthAdjust="spacingAndGlyphs">3</text>
<rect x="927.30" y="605.20" width="31.25" height="27.00" fill="#E2501C"/>
<rect x="958.55" y="605.20" width="84.89" height="27.00" fill="#7CCB4E"/>
<rect x="1043.43" y="605.20" width="3.68" height="27.00" fill="#F6D43A"/>
<rect x="1047.11" y="605.20" width="34.76" height="27.00" fill="#DB2A8C"/>
<rect x="1081.87" y="605.20" width="12.53" height="27.00" fill="#7B34E2"/>
<line x1="958.55" y1="605.20" x2="958.55" y2="632.20" stroke="#222" stroke-width="0.9"/>
<line x1="1043.43" y1="605.20" x2="1043.43" y2="632.20" stroke="#222" stroke-width="0.9"/>
<line x1="1047.11" y1="605.20" x2="1047.11" y2="632.20" stroke="#222" stroke-width="0.9"/>
<line x1="1081.87" y1="605.20" x2="1081.87" y2="632.20" stroke="#222" stroke-width="0.9"/>
<rect x="927.30" y="605.20" width="167.10" height="27.00" fill="none" stroke="#222" stroke-width="1"/>
<text x="915.80" y="625.00" font-size="17.00" text-anchor="middle" fill="#1c1c1c" textLength="9.0" lengthAdjust="spacingAndGlyphs">2</text>
<rect x="927.30" y="636.60" width="6.35" height="27.00" fill="#E2501C"/>
<rect x="933.65" y="636.60" width="19.88" height="27.00" fill="#7CCB4E"/>
<rect x="953.53" y="636.60" width="16.88" height="27.00" fill="#F6D43A"/>
<rect x="970.41" y="636.60" width="15.21" height="27.00" fill="#DB2A8C"/>
<rect x="985.62" y="636.60" width="108.78" height="27.00" fill="#7B34E2"/>
<line x1="933.65" y1="636.60" x2="933.65" y2="663.60" stroke="#222" stroke-width="0.9"/>
<line x1="953.53" y1="636.60" x2="953.53" y2="663.60" stroke="#222" stroke-width="0.9"/>
<line x1="970.41" y1="636.60" x2="970.41" y2="663.60" stroke="#222" stroke-width="0.9"/>
<line x1="985.62" y1="636.60" x2="985.62" y2="663.60" stroke="#222" stroke-width="0.9"/>
<rect x="927.30" y="636.60" width="167.10" height="27.00" fill="none" stroke="#222" stroke-width="1"/>
<text x="915.80" y="656.40" font-size="17.00" text-anchor="middle" fill="#1c1c1c" textLength="9.0" lengthAdjust="spacingAndGlyphs">1</text>
<line x1="927.30" y1="671.00" x2="1095.00" y2="671.00" stroke="#1c1c1c" stroke-width="1.8"/>
<line x1="927.30" y1="671.00" x2="927.30" y2="677.50" stroke="#1c1c1c" stroke-width="1.5"/>
<text x="927.30" y="694.20" font-size="14.00" text-anchor="middle" fill="#1c1c1c" textLength="16.5" lengthAdjust="spacingAndGlyphs">0.0</text>
<line x1="960.72" y1="671.00" x2="960.72" y2="677.50" stroke="#1c1c1c" stroke-width="1.5"/>
<text x="960.72" y="694.20" font-size="14.00" text-anchor="middle" fill="#1c1c1c" textLength="16.5" lengthAdjust="spacingAndGlyphs">0.2</text>
<line x1="994.14" y1="671.00" x2="994.14" y2="677.50" stroke="#1c1c1c" stroke-width="1.5"/>
<text x="994.14" y="694.20" font-size="14.00" text-anchor="middle" fill="#1c1c1c" textLength="16.5" lengthAdjust="spacingAndGlyphs">0.4</text>
<line x1="1027.56" y1="671.00" x2="1027.56" y2="677.50" stroke="#1c1c1c" stroke-width="1.5"/>
<text x="1027.56" y="694.20" font-size="14.00" text-anchor="middle" fill="#1c1c1c" textLength="16.5" lengthAdjust="spacingAndGlyphs">0.6</text>
<line x1="1060.98" y1="671.00" x2="1060.98" y2="677.50" stroke="#1c1c1c" stroke-width="1.5"/>
<text x="1060.98" y="694.20" font-size="14.00" text-anchor="middle" fill="#1c1c1c" textLength="16.5" lengthAdjust="spacingAndGlyphs">0.8</text>
<line x1="1094.40" y1="671.00" x2="1094.40" y2="677.50" stroke="#1c1c1c" stroke-width="1.5"/>
<text x="1094.40" y="694.20" font-size="14.00" text-anchor="middle" fill="#1c1c1c" textLength="16.5" lengthAdjust="spacingAndGlyphs">1.0</text>
<rect x="1115.40" y="571.40" width="7.30" height="17.80" fill="#E2501C" stroke="#333" stroke-width="0.8"/>
<text x="1129.00" y="585.90" font-size="16.60" text-anchor="start" fill="#1c1c1c" textLength="39.5" lengthAdjust="spacingAndGlyphs">Baron</text>
<rect x="1115.40" y="591.70" width="7.30" height="17.80" fill="#7CCB4E" stroke="#333" stroke-width="0.8"/>
<text x="1129.00" y="606.20" font-size="16.60" text-anchor="start" fill="#1c1c1c" textLength="46.2" lengthAdjust="spacingAndGlyphs">Kleiber</text>
<rect x="1115.40" y="612.00" width="7.30" height="17.80" fill="#F6D43A" stroke="#333" stroke-width="0.8"/>
<text x="1129.00" y="626.50" font-size="16.60" text-anchor="start" fill="#1c1c1c" textLength="43.3" lengthAdjust="spacingAndGlyphs">Chung</text>
<rect x="1115.40" y="632.30" width="7.30" height="17.80" fill="#DB2A8C" stroke="#333" stroke-width="0.8"/>
<text x="1129.00" y="646.80" font-size="16.60" text-anchor="start" fill="#1c1c1c" textLength="59.5" lengthAdjust="spacingAndGlyphs">Tritschler</text>
<rect x="1115.40" y="652.60" width="7.30" height="17.80" fill="#7B34E2" stroke="#333" stroke-width="0.8"/>
<text x="1129.00" y="667.10" font-size="16.60" text-anchor="start" fill="#1c1c1c" textLength="37.7" lengthAdjust="spacingAndGlyphs">Wang</text>
<text x="-0.40" y="768.00" font-size="44.00" text-anchor="start" fill="#1c1c1c" font-weight="bold">I</text>
<text x="51.00" y="926.50" font-size="24.00" text-anchor="middle" fill="#1c1c1c" textLength="151.0" lengthAdjust="spacingAndGlyphs" transform="rotate(-90 51.00 926.50)">Expression Level</text>
<text x="198.70" y="774.50" font-size="25.50" text-anchor="middle" fill="#1c1c1c" font-style="italic" textLength="64.6" lengthAdjust="spacingAndGlyphs">Pdgfra</text>
<line x1="84.40" y1="786.70" x2="84.40" y2="850.90" stroke="#1c1c1c" stroke-width="1.3"/>
<line x1="83.80" y1="850.20" x2="307.10" y2="850.20" stroke="#1c1c1c" stroke-width="1.3"/>
<line x1="80.20" y1="847.40" x2="84.40" y2="847.40" stroke="#1c1c1c" stroke-width="1.1"/>
<text x="76.60" y="852.90" font-size="15.50" text-anchor="end" fill="#1c1c1c" textLength="8.0" lengthAdjust="spacingAndGlyphs">0</text>
<line x1="80.20" y1="826.80" x2="84.40" y2="826.80" stroke="#1c1c1c" stroke-width="1.1"/>
<text x="76.60" y="832.30" font-size="15.50" text-anchor="end" fill="#1c1c1c" textLength="8.0" lengthAdjust="spacingAndGlyphs">1</text>
<line x1="80.20" y1="806.80" x2="84.40" y2="806.80" stroke="#1c1c1c" stroke-width="1.1"/>
<text x="76.60" y="812.30" font-size="15.50" text-anchor="end" fill="#1c1c1c" textLength="8.0" lengthAdjust="spacingAndGlyphs">2</text>
<line x1="100.70" y1="818.00" x2="100.70" y2="847.40" stroke="#222" stroke-width="0.8"/>
<line x1="95.70" y1="847.40" x2="105.70" y2="847.40" stroke="#333" stroke-width="1.8"/>
<line x1="113.20" y1="789.50" x2="113.20" y2="847.40" stroke="#222" stroke-width="0.8"/>
<line x1="108.20" y1="847.40" x2="118.20" y2="847.40" stroke="#333" stroke-width="1.8"/>
<line x1="126.00" y1="810.00" x2="126.00" y2="847.40" stroke="#222" stroke-width="0.8"/>
<line x1="121.00" y1="847.40" x2="131.00" y2="847.40" stroke="#333" stroke-width="1.8"/>
<line x1="133.60" y1="847.40" x2="143.60" y2="847.40" stroke="#333" stroke-width="1.8"/>
<path d="M151.30 847.40 C153.30 847.40 156.38 847.80 157.30 847.40 C158.22 847.00 157.30 846.23 156.80 845.00 C156.30 843.77 155.07 841.67 154.30 840.00 C153.53 838.33 152.28 836.67 152.20 835.00 C152.12 833.33 153.20 831.67 153.80 830.00 C154.40 828.33 155.58 827.00 155.80 825.00 C156.02 823.00 155.28 820.50 155.10 818.00 C154.92 815.50 155.00 813.00 154.70 810.00 C154.40 807.00 153.78 802.42 153.30 800.00 C152.82 797.58 152.22 796.25 151.80 795.50 C151.38 794.75 151.22 794.75 150.80 795.50 C150.38 796.25 149.78 797.58 149.30 800.00 C148.82 802.42 148.20 807.00 147.90 810.00 C147.60 813.00 147.68 815.50 147.50 818.00 C147.32 820.50 146.58 823.00 146.80 825.00 C147.02 827.00 148.20 828.33 148.80 830.00 C149.40 831.67 150.48 833.33 150.40 835.00 C150.32 836.67 149.07 838.33 148.30 840.00 C147.53 841.67 146.30 843.77 145.80 845.00 C145.30 846.23 144.38 847.00 145.30 847.40 C146.22 847.80 149.30 847.40 151.30 847.40 Z" fill="#7B34E2" stroke="#1a1a1a" stroke-width="0.7"/>
<line x1="146.30" y1="847.40" x2="156.30" y2="847.40" stroke="#333" stroke-width="1.5"/>
<line x1="165.90" y1="847.40" x2="175.90" y2="847.40" stroke="#333" stroke-width="1.8"/>
<line x1="177.90" y1="847.40" x2="187.90" y2="847.40" stroke="#333" stroke-width="1.8"/>
<line x1="190.70" y1="847.40" x2="200.70" y2="847.40" stroke="#333" stroke-width="1.8"/>
<line x1="203.40" y1="847.40" x2="213.40" y2="847.40" stroke="#333" stroke-width="1.8"/>
<line x1="221.00" y1="818.70" x2="221.00" y2="847.40" stroke="#222" stroke-width="0.8"/>
<line x1="216.00" y1="847.40" x2="226.00" y2="847.40" stroke="#333" stroke-width="1.8"/>
<line x1="234.60" y1="847.40" x2="296.40" y2="847.40" stroke="#333" stroke-width="0.8"/>
<line x1="265.20" y1="824.50" x2="265.20" y2="847.40" stroke="#222" stroke-width="0.8"/>
<line x1="260.20" y1="847.40" x2="270.20" y2="847.40" stroke="#333" stroke-width="1.8"/>
<text x="459.90" y="774.50" font-size="25.50" text-anchor="middle" fill="#1c1c1c" font-style="italic" textLength="64.6" lengthAdjust="spacingAndGlyphs">Pdgfrb</text>
<line x1="345.60" y1="786.70" x2="345.60" y2="850.90" stroke="#1c1c1c" stroke-width="1.3"/>
<line x1="345.00" y1="850.20" x2="568.30" y2="850.20" stroke="#1c1c1c" stroke-width="1.3"/>
<line x1="341.40" y1="847.40" x2="345.60" y2="847.40" stroke="#1c1c1c" stroke-width="1.1"/>
<text x="337.80" y="852.90" font-size="15.50" text-anchor="end" fill="#1c1c1c" textLength="8.0" lengthAdjust="spacingAndGlyphs">0</text>
<line x1="341.40" y1="831.40" x2="345.60" y2="831.40" stroke="#1c1c1c" stroke-width="1.1"/>
<text x="337.80" y="836.90" font-size="15.50" text-anchor="end" fill="#1c1c1c" textLength="8.0" lengthAdjust="spacingAndGlyphs">1</text>
<line x1="341.40" y1="815.40" x2="345.60" y2="815.40" stroke="#1c1c1c" stroke-width="1.1"/>
<text x="337.80" y="820.90" font-size="15.50" text-anchor="end" fill="#1c1c1c" textLength="8.0" lengthAdjust="spacingAndGlyphs">2</text>
<line x1="341.40" y1="799.40" x2="345.60" y2="799.40" stroke="#1c1c1c" stroke-width="1.1"/>
<text x="337.80" y="804.90" font-size="15.50" text-anchor="end" fill="#1c1c1c" textLength="8.0" lengthAdjust="spacingAndGlyphs">3</text>
<path d="M361.90 847.40 C364.03 847.40 367.43 849.47 368.30 847.40 C369.17 845.33 367.53 839.57 367.10 835.00 C366.67 830.43 366.12 825.00 365.70 820.00 C365.28 815.00 364.80 808.00 364.60 805.00 C364.40 802.00 364.95 802.50 364.50 802.00 C364.05 801.50 362.77 802.00 361.90 802.00 C361.03 802.00 359.75 801.50 359.30 802.00 C358.85 802.50 359.40 802.00 359.20 805.00 C359.00 808.00 358.52 815.00 358.10 820.00 C357.68 825.00 357.13 830.43 356.70 835.00 C356.27 839.57 354.63 845.33 355.50 847.40 C356.37 849.47 359.77 847.40 361.90 847.40 Z" fill="#E2501C" stroke="#1a1a1a" stroke-width="0.7"/>
<line x1="356.90" y1="847.40" x2="366.90" y2="847.40" stroke="#333" stroke-width="1.5"/>
<line x1="374.40" y1="810.00" x2="374.40" y2="847.40" stroke="#222" stroke-width="0.8"/>
<line x1="369.40" y1="847.40" x2="379.40" y2="847.40" stroke="#333" stroke-width="1.8"/>
<line x1="387.20" y1="805.00" x2="387.20" y2="847.40" stroke="#222" stroke-width="0.8"/>
<line x1="382.20" y1="847.40" x2="392.20" y2="847.40" stroke="#333" stroke-width="1.8"/>
<path d="M399.80 847.40 C401.87 847.40 405.08 848.13 406.00 847.40 C406.92 846.67 405.75 844.57 405.30 843.00 C404.85 841.43 403.97 839.50 403.30 838.00 C402.63 836.50 401.67 836.17 401.30 834.00 C400.93 831.83 401.08 828.17 401.10 825.00 C401.12 821.83 401.42 818.33 401.40 815.00 C401.38 811.67 401.18 807.77 401.00 805.00 C400.82 802.23 400.58 799.50 400.30 798.40 C400.02 797.30 399.58 797.30 399.30 798.40 C399.02 799.50 398.78 802.23 398.60 805.00 C398.42 807.77 398.22 811.67 398.20 815.00 C398.18 818.33 398.48 821.83 398.50 825.00 C398.52 828.17 398.67 831.83 398.30 834.00 C397.93 836.17 396.97 836.50 396.30 838.00 C395.63 839.50 394.75 841.43 394.30 843.00 C393.85 844.57 392.68 846.67 393.60 847.40 C394.52 848.13 397.73 847.40 399.80 847.40 Z" fill="#DB2A8C" stroke="#1a1a1a" stroke-width="0.7"/>
<line x1="394.80" y1="847.40" x2="404.80" y2="847.40" stroke="#333" stroke-width="1.5"/>
<line x1="412.50" y1="820.00" x2="412.50" y2="847.40" stroke="#222" stroke-width="0.8"/>
<line x1="407.50" y1="847.40" x2="417.50" y2="847.40" stroke="#333" stroke-width="1.8"/>
<path d="M432.10 847.40 C433.60 847.40 435.93 848.30 436.60 847.40 C437.27 846.50 436.35 844.07 436.10 842.00 C435.85 839.93 435.27 837.33 435.10 835.00 C434.93 832.67 435.07 829.83 435.10 828.00 C435.13 826.17 434.93 826.17 435.30 824.00 C435.67 821.83 436.83 818.17 437.30 815.00 C437.77 811.83 438.13 807.83 438.10 805.00 C438.07 802.17 437.60 800.17 437.10 798.00 C436.60 795.83 435.85 793.50 435.10 792.00 C434.35 790.50 433.18 789.50 432.60 789.00 C432.02 788.50 432.18 788.50 431.60 789.00 C431.02 789.50 429.85 790.50 429.10 792.00 C428.35 793.50 427.60 795.83 427.10 798.00 C426.60 800.17 426.13 802.17 426.10 805.00 C426.07 807.83 426.43 811.83 426.90 815.00 C427.37 818.17 428.53 821.83 428.90 824.00 C429.27 826.17 429.07 826.17 429.10 828.00 C429.13 829.83 429.27 832.67 429.10 835.00 C428.93 837.33 428.35 839.93 428.10 842.00 C427.85 844.07 426.93 846.50 427.60 847.40 C428.27 848.30 430.60 847.40 432.10 847.40 Z" fill="#E2501C" stroke="#1a1a1a" stroke-width="0.7"/>
<line x1="427.10" y1="847.40" x2="437.10" y2="847.40" stroke="#333" stroke-width="1.5"/>
<line x1="444.10" y1="801.00" x2="444.10" y2="847.40" stroke="#222" stroke-width="0.8"/>
<line x1="439.10" y1="847.40" x2="449.10" y2="847.40" stroke="#333" stroke-width="1.8"/>
<line x1="456.90" y1="792.40" x2="456.90" y2="847.40" stroke="#222" stroke-width="0.8"/>
<line x1="451.90" y1="847.40" x2="461.90" y2="847.40" stroke="#333" stroke-width="1.8"/>
<path d="M469.60 847.40 C470.93 847.40 473.10 848.13 473.60 847.40 C474.10 846.67 473.12 844.57 472.60 843.00 C472.08 841.43 470.58 839.83 470.50 838.00 C470.42 836.17 471.42 834.17 472.10 832.00 C472.78 829.83 473.93 828.00 474.60 825.00 C475.27 822.00 476.10 817.33 476.10 814.00 C476.10 810.67 475.18 807.33 474.60 805.00 C474.02 802.67 473.35 800.93 472.60 800.00 C471.85 799.07 470.68 799.50 470.10 799.40 C469.52 799.30 469.68 799.30 469.10 799.40 C468.52 799.50 467.35 799.07 466.60 800.00 C465.85 800.93 465.18 802.67 464.60 805.00 C464.02 807.33 463.10 810.67 463.10 814.00 C463.10 817.33 463.93 822.00 464.60 825.00 C465.27 828.00 466.42 829.83 467.10 832.00 C467.78 834.17 468.78 836.17 468.70 838.00 C468.62 839.83 467.12 841.43 466.60 843.00 C466.08 844.57 465.10 846.67 465.60 847.40 C466.10 848.13 468.27 847.40 469.60 847.40 Z" fill="#DB2A8C" stroke="#1a1a1a" stroke-width="0.7"/>
<line x1="464.60" y1="847.40" x2="474.60" y2="847.40" stroke="#333" stroke-width="1.5"/>
<path d="M482.20 847.40 C484.20 847.40 487.17 848.63 488.20 847.40 C489.23 846.17 488.33 842.23 488.40 840.00 C488.47 837.77 488.72 836.50 488.60 834.00 C488.48 831.50 488.18 828.17 487.70 825.00 C487.22 821.83 486.28 817.83 485.70 815.00 C485.12 812.17 484.70 809.67 484.20 808.00 C483.70 806.33 483.12 805.50 482.70 805.00 C482.28 804.50 482.12 804.50 481.70 805.00 C481.28 805.50 480.70 806.33 480.20 808.00 C479.70 809.67 479.28 812.17 478.70 815.00 C478.12 817.83 477.18 821.83 476.70 825.00 C476.22 828.17 475.92 831.50 475.80 834.00 C475.68 836.50 475.93 837.77 476.00 840.00 C476.07 842.23 475.17 846.17 476.20 847.40 C477.23 848.63 480.20 847.40 482.20 847.40 Z" fill="#7B34E2" stroke="#1a1a1a" stroke-width="0.7"/>
<line x1="477.20" y1="847.40" x2="487.20" y2="847.40" stroke="#333" stroke-width="1.5"/>
<line x1="495.80" y1="847.40" x2="557.60" y2="847.40" stroke="#333" stroke-width="0.8"/>
<line x1="526.40" y1="827.00" x2="526.40" y2="847.40" stroke="#222" stroke-width="0.8"/>
<line x1="521.40" y1="847.40" x2="531.40" y2="847.40" stroke="#333" stroke-width="1.8"/>
<text x="721.10" y="774.50" font-size="25.50" text-anchor="middle" fill="#1c1c1c" font-style="italic" textLength="69.5" lengthAdjust="spacingAndGlyphs">Col3a1</text>
<line x1="606.80" y1="786.70" x2="606.80" y2="850.90" stroke="#1c1c1c" stroke-width="1.3"/>
<line x1="606.20" y1="850.20" x2="829.50" y2="850.20" stroke="#1c1c1c" stroke-width="1.3"/>
<line x1="602.60" y1="847.40" x2="606.80" y2="847.40" stroke="#1c1c1c" stroke-width="1.1"/>
<text x="599.00" y="852.90" font-size="15.50" text-anchor="end" fill="#1c1c1c" textLength="8.0" lengthAdjust="spacingAndGlyphs">0</text>
<line x1="602.60" y1="835.00" x2="606.80" y2="835.00" stroke="#1c1c1c" stroke-width="1.1"/>
<line x1="602.60" y1="822.60" x2="606.80" y2="822.60" stroke="#1c1c1c" stroke-width="1.1"/>
<text x="599.00" y="828.10" font-size="15.50" text-anchor="end" fill="#1c1c1c" textLength="8.0" lengthAdjust="spacingAndGlyphs">2</text>
<line x1="602.60" y1="810.30" x2="606.80" y2="810.30" stroke="#1c1c1c" stroke-width="1.1"/>
<line x1="602.60" y1="798.00" x2="606.80" y2="798.00" stroke="#1c1c1c" stroke-width="1.1"/>
<text x="599.00" y="803.50" font-size="15.50" text-anchor="end" fill="#1c1c1c" textLength="8.0" lengthAdjust="spacingAndGlyphs">4</text>
<path d="M623.10 847.40 C625.13 847.40 628.20 850.30 629.20 847.40 C630.20 844.50 629.12 836.23 629.10 830.00 C629.08 823.77 629.18 815.00 629.10 810.00 C629.02 805.00 628.85 802.25 628.60 800.00 C628.35 797.75 628.43 797.23 627.60 796.50 C626.77 795.77 624.43 795.75 623.60 795.60 C622.77 795.45 623.43 795.45 622.60 795.60 C621.77 795.75 619.43 795.77 618.60 796.50 C617.77 797.23 617.85 797.75 617.60 800.00 C617.35 802.25 617.18 805.00 617.10 810.00 C617.02 815.00 617.12 823.77 617.10 830.00 C617.08 836.23 616.00 844.50 617.00 847.40 C618.00 850.30 621.07 847.40 623.10 847.40 Z" fill="#E2501C" stroke="#1a1a1a" stroke-width="0.7"/>
<line x1="618.10" y1="847.40" x2="628.10" y2="847.40" stroke="#333" stroke-width="1.5"/>
<path d="M635.60 847.40 C637.73 847.40 641.08 848.63 642.00 847.40 C642.92 846.17 641.75 842.40 641.10 840.00 C640.45 837.60 638.43 835.00 638.10 833.00 C637.77 831.00 638.55 830.17 639.10 828.00 C639.65 825.83 640.98 823.00 641.40 820.00 C641.82 817.00 641.98 813.33 641.60 810.00 C641.22 806.67 639.85 802.50 639.10 800.00 C638.35 797.50 637.60 796.17 637.10 795.00 C636.60 793.83 636.43 793.33 636.10 793.00 C635.77 792.67 635.43 792.67 635.10 793.00 C634.77 793.33 634.60 793.83 634.10 795.00 C633.60 796.17 632.85 797.50 632.10 800.00 C631.35 802.50 629.98 806.67 629.60 810.00 C629.22 813.33 629.38 817.00 629.80 820.00 C630.22 823.00 631.55 825.83 632.10 828.00 C632.65 830.17 633.43 831.00 633.10 833.00 C632.77 835.00 630.75 837.60 630.10 840.00 C629.45 842.40 628.28 846.17 629.20 847.40 C630.12 848.63 633.47 847.40 635.60 847.40 Z" fill="#7CCB4E" stroke="#1a1a1a" stroke-width="0.7"/>
<line x1="630.60" y1="847.40" x2="640.60" y2="847.40" stroke="#333" stroke-width="1.5"/>
<path d="M648.40 847.40 C650.07 847.40 652.82 848.63 653.40 847.40 C653.98 846.17 652.23 842.07 651.90 840.00 C651.57 837.93 650.98 837.33 651.40 835.00 C651.82 832.67 653.87 829.33 654.40 826.00 C654.93 822.67 654.77 818.50 654.60 815.00 C654.43 811.50 654.02 808.00 653.40 805.00 C652.78 802.00 651.65 799.23 650.90 797.00 C650.15 794.77 649.40 792.50 648.90 791.60 C648.40 790.70 648.40 790.70 647.90 791.60 C647.40 792.50 646.65 794.77 645.90 797.00 C645.15 799.23 644.02 802.00 643.40 805.00 C642.78 808.00 642.37 811.50 642.20 815.00 C642.03 818.50 641.87 822.67 642.40 826.00 C642.93 829.33 644.98 832.67 645.40 835.00 C645.82 837.33 645.23 837.93 644.90 840.00 C644.57 842.07 642.82 846.17 643.40 847.40 C643.98 848.63 646.73 847.40 648.40 847.40 Z" fill="#F6D43A" stroke="#1a1a1a" stroke-width="0.7"/>
<line x1="643.40" y1="847.40" x2="653.40" y2="847.40" stroke="#333" stroke-width="1.5"/>
<path d="M661.00 847.40 C663.10 847.40 666.38 848.30 667.30 847.40 C668.22 846.50 667.05 844.07 666.50 842.00 C665.95 839.93 664.62 837.67 664.00 835.00 C663.38 832.33 662.97 830.17 662.80 826.00 C662.63 821.83 662.97 815.17 663.00 810.00 C663.03 804.83 663.25 798.50 663.00 795.00 C662.75 791.50 661.92 790.00 661.50 789.00 C661.08 788.00 660.92 788.00 660.50 789.00 C660.08 790.00 659.25 791.50 659.00 795.00 C658.75 798.50 658.97 804.83 659.00 810.00 C659.03 815.17 659.37 821.83 659.20 826.00 C659.03 830.17 658.62 832.33 658.00 835.00 C657.38 837.67 656.05 839.93 655.50 842.00 C654.95 844.07 653.78 846.50 654.70 847.40 C655.62 848.30 658.90 847.40 661.00 847.40 Z" fill="#DB2A8C" stroke="#1a1a1a" stroke-width="0.7"/>
<line x1="656.00" y1="847.40" x2="666.00" y2="847.40" stroke="#333" stroke-width="1.5"/>
<path d="M674.20 837.00 C674.53 835.83 674.78 832.00 675.20 830.00 C675.62 828.00 675.95 827.50 676.70 825.00 C677.45 822.50 679.12 817.83 679.70 815.00 C680.28 812.17 680.37 810.50 680.20 808.00 C680.03 805.50 679.45 802.33 678.70 800.00 C677.95 797.67 676.45 795.33 675.70 794.00 C674.95 792.67 674.62 792.33 674.20 792.00 C673.78 791.67 673.62 791.67 673.20 792.00 C672.78 792.33 672.45 792.67 671.70 794.00 C670.95 795.33 669.45 797.67 668.70 800.00 C667.95 802.33 667.37 805.50 667.20 808.00 C667.03 810.50 667.12 812.17 667.70 815.00 C668.28 817.83 669.95 822.50 670.70 825.00 C671.45 827.50 671.78 828.00 672.20 830.00 C672.62 832.00 672.87 835.83 673.20 837.00 C673.53 838.17 673.87 838.17 674.20 837.00 Z" fill="#7B34E2" stroke="#1a1a1a" stroke-width="0.7"/>
<line x1="693.30" y1="814.00" x2="693.30" y2="847.40" stroke="#222" stroke-width="0.8"/>
<line x1="688.30" y1="847.40" x2="698.30" y2="847.40" stroke="#333" stroke-width="1.8"/>
<line x1="705.30" y1="804.00" x2="705.30" y2="847.40" stroke="#222" stroke-width="0.8"/>
<line x1="700.30" y1="847.40" x2="710.30" y2="847.40" stroke="#333" stroke-width="1.8"/>
<line x1="718.10" y1="820.00" x2="718.10" y2="847.40" stroke="#222" stroke-width="0.8"/>
<line x1="713.10" y1="847.40" x2="723.10" y2="847.40" stroke="#333" stroke-width="1.8"/>
<line x1="730.80" y1="823.00" x2="730.80" y2="847.40" stroke="#222" stroke-width="0.8"/>
<line x1="725.80" y1="847.40" x2="735.80" y2="847.40" stroke="#333" stroke-width="1.8"/>
<path d="M743.40 847.40 C745.50 847.40 748.87 848.30 749.70 847.40 C750.53 846.50 748.95 843.57 748.40 842.00 C747.85 840.43 747.03 839.33 746.40 838.00 C745.77 836.67 744.88 837.00 744.60 834.00 C744.32 831.00 744.67 824.00 744.70 820.00 C744.73 816.00 744.93 812.93 744.80 810.00 C744.67 807.07 744.22 803.67 743.90 802.40 C743.58 801.13 743.22 801.13 742.90 802.40 C742.58 803.67 742.13 807.07 742.00 810.00 C741.87 812.93 742.07 816.00 742.10 820.00 C742.13 824.00 742.48 831.00 742.20 834.00 C741.92 837.00 741.03 836.67 740.40 838.00 C739.77 839.33 738.95 840.43 738.40 842.00 C737.85 843.57 736.27 846.50 737.10 847.40 C737.93 848.30 741.30 847.40 743.40 847.40 Z" fill="#7B34E2" stroke="#1a1a1a" stroke-width="0.7"/>
<line x1="738.40" y1="847.40" x2="748.40" y2="847.40" stroke="#333" stroke-width="1.5"/>
<path d="M788.40 838.40 C789.20 838.00 789.40 837.40 791.60 836.00 C793.80 834.60 798.27 831.83 801.60 830.00 C804.93 828.17 808.68 826.83 811.60 825.00 C814.52 823.17 818.93 820.83 819.10 819.00 C819.27 817.17 815.85 815.83 812.60 814.00 C809.35 812.17 803.10 809.58 799.60 808.00 C796.10 806.42 793.52 805.23 791.60 804.50 C789.68 803.77 788.85 803.75 788.10 803.60 C787.35 803.45 787.85 803.45 787.10 803.60 C786.35 803.75 785.52 803.77 783.60 804.50 C781.68 805.23 779.10 806.42 775.60 808.00 C772.10 809.58 765.85 812.17 762.60 814.00 C759.35 815.83 755.93 817.17 756.10 819.00 C756.27 820.83 760.68 823.17 763.60 825.00 C766.52 826.83 770.27 828.17 773.60 830.00 C776.93 831.83 781.40 834.60 783.60 836.00 C785.80 837.40 786.00 838.00 786.80 838.40 C787.60 838.80 787.60 838.80 788.40 838.40 Z" fill="#7B34E2" stroke="#1a1a1a" stroke-width="0.7"/>
<text x="982.30" y="774.50" font-size="25.50" text-anchor="middle" fill="#1c1c1c" font-style="italic" textLength="69.5" lengthAdjust="spacingAndGlyphs">Col1a1</text>
<line x1="868.00" y1="786.70" x2="868.00" y2="850.90" stroke="#1c1c1c" stroke-width="1.3"/>
<line x1="867.40" y1="850.20" x2="1090.70" y2="850.20" stroke="#1c1c1c" stroke-width="1.3"/>
<line x1="863.80" y1="847.40" x2="868.00" y2="847.40" stroke="#1c1c1c" stroke-width="1.1"/>
<text x="860.20" y="852.90" font-size="15.50" text-anchor="end" fill="#1c1c1c" textLength="8.0" lengthAdjust="spacingAndGlyphs">0</text>
<line x1="863.80" y1="834.40" x2="868.00" y2="834.40" stroke="#1c1c1c" stroke-width="1.1"/>
<line x1="863.80" y1="821.40" x2="868.00" y2="821.40" stroke="#1c1c1c" stroke-width="1.1"/>
<text x="860.20" y="826.90" font-size="15.50" text-anchor="end" fill="#1c1c1c" textLength="8.0" lengthAdjust="spacingAndGlyphs">2</text>
<line x1="863.80" y1="808.40" x2="868.00" y2="808.40" stroke="#1c1c1c" stroke-width="1.1"/>
<line x1="863.80" y1="795.40" x2="868.00" y2="795.40" stroke="#1c1c1c" stroke-width="1.1"/>
<text x="860.20" y="800.90" font-size="15.50" text-anchor="end" fill="#1c1c1c" textLength="8.0" lengthAdjust="spacingAndGlyphs">4</text>
<path d="M885.80 847.40 C886.30 844.50 885.75 834.57 885.80 830.00 C885.85 825.43 885.77 822.50 886.10 820.00 C886.43 817.50 887.27 817.00 887.80 815.00 C888.33 813.00 888.88 810.50 889.30 808.00 C889.72 805.50 890.10 802.25 890.30 800.00 C890.50 797.75 891.42 795.50 890.50 794.50 C889.58 793.50 885.92 794.08 884.80 794.00 C883.68 793.92 884.92 793.92 883.80 794.00 C882.68 794.08 879.02 793.50 878.10 794.50 C877.18 795.50 878.10 797.75 878.30 800.00 C878.50 802.25 878.88 805.50 879.30 808.00 C879.72 810.50 880.27 813.00 880.80 815.00 C881.33 817.00 882.17 817.50 882.50 820.00 C882.83 822.50 882.75 825.43 882.80 830.00 C882.85 834.57 882.30 844.50 882.80 847.40 C883.30 850.30 885.30 850.30 885.80 847.40 Z" fill="#E2501C" stroke="#1a1a1a" stroke-width="0.7"/>
<line x1="879.30" y1="847.40" x2="889.30" y2="847.40" stroke="#333" stroke-width="1.5"/>
<path d="M896.80 847.40 C898.90 847.40 902.18 848.13 903.10 847.40 C904.02 846.67 902.77 844.73 902.30 843.00 C901.83 841.27 901.02 839.17 900.30 837.00 C899.58 834.83 898.33 832.00 898.00 830.00 C897.67 828.00 898.08 827.00 898.30 825.00 C898.52 823.00 899.05 820.00 899.30 818.00 C899.55 816.00 900.13 814.17 899.80 813.00 C899.47 811.83 897.88 811.33 897.30 811.00 C896.72 810.67 896.88 810.67 896.30 811.00 C895.72 811.33 894.13 811.83 893.80 813.00 C893.47 814.17 894.05 816.00 894.30 818.00 C894.55 820.00 895.08 823.00 895.30 825.00 C895.52 827.00 895.93 828.00 895.60 830.00 C895.27 832.00 894.02 834.83 893.30 837.00 C892.58 839.17 891.77 841.27 891.30 843.00 C890.83 844.73 889.58 846.67 890.50 847.40 C891.42 848.13 894.70 847.40 896.80 847.40 Z" fill="#7CCB4E" stroke="#1a1a1a" stroke-width="0.7"/>
<line x1="891.80" y1="847.40" x2="901.80" y2="847.40" stroke="#333" stroke-width="1.5"/>
<path d="M909.60 847.40 C910.93 847.40 912.85 848.63 913.60 847.40 C914.35 846.17 913.85 842.90 914.10 840.00 C914.35 837.10 914.77 834.00 915.10 830.00 C915.43 826.00 916.18 820.17 916.10 816.00 C916.02 811.83 915.27 808.50 914.60 805.00 C913.93 801.50 912.85 797.67 912.10 795.00 C911.35 792.33 910.60 790.00 910.10 789.00 C909.60 788.00 909.60 788.00 909.10 789.00 C908.60 790.00 907.85 792.33 907.10 795.00 C906.35 797.67 905.27 801.50 904.60 805.00 C903.93 808.50 903.18 811.83 903.10 816.00 C903.02 820.17 903.77 826.00 904.10 830.00 C904.43 834.00 904.85 837.10 905.10 840.00 C905.35 842.90 904.85 846.17 905.60 847.40 C906.35 848.63 908.27 847.40 909.60 847.40 Z" fill="#F6D43A" stroke="#1a1a1a" stroke-width="0.7"/>
<line x1="904.60" y1="847.40" x2="914.60" y2="847.40" stroke="#333" stroke-width="1.5"/>
<path d="M922.20 847.40 C924.27 847.40 927.57 848.30 928.40 847.40 C929.23 846.50 927.73 844.07 927.20 842.00 C926.67 839.93 925.70 837.33 925.20 835.00 C924.70 832.67 924.37 831.33 924.20 828.00 C924.03 824.67 924.20 819.67 924.20 815.00 C924.20 810.33 924.45 804.00 924.20 800.00 C923.95 796.00 923.12 792.50 922.70 791.00 C922.28 789.50 922.12 789.50 921.70 791.00 C921.28 792.50 920.45 796.00 920.20 800.00 C919.95 804.00 920.20 810.33 920.20 815.00 C920.20 819.67 920.37 824.67 920.20 828.00 C920.03 831.33 919.70 832.67 919.20 835.00 C918.70 837.33 917.73 839.93 917.20 842.00 C916.67 844.07 915.17 846.50 916.00 847.40 C916.83 848.30 920.13 847.40 922.20 847.40 Z" fill="#DB2A8C" stroke="#1a1a1a" stroke-width="0.7"/>
<line x1="917.20" y1="847.40" x2="927.20" y2="847.40" stroke="#333" stroke-width="1.5"/>
<path d="M935.90 847.40 C936.27 846.17 936.02 841.90 936.10 840.00 C936.18 838.10 936.10 837.67 936.40 836.00 C936.70 834.33 937.15 832.33 937.90 830.00 C938.65 827.67 940.32 824.50 940.90 822.00 C941.48 819.50 941.57 817.33 941.40 815.00 C941.23 812.67 940.65 810.17 939.90 808.00 C939.15 805.83 937.65 803.17 936.90 802.00 C936.15 800.83 935.82 801.17 935.40 801.00 C934.98 800.83 934.82 800.83 934.40 801.00 C933.98 801.17 933.65 800.83 932.90 802.00 C932.15 803.17 930.65 805.83 929.90 808.00 C929.15 810.17 928.57 812.67 928.40 815.00 C928.23 817.33 928.32 819.50 928.90 822.00 C929.48 824.50 931.15 827.67 931.90 830.00 C932.65 832.33 933.10 834.33 933.40 836.00 C933.70 837.67 933.62 838.10 933.70 840.00 C933.78 841.90 933.53 846.17 933.90 847.40 C934.27 848.63 935.53 848.63 935.90 847.40 Z" fill="#7B34E2" stroke="#1a1a1a" stroke-width="0.7"/>
<line x1="929.90" y1="847.40" x2="939.90" y2="847.40" stroke="#333" stroke-width="1.5"/>
<line x1="949.50" y1="847.40" x2="959.50" y2="847.40" stroke="#333" stroke-width="1.8"/>
<line x1="966.50" y1="823.00" x2="966.50" y2="847.40" stroke="#222" stroke-width="0.8"/>
<line x1="961.50" y1="847.40" x2="971.50" y2="847.40" stroke="#333" stroke-width="1.8"/>
<line x1="974.30" y1="847.40" x2="984.30" y2="847.40" stroke="#333" stroke-width="1.8"/>
<line x1="987.00" y1="847.40" x2="997.00" y2="847.40" stroke="#333" stroke-width="1.8"/>
<path d="M1004.60 847.40 C1006.67 847.40 1009.97 848.30 1010.80 847.40 C1011.63 846.50 1010.13 843.57 1009.60 842.00 C1009.07 840.43 1008.23 839.33 1007.60 838.00 C1006.97 836.67 1006.10 837.00 1005.80 834.00 C1005.50 831.00 1005.92 824.83 1005.80 820.00 C1005.68 815.17 1005.38 807.50 1005.10 805.00 C1004.82 802.50 1004.38 802.50 1004.10 805.00 C1003.82 807.50 1003.52 815.17 1003.40 820.00 C1003.28 824.83 1003.70 831.00 1003.40 834.00 C1003.10 837.00 1002.23 836.67 1001.60 838.00 C1000.97 839.33 1000.13 840.43 999.60 842.00 C999.07 843.57 997.57 846.50 998.40 847.40 C999.23 848.30 1002.53 847.40 1004.60 847.40 Z" fill="#7B34E2" stroke="#1a1a1a" stroke-width="0.7"/>
<line x1="999.60" y1="847.40" x2="1009.60" y2="847.40" stroke="#333" stroke-width="1.5"/>
<path d="M1048.80 847.40 C1051.30 847.40 1055.30 848.13 1056.30 847.40 C1057.30 846.67 1054.97 844.23 1054.80 843.00 C1054.63 841.77 1053.80 841.33 1055.30 840.00 C1056.80 838.67 1060.55 836.67 1063.80 835.00 C1067.05 833.33 1072.05 831.50 1074.80 830.00 C1077.55 828.50 1080.13 827.67 1080.30 826.00 C1080.47 824.33 1078.55 821.83 1075.80 820.00 C1073.05 818.17 1067.13 816.50 1063.80 815.00 C1060.47 813.50 1057.30 811.90 1055.80 811.00 C1054.30 810.10 1055.97 809.83 1054.80 809.60 C1053.63 809.37 1050.80 809.60 1048.80 809.60 C1046.80 809.60 1043.97 809.37 1042.80 809.60 C1041.63 809.83 1043.30 810.10 1041.80 811.00 C1040.30 811.90 1037.13 813.50 1033.80 815.00 C1030.47 816.50 1024.55 818.17 1021.80 820.00 C1019.05 821.83 1017.13 824.33 1017.30 826.00 C1017.47 827.67 1020.05 828.50 1022.80 830.00 C1025.55 831.50 1030.55 833.33 1033.80 835.00 C1037.05 836.67 1040.80 838.67 1042.30 840.00 C1043.80 841.33 1042.97 841.77 1042.80 843.00 C1042.63 844.23 1040.30 846.67 1041.30 847.40 C1042.30 848.13 1046.30 847.40 1048.80 847.40 Z" fill="#7B34E2" stroke="#1a1a1a" stroke-width="0.7"/>
<line x1="1043.80" y1="847.40" x2="1053.80" y2="847.40" stroke="#333" stroke-width="1.5"/>
<text x="198.70" y="891.30" font-size="25.50" text-anchor="middle" fill="#1c1c1c" font-style="italic" textLength="52.4" lengthAdjust="spacingAndGlyphs">Procr</text>
<line x1="84.40" y1="904.00" x2="84.40" y2="967.90" stroke="#1c1c1c" stroke-width="1.3"/>
<line x1="83.80" y1="967.20" x2="307.10" y2="967.20" stroke="#1c1c1c" stroke-width="1.3"/>
<line x1="80.20" y1="964.60" x2="84.40" y2="964.60" stroke="#1c1c1c" stroke-width="1.1"/>
<text x="76.60" y="970.10" font-size="15.50" text-anchor="end" fill="#1c1c1c" textLength="8.0" lengthAdjust="spacingAndGlyphs">0</text>
<line x1="80.20" y1="951.90" x2="84.40" y2="951.90" stroke="#1c1c1c" stroke-width="1.1"/>
<line x1="80.20" y1="939.30" x2="84.40" y2="939.30" stroke="#1c1c1c" stroke-width="1.1"/>
<text x="76.60" y="944.80" font-size="15.50" text-anchor="end" fill="#1c1c1c" textLength="8.0" lengthAdjust="spacingAndGlyphs">2</text>
<line x1="80.20" y1="926.50" x2="84.40" y2="926.50" stroke="#1c1c1c" stroke-width="1.1"/>
<line x1="80.20" y1="913.50" x2="84.40" y2="913.50" stroke="#1c1c1c" stroke-width="1.1"/>
<text x="76.60" y="919.00" font-size="15.50" text-anchor="end" fill="#1c1c1c" textLength="8.0" lengthAdjust="spacingAndGlyphs">4</text>
<path d="M100.70 964.60 C102.23 964.60 104.63 965.70 105.30 964.60 C105.97 963.50 105.22 960.60 104.70 958.00 C104.18 955.40 102.12 951.67 102.20 949.00 C102.28 946.33 104.35 944.33 105.20 942.00 C106.05 939.67 107.30 937.83 107.30 935.00 C107.30 932.17 105.97 927.83 105.20 925.00 C104.43 922.17 103.15 919.33 102.70 918.00 C102.25 916.67 103.13 917.17 102.50 917.00 C101.87 916.83 99.53 916.83 98.90 917.00 C98.27 917.17 99.15 916.67 98.70 918.00 C98.25 919.33 96.97 922.17 96.20 925.00 C95.43 927.83 94.10 932.17 94.10 935.00 C94.10 937.83 95.35 939.67 96.20 942.00 C97.05 944.33 99.12 946.33 99.20 949.00 C99.28 951.67 97.22 955.40 96.70 958.00 C96.18 960.60 95.43 963.50 96.10 964.60 C96.77 965.70 99.17 964.60 100.70 964.60 Z" fill="#E2501C" stroke="#1a1a1a" stroke-width="0.7"/>
<line x1="95.70" y1="964.60" x2="105.70" y2="964.60" stroke="#333" stroke-width="1.5"/>
<line x1="113.20" y1="929.40" x2="113.20" y2="964.60" stroke="#222" stroke-width="0.8"/>
<line x1="108.20" y1="964.60" x2="118.20" y2="964.60" stroke="#333" stroke-width="1.8"/>
<path d="M126.00 964.60 C128.23 964.60 131.78 965.70 132.70 964.60 C133.62 963.50 132.12 960.43 131.50 958.00 C130.88 955.57 129.67 953.00 129.00 950.00 C128.33 947.00 127.87 944.17 127.50 940.00 C127.13 935.83 126.97 930.57 126.80 925.00 C126.63 919.43 126.72 909.67 126.50 906.60 C126.28 903.53 125.72 903.53 125.50 906.60 C125.28 909.67 125.37 919.43 125.20 925.00 C125.03 930.57 124.87 935.83 124.50 940.00 C124.13 944.17 123.67 947.00 123.00 950.00 C122.33 953.00 121.12 955.57 120.50 958.00 C119.88 960.43 118.38 963.50 119.30 964.60 C120.22 965.70 123.77 964.60 126.00 964.60 Z" fill="#F6D43A" stroke="#1a1a1a" stroke-width="0.7"/>
<line x1="121.00" y1="964.60" x2="131.00" y2="964.60" stroke="#333" stroke-width="1.5"/>
<line x1="138.60" y1="942.60" x2="138.60" y2="964.60" stroke="#222" stroke-width="0.8"/>
<line x1="133.60" y1="964.60" x2="143.60" y2="964.60" stroke="#333" stroke-width="1.8"/>
<path d="M151.30 964.60 C153.23 964.60 156.27 965.20 157.10 964.60 C157.93 964.00 156.85 962.10 156.30 961.00 C155.75 959.90 154.55 958.67 153.80 958.00 C153.05 957.33 152.30 957.17 151.80 957.00 C151.30 956.83 151.30 956.83 150.80 957.00 C150.30 957.17 149.55 957.33 148.80 958.00 C148.05 958.67 146.85 959.90 146.30 961.00 C145.75 962.10 144.67 964.00 145.50 964.60 C146.33 965.20 149.37 964.60 151.30 964.60 Z" fill="#7B34E2" stroke="#1a1a1a" stroke-width="0.7"/>
<line x1="146.30" y1="964.60" x2="156.30" y2="964.60" stroke="#333" stroke-width="1.5"/>
<path d="M170.90 964.60 C173.00 964.60 176.45 965.70 177.20 964.60 C177.95 963.50 176.25 960.27 175.40 958.00 C174.55 955.73 172.43 953.17 172.10 951.00 C171.77 948.83 172.67 947.67 173.40 945.00 C174.13 942.33 176.08 938.33 176.50 935.00 C176.92 931.67 176.25 927.83 175.90 925.00 C175.55 922.17 174.65 919.27 174.40 918.00 C174.15 916.73 174.98 917.50 174.40 917.40 C173.82 917.30 172.07 917.40 170.90 917.40 C169.73 917.40 167.98 917.30 167.40 917.40 C166.82 917.50 167.65 916.73 167.40 918.00 C167.15 919.27 166.25 922.17 165.90 925.00 C165.55 927.83 164.88 931.67 165.30 935.00 C165.72 938.33 167.67 942.33 168.40 945.00 C169.13 947.67 170.03 948.83 169.70 951.00 C169.37 953.17 167.25 955.73 166.40 958.00 C165.55 960.27 163.85 963.50 164.60 964.60 C165.35 965.70 168.80 964.60 170.90 964.60 Z" fill="#E2501C" stroke="#1a1a1a" stroke-width="0.7"/>
<line x1="165.90" y1="964.60" x2="175.90" y2="964.60" stroke="#333" stroke-width="1.5"/>
<line x1="177.90" y1="964.60" x2="187.90" y2="964.60" stroke="#333" stroke-width="1.8"/>
<line x1="190.70" y1="964.60" x2="200.70" y2="964.60" stroke="#333" stroke-width="1.8"/>
<line x1="208.40" y1="935.00" x2="208.40" y2="964.60" stroke="#222" stroke-width="0.8"/>
<line x1="203.40" y1="964.60" x2="213.40" y2="964.60" stroke="#333" stroke-width="1.8"/>
<path d="M221.00 964.60 C223.20 964.60 226.77 965.70 227.60 964.60 C228.43 963.50 226.35 960.43 226.00 958.00 C225.65 955.57 225.67 952.17 225.50 950.00 C225.33 947.83 225.50 946.17 225.00 945.00 C224.50 943.83 223.42 943.33 222.50 943.00 C221.58 942.67 220.42 942.67 219.50 943.00 C218.58 943.33 217.50 943.83 217.00 945.00 C216.50 946.17 216.67 947.83 216.50 950.00 C216.33 952.17 216.35 955.57 216.00 958.00 C215.65 960.43 213.57 963.50 214.40 964.60 C215.23 965.70 218.80 964.60 221.00 964.60 Z" fill="#7B34E2" stroke="#1a1a1a" stroke-width="0.7"/>
<line x1="216.00" y1="964.60" x2="226.00" y2="964.60" stroke="#333" stroke-width="1.5"/>
<path d="M265.20 964.60 C275.70 964.60 293.03 965.03 296.70 964.60 C300.37 964.17 290.78 962.93 287.20 962.00 C283.62 961.07 275.87 959.83 275.20 959.00 C274.53 958.17 280.53 958.00 283.20 957.00 C285.87 956.00 290.87 954.50 291.20 953.00 C291.53 951.50 287.87 949.67 285.20 948.00 C282.53 946.33 277.87 944.42 275.20 943.00 C272.53 941.58 270.78 940.23 269.20 939.50 C267.62 938.77 266.45 938.75 265.70 938.60 C264.95 938.45 265.45 938.45 264.70 938.60 C263.95 938.75 262.78 938.77 261.20 939.50 C259.62 940.23 257.87 941.58 255.20 943.00 C252.53 944.42 247.87 946.33 245.20 948.00 C242.53 949.67 238.87 951.50 239.20 953.00 C239.53 954.50 244.53 956.00 247.20 957.00 C249.87 958.00 255.87 958.17 255.20 959.00 C254.53 959.83 246.78 961.07 243.20 962.00 C239.62 962.93 230.03 964.17 233.70 964.60 C237.37 965.03 254.70 964.60 265.20 964.60 Z" fill="#7B34E2" stroke="#1a1a1a" stroke-width="0.7"/>
<line x1="260.20" y1="964.60" x2="270.20" y2="964.60" stroke="#333" stroke-width="1.5"/>
<line x1="151.30" y1="929.00" x2="151.30" y2="958.60" stroke="#222" stroke-width="0.8"/>
<text x="459.90" y="891.30" font-size="25.50" text-anchor="middle" fill="#1c1c1c" font-style="italic" textLength="63.4" lengthAdjust="spacingAndGlyphs">Rspo1</text>
<line x1="345.60" y1="904.00" x2="345.60" y2="967.90" stroke="#1c1c1c" stroke-width="1.3"/>
<line x1="345.00" y1="967.20" x2="568.30" y2="967.20" stroke="#1c1c1c" stroke-width="1.3"/>
<line x1="341.40" y1="964.60" x2="345.60" y2="964.60" stroke="#1c1c1c" stroke-width="1.1"/>
<text x="337.80" y="970.10" font-size="15.50" text-anchor="end" fill="#1c1c1c" textLength="8.0" lengthAdjust="spacingAndGlyphs">0</text>
<line x1="341.40" y1="947.00" x2="345.60" y2="947.00" stroke="#1c1c1c" stroke-width="1.1"/>
<text x="337.80" y="952.50" font-size="15.50" text-anchor="end" fill="#1c1c1c" textLength="8.0" lengthAdjust="spacingAndGlyphs">1</text>
<line x1="341.40" y1="929.40" x2="345.60" y2="929.40" stroke="#1c1c1c" stroke-width="1.1"/>
<text x="337.80" y="934.90" font-size="15.50" text-anchor="end" fill="#1c1c1c" textLength="8.0" lengthAdjust="spacingAndGlyphs">2</text>
<line x1="341.40" y1="912.00" x2="345.60" y2="912.00" stroke="#1c1c1c" stroke-width="1.1"/>
<text x="337.80" y="917.50" font-size="15.50" text-anchor="end" fill="#1c1c1c" textLength="8.0" lengthAdjust="spacingAndGlyphs">3</text>
<line x1="356.90" y1="964.60" x2="366.90" y2="964.60" stroke="#333" stroke-width="1.8"/>
<line x1="374.40" y1="914.60" x2="374.40" y2="964.60" stroke="#222" stroke-width="0.8"/>
<line x1="369.40" y1="964.60" x2="379.40" y2="964.60" stroke="#333" stroke-width="1.8"/>
<line x1="382.20" y1="964.60" x2="392.20" y2="964.60" stroke="#333" stroke-width="1.8"/>
<line x1="394.80" y1="964.60" x2="404.80" y2="964.60" stroke="#333" stroke-width="1.8"/>
<path d="M412.50 964.60 C414.57 964.60 418.03 965.37 418.70 964.60 C419.37 963.83 417.28 961.43 416.50 960.00 C415.72 958.57 414.58 956.83 414.00 956.00 C413.42 955.17 413.33 955.17 413.00 955.00 C412.67 954.83 412.33 954.83 412.00 955.00 C411.67 955.17 411.58 955.17 411.00 956.00 C410.42 956.83 409.28 958.57 408.50 960.00 C407.72 961.43 405.63 963.83 406.30 964.60 C406.97 965.37 410.43 964.60 412.50 964.60 Z" fill="#7B34E2" stroke="#1a1a1a" stroke-width="0.7"/>
<line x1="407.50" y1="964.60" x2="417.50" y2="964.60" stroke="#333" stroke-width="1.5"/>
<line x1="427.10" y1="964.60" x2="437.10" y2="964.60" stroke="#333" stroke-width="1.8"/>
<line x1="439.10" y1="964.60" x2="449.10" y2="964.60" stroke="#333" stroke-width="1.8"/>
<line x1="451.90" y1="964.60" x2="461.90" y2="964.60" stroke="#333" stroke-width="1.8"/>
<line x1="464.60" y1="964.60" x2="474.60" y2="964.60" stroke="#333" stroke-width="1.8"/>
<line x1="482.20" y1="945.00" x2="482.20" y2="964.60" stroke="#222" stroke-width="0.8"/>
<line x1="477.20" y1="964.60" x2="487.20" y2="964.60" stroke="#333" stroke-width="1.8"/>
<path d="M527.90 947.40 C528.48 946.50 528.23 943.40 528.40 942.00 C528.57 940.60 528.23 940.17 528.90 939.00 C529.57 937.83 530.48 936.50 532.40 935.00 C534.32 933.50 537.07 931.50 540.40 930.00 C543.73 928.50 549.57 927.17 552.40 926.00 C555.23 924.83 557.73 924.33 557.40 923.00 C557.07 921.67 553.40 919.83 550.40 918.00 C547.40 916.17 542.57 913.67 539.40 912.00 C536.23 910.33 533.15 908.90 531.40 908.00 C529.65 907.10 530.15 906.83 528.90 906.60 C527.65 906.37 525.15 906.37 523.90 906.60 C522.65 906.83 523.15 907.10 521.40 908.00 C519.65 908.90 516.57 910.33 513.40 912.00 C510.23 913.67 505.40 916.17 502.40 918.00 C499.40 919.83 495.73 921.67 495.40 923.00 C495.07 924.33 497.57 924.83 500.40 926.00 C503.23 927.17 509.07 928.50 512.40 930.00 C515.73 931.50 518.48 933.50 520.40 935.00 C522.32 936.50 523.23 937.83 523.90 939.00 C524.57 940.17 524.23 940.60 524.40 942.00 C524.57 943.40 524.32 946.50 524.90 947.40 C525.48 948.30 527.32 948.30 527.90 947.40 Z" fill="#7B34E2" stroke="#1a1a1a" stroke-width="0.7"/>
<line x1="412.50" y1="914.60" x2="412.50" y2="958.60" stroke="#222" stroke-width="0.8"/>
<text x="721.10" y="891.30" font-size="25.50" text-anchor="middle" fill="#1c1c1c" font-style="italic" textLength="63.4" lengthAdjust="spacingAndGlyphs">Upk3b</text>
<line x1="606.80" y1="904.00" x2="606.80" y2="967.90" stroke="#1c1c1c" stroke-width="1.3"/>
<line x1="606.20" y1="967.20" x2="829.50" y2="967.20" stroke="#1c1c1c" stroke-width="1.3"/>
<line x1="602.60" y1="964.60" x2="606.80" y2="964.60" stroke="#1c1c1c" stroke-width="1.1"/>
<text x="599.00" y="970.10" font-size="15.50" text-anchor="end" fill="#1c1c1c" textLength="8.0" lengthAdjust="spacingAndGlyphs">0</text>
<line x1="602.60" y1="949.40" x2="606.80" y2="949.40" stroke="#1c1c1c" stroke-width="1.1"/>
<text x="599.00" y="954.90" font-size="15.50" text-anchor="end" fill="#1c1c1c" textLength="8.0" lengthAdjust="spacingAndGlyphs">1</text>
<line x1="602.60" y1="934.20" x2="606.80" y2="934.20" stroke="#1c1c1c" stroke-width="1.1"/>
<text x="599.00" y="939.70" font-size="15.50" text-anchor="end" fill="#1c1c1c" textLength="8.0" lengthAdjust="spacingAndGlyphs">2</text>
<line x1="602.60" y1="919.00" x2="606.80" y2="919.00" stroke="#1c1c1c" stroke-width="1.1"/>
<text x="599.00" y="924.50" font-size="15.50" text-anchor="end" fill="#1c1c1c" textLength="8.0" lengthAdjust="spacingAndGlyphs">3</text>
<line x1="618.10" y1="964.60" x2="628.10" y2="964.60" stroke="#333" stroke-width="1.8"/>
<line x1="630.60" y1="964.60" x2="640.60" y2="964.60" stroke="#333" stroke-width="1.8"/>
<line x1="643.40" y1="964.60" x2="653.40" y2="964.60" stroke="#333" stroke-width="1.8"/>
<line x1="656.00" y1="964.60" x2="666.00" y2="964.60" stroke="#333" stroke-width="1.8"/>
<line x1="673.70" y1="907.40" x2="673.70" y2="964.60" stroke="#222" stroke-width="0.8"/>
<line x1="668.70" y1="964.60" x2="678.70" y2="964.60" stroke="#333" stroke-width="1.8"/>
<line x1="688.30" y1="964.60" x2="698.30" y2="964.60" stroke="#333" stroke-width="1.8"/>
<line x1="700.30" y1="964.60" x2="710.30" y2="964.60" stroke="#333" stroke-width="1.8"/>
<line x1="713.10" y1="964.60" x2="723.10" y2="964.60" stroke="#333" stroke-width="1.8"/>
<line x1="725.80" y1="964.60" x2="735.80" y2="964.60" stroke="#333" stroke-width="1.8"/>
<line x1="738.40" y1="964.60" x2="748.40" y2="964.60" stroke="#333" stroke-width="1.8"/>
<path d="M788.10 936.00 C788.43 935.50 788.77 933.83 789.10 933.00 C789.43 932.17 789.35 932.00 790.10 931.00 C790.85 930.00 791.35 928.50 793.60 927.00 C795.85 925.50 799.93 923.50 803.60 922.00 C807.27 920.50 813.02 919.00 815.60 918.00 C818.18 917.00 820.10 917.00 819.10 916.00 C818.10 915.00 812.85 913.17 809.60 912.00 C806.35 910.83 802.60 909.83 799.60 909.00 C796.60 908.17 793.43 907.40 791.60 907.00 C789.77 906.60 789.43 906.67 788.60 906.60 C787.77 906.53 787.43 906.53 786.60 906.60 C785.77 906.67 785.43 906.60 783.60 907.00 C781.77 907.40 778.60 908.17 775.60 909.00 C772.60 909.83 768.85 910.83 765.60 912.00 C762.35 913.17 757.10 915.00 756.10 916.00 C755.10 917.00 757.02 917.00 759.60 918.00 C762.18 919.00 767.93 920.50 771.60 922.00 C775.27 923.50 779.35 925.50 781.60 927.00 C783.85 928.50 784.35 930.00 785.10 931.00 C785.85 932.00 785.77 932.17 786.10 933.00 C786.43 933.83 786.77 935.50 787.10 936.00 C787.43 936.50 787.77 936.50 788.10 936.00 Z" fill="#7B34E2" stroke="#1a1a1a" stroke-width="0.7"/>
<text x="982.30" y="891.30" font-size="25.50" text-anchor="middle" fill="#1c1c1c" font-style="italic" textLength="68.3" lengthAdjust="spacingAndGlyphs">Nkain4</text>
<line x1="868.00" y1="904.00" x2="868.00" y2="967.90" stroke="#1c1c1c" stroke-width="1.3"/>
<line x1="867.40" y1="967.20" x2="1090.70" y2="967.20" stroke="#1c1c1c" stroke-width="1.3"/>
<line x1="863.80" y1="964.60" x2="868.00" y2="964.60" stroke="#1c1c1c" stroke-width="1.1"/>
<text x="860.20" y="970.10" font-size="15.50" text-anchor="end" fill="#1c1c1c" textLength="8.0" lengthAdjust="spacingAndGlyphs">0</text>
<line x1="863.80" y1="948.00" x2="868.00" y2="948.00" stroke="#1c1c1c" stroke-width="1.1"/>
<text x="860.20" y="953.50" font-size="15.50" text-anchor="end" fill="#1c1c1c" textLength="8.0" lengthAdjust="spacingAndGlyphs">1</text>
<line x1="863.80" y1="932.00" x2="868.00" y2="932.00" stroke="#1c1c1c" stroke-width="1.1"/>
<text x="860.20" y="937.50" font-size="15.50" text-anchor="end" fill="#1c1c1c" textLength="8.0" lengthAdjust="spacingAndGlyphs">2</text>
<line x1="863.80" y1="915.60" x2="868.00" y2="915.60" stroke="#1c1c1c" stroke-width="1.1"/>
<text x="860.20" y="921.10" font-size="15.50" text-anchor="end" fill="#1c1c1c" textLength="8.0" lengthAdjust="spacingAndGlyphs">3</text>
<line x1="879.30" y1="964.60" x2="889.30" y2="964.60" stroke="#333" stroke-width="1.8"/>
<line x1="891.80" y1="964.60" x2="901.80" y2="964.60" stroke="#333" stroke-width="1.8"/>
<line x1="909.60" y1="915.00" x2="909.60" y2="964.60" stroke="#222" stroke-width="0.8"/>
<line x1="904.60" y1="964.60" x2="914.60" y2="964.60" stroke="#333" stroke-width="1.8"/>
<path d="M922.20 964.60 C924.03 964.60 926.67 965.37 927.70 964.60 C928.73 963.83 928.40 961.60 928.40 960.00 C928.40 958.40 928.23 957.00 927.70 955.00 C927.17 953.00 925.88 950.67 925.20 948.00 C924.52 945.33 923.68 941.67 923.60 939.00 C923.52 936.33 924.40 934.33 924.70 932.00 C925.00 929.67 925.27 927.10 925.40 925.00 C925.53 922.90 926.03 920.33 925.50 919.40 C924.97 918.47 923.30 919.40 922.20 919.40 C921.10 919.40 919.43 918.47 918.90 919.40 C918.37 920.33 918.87 922.90 919.00 925.00 C919.13 927.10 919.40 929.67 919.70 932.00 C920.00 934.33 920.88 936.33 920.80 939.00 C920.72 941.67 919.88 945.33 919.20 948.00 C918.52 950.67 917.23 953.00 916.70 955.00 C916.17 957.00 916.00 958.40 916.00 960.00 C916.00 961.60 915.67 963.83 916.70 964.60 C917.73 965.37 920.37 964.60 922.20 964.60 Z" fill="#DB2A8C" stroke="#1a1a1a" stroke-width="0.7"/>
<line x1="917.20" y1="964.60" x2="927.20" y2="964.60" stroke="#333" stroke-width="1.5"/>
<line x1="934.90" y1="906.60" x2="934.90" y2="964.60" stroke="#222" stroke-width="0.8"/>
<line x1="929.90" y1="964.60" x2="939.90" y2="964.60" stroke="#333" stroke-width="1.8"/>
<line x1="949.50" y1="964.60" x2="959.50" y2="964.60" stroke="#333" stroke-width="1.8"/>
<line x1="961.50" y1="964.60" x2="971.50" y2="964.60" stroke="#333" stroke-width="1.8"/>
<line x1="974.30" y1="964.60" x2="984.30" y2="964.60" stroke="#333" stroke-width="1.8"/>
<line x1="987.00" y1="964.60" x2="997.00" y2="964.60" stroke="#333" stroke-width="1.8"/>
<line x1="1004.60" y1="951.00" x2="1004.60" y2="964.60" stroke="#222" stroke-width="0.8"/>
<line x1="999.60" y1="964.60" x2="1009.60" y2="964.60" stroke="#333" stroke-width="1.8"/>
<path d="M1049.30 950.60 C1049.72 950.00 1050.22 948.27 1050.80 947.00 C1051.38 945.73 1051.80 944.50 1052.80 943.00 C1053.80 941.50 1054.80 939.83 1056.80 938.00 C1058.80 936.17 1061.80 934.00 1064.80 932.00 C1067.80 930.00 1072.22 927.83 1074.80 926.00 C1077.38 924.17 1080.47 922.67 1080.30 921.00 C1080.13 919.33 1077.05 917.50 1073.80 916.00 C1070.55 914.50 1064.13 913.08 1060.80 912.00 C1057.47 910.92 1055.63 910.00 1053.80 909.50 C1051.97 909.00 1050.80 909.08 1049.80 909.00 C1048.80 908.92 1048.80 908.92 1047.80 909.00 C1046.80 909.08 1045.63 909.00 1043.80 909.50 C1041.97 910.00 1040.13 910.92 1036.80 912.00 C1033.47 913.08 1027.05 914.50 1023.80 916.00 C1020.55 917.50 1017.47 919.33 1017.30 921.00 C1017.13 922.67 1020.22 924.17 1022.80 926.00 C1025.38 927.83 1029.80 930.00 1032.80 932.00 C1035.80 934.00 1038.80 936.17 1040.80 938.00 C1042.80 939.83 1043.80 941.50 1044.80 943.00 C1045.80 944.50 1046.22 945.73 1046.80 947.00 C1047.38 948.27 1047.88 950.00 1048.30 950.60 C1048.72 951.20 1048.88 951.20 1049.30 950.60 Z" fill="#7B34E2" stroke="#1a1a1a" stroke-width="0.7"/>
<text x="198.70" y="1012.30" font-size="25.50" text-anchor="middle" fill="#1c1c1c" font-style="italic" textLength="64.6" lengthAdjust="spacingAndGlyphs">Lgals7</text>
<line x1="84.40" y1="1025.00" x2="84.40" y2="1088.70" stroke="#1c1c1c" stroke-width="1.3"/>
<line x1="83.80" y1="1088.00" x2="307.10" y2="1088.00" stroke="#1c1c1c" stroke-width="1.3"/>
<line x1="80.20" y1="1085.20" x2="84.40" y2="1085.20" stroke="#1c1c1c" stroke-width="1.1"/>
<text x="76.60" y="1090.70" font-size="15.50" text-anchor="end" fill="#1c1c1c" textLength="8.0" lengthAdjust="spacingAndGlyphs">0</text>
<line x1="80.20" y1="1073.00" x2="84.40" y2="1073.00" stroke="#1c1c1c" stroke-width="1.1"/>
<line x1="80.20" y1="1060.60" x2="84.40" y2="1060.60" stroke="#1c1c1c" stroke-width="1.1"/>
<text x="76.60" y="1066.10" font-size="15.50" text-anchor="end" fill="#1c1c1c" textLength="8.0" lengthAdjust="spacingAndGlyphs">2</text>
<line x1="80.20" y1="1048.20" x2="84.40" y2="1048.20" stroke="#1c1c1c" stroke-width="1.1"/>
<line x1="80.20" y1="1035.60" x2="84.40" y2="1035.60" stroke="#1c1c1c" stroke-width="1.1"/>
<text x="76.60" y="1041.10" font-size="15.50" text-anchor="end" fill="#1c1c1c" textLength="8.0" lengthAdjust="spacingAndGlyphs">4</text>
<line x1="95.70" y1="1085.20" x2="105.70" y2="1085.20" stroke="#333" stroke-width="1.8"/>
<line x1="108.20" y1="1085.20" x2="118.20" y2="1085.20" stroke="#333" stroke-width="1.8"/>
<line x1="121.00" y1="1085.20" x2="131.00" y2="1085.20" stroke="#333" stroke-width="1.8"/>
<line x1="133.60" y1="1085.20" x2="143.60" y2="1085.20" stroke="#333" stroke-width="1.8"/>
<line x1="151.30" y1="1037.00" x2="151.30" y2="1085.20" stroke="#222" stroke-width="0.8"/>
<line x1="146.30" y1="1085.20" x2="156.30" y2="1085.20" stroke="#333" stroke-width="1.8"/>
<line x1="165.90" y1="1085.20" x2="175.90" y2="1085.20" stroke="#333" stroke-width="1.8"/>
<line x1="177.90" y1="1085.20" x2="187.90" y2="1085.20" stroke="#333" stroke-width="1.8"/>
<line x1="190.70" y1="1085.20" x2="200.70" y2="1085.20" stroke="#333" stroke-width="1.8"/>
<line x1="203.40" y1="1085.20" x2="213.40" y2="1085.20" stroke="#333" stroke-width="1.8"/>
<line x1="216.00" y1="1085.20" x2="226.00" y2="1085.20" stroke="#333" stroke-width="1.8"/>
<path d="M265.20 1085.20 C266.53 1085.20 268.78 1085.73 269.20 1085.20 C269.62 1084.67 268.07 1083.03 267.70 1082.00 C267.33 1080.97 266.92 1080.17 267.00 1079.00 C267.08 1077.83 267.67 1076.33 268.20 1075.00 C268.73 1073.67 268.70 1072.67 270.20 1071.00 C271.70 1069.33 274.03 1067.17 277.20 1065.00 C280.37 1062.83 285.95 1060.17 289.20 1058.00 C292.45 1055.83 296.37 1054.17 296.70 1052.00 C297.03 1049.83 294.12 1047.00 291.20 1045.00 C288.28 1043.00 282.70 1041.50 279.20 1040.00 C275.70 1038.50 272.28 1036.83 270.20 1036.00 C268.12 1035.17 267.33 1036.00 266.70 1035.00 C266.07 1034.00 266.48 1031.27 266.40 1030.00 C266.32 1028.73 266.57 1027.83 266.20 1027.40 C265.83 1026.97 264.57 1026.97 264.20 1027.40 C263.83 1027.83 264.08 1028.73 264.00 1030.00 C263.92 1031.27 264.33 1034.00 263.70 1035.00 C263.07 1036.00 262.28 1035.17 260.20 1036.00 C258.12 1036.83 254.70 1038.50 251.20 1040.00 C247.70 1041.50 242.12 1043.00 239.20 1045.00 C236.28 1047.00 233.37 1049.83 233.70 1052.00 C234.03 1054.17 237.95 1055.83 241.20 1058.00 C244.45 1060.17 250.03 1062.83 253.20 1065.00 C256.37 1067.17 258.70 1069.33 260.20 1071.00 C261.70 1072.67 261.67 1073.67 262.20 1075.00 C262.73 1076.33 263.32 1077.83 263.40 1079.00 C263.48 1080.17 263.07 1080.97 262.70 1082.00 C262.33 1083.03 260.78 1084.67 261.20 1085.20 C261.62 1085.73 263.87 1085.20 265.20 1085.20 Z" fill="#7B34E2" stroke="#1a1a1a" stroke-width="0.7"/>
<line x1="260.20" y1="1085.20" x2="270.20" y2="1085.20" stroke="#333" stroke-width="1.5"/>
<rect x="95.60" y="1092.10" width="10.20" height="14.20" fill="#E2501C" stroke="#333" stroke-width="0.8"/>
<rect x="108.10" y="1092.10" width="10.20" height="14.20" fill="#7CCB4E" stroke="#333" stroke-width="0.8"/>
<rect x="120.90" y="1092.10" width="10.20" height="14.20" fill="#F6D43A" stroke="#333" stroke-width="0.8"/>
<rect x="133.50" y="1092.10" width="10.20" height="14.20" fill="#DB2A8C" stroke="#333" stroke-width="0.8"/>
<rect x="146.20" y="1092.10" width="10.20" height="14.20" fill="#7B34E2" stroke="#333" stroke-width="0.8"/>
<rect x="165.80" y="1092.10" width="10.20" height="14.20" fill="#E2501C" stroke="#333" stroke-width="0.8"/>
<rect x="177.80" y="1092.10" width="10.20" height="14.20" fill="#7CCB4E" stroke="#333" stroke-width="0.8"/>
<rect x="190.60" y="1092.10" width="10.20" height="14.20" fill="#F6D43A" stroke="#333" stroke-width="0.8"/>
<rect x="203.30" y="1092.10" width="10.20" height="14.20" fill="#DB2A8C" stroke="#333" stroke-width="0.8"/>
<rect x="215.90" y="1092.10" width="10.20" height="14.20" fill="#7B34E2" stroke="#333" stroke-width="0.8"/>
<rect x="235.00" y="1092.10" width="60.60" height="14.20" fill="#7B34E2" stroke="#333" stroke-width="0.8"/>
<line x1="94.20" y1="1109.20" x2="157.90" y2="1109.20" stroke="#222" stroke-width="1.8"/>
<line x1="164.00" y1="1109.20" x2="227.60" y2="1109.20" stroke="#222" stroke-width="1.8"/>
<line x1="233.70" y1="1109.20" x2="297.40" y2="1109.20" stroke="#222" stroke-width="1.8"/>
<text x="129.30" y="1128.50" font-size="17.50" text-anchor="middle" fill="#1c1c1c" textLength="9.2" lengthAdjust="spacingAndGlyphs" transform="rotate(-45 129.30 1128.50)">1</text>
<text x="198.20" y="1128.50" font-size="17.50" text-anchor="middle" fill="#1c1c1c" textLength="9.2" lengthAdjust="spacingAndGlyphs" transform="rotate(-45 198.20 1128.50)">2</text>
<text x="267.90" y="1128.50" font-size="17.50" text-anchor="middle" fill="#1c1c1c" textLength="9.2" lengthAdjust="spacingAndGlyphs" transform="rotate(-45 267.90 1128.50)">3</text>
<text x="459.90" y="1012.30" font-size="25.50" text-anchor="middle" fill="#1c1c1c" font-style="italic" textLength="61.0" lengthAdjust="spacingAndGlyphs">Igfbp5</text>
<line x1="345.60" y1="1025.00" x2="345.60" y2="1088.70" stroke="#1c1c1c" stroke-width="1.3"/>
<line x1="345.00" y1="1088.00" x2="568.30" y2="1088.00" stroke="#1c1c1c" stroke-width="1.3"/>
<line x1="341.40" y1="1085.20" x2="345.60" y2="1085.20" stroke="#1c1c1c" stroke-width="1.1"/>
<text x="337.80" y="1090.70" font-size="15.50" text-anchor="end" fill="#1c1c1c" textLength="8.0" lengthAdjust="spacingAndGlyphs">0</text>
<line x1="341.40" y1="1067.00" x2="345.60" y2="1067.00" stroke="#1c1c1c" stroke-width="1.1"/>
<text x="337.80" y="1072.50" font-size="15.50" text-anchor="end" fill="#1c1c1c" textLength="8.0" lengthAdjust="spacingAndGlyphs">2</text>
<line x1="341.40" y1="1048.60" x2="345.60" y2="1048.60" stroke="#1c1c1c" stroke-width="1.1"/>
<text x="337.80" y="1054.10" font-size="15.50" text-anchor="end" fill="#1c1c1c" textLength="8.0" lengthAdjust="spacingAndGlyphs">4</text>
<line x1="341.40" y1="1030.00" x2="345.60" y2="1030.00" stroke="#1c1c1c" stroke-width="1.1"/>
<text x="337.80" y="1035.50" font-size="15.50" text-anchor="end" fill="#1c1c1c" textLength="8.0" lengthAdjust="spacingAndGlyphs">6</text>
<line x1="361.90" y1="1058.60" x2="361.90" y2="1085.20" stroke="#222" stroke-width="0.8"/>
<line x1="356.90" y1="1085.20" x2="366.90" y2="1085.20" stroke="#333" stroke-width="1.8"/>
<line x1="374.40" y1="1058.60" x2="374.40" y2="1085.20" stroke="#222" stroke-width="0.8"/>
<line x1="369.40" y1="1085.20" x2="379.40" y2="1085.20" stroke="#333" stroke-width="1.8"/>
<line x1="387.20" y1="1058.60" x2="387.20" y2="1085.20" stroke="#222" stroke-width="0.8"/>
<line x1="382.20" y1="1085.20" x2="392.20" y2="1085.20" stroke="#333" stroke-width="1.8"/>
<line x1="399.80" y1="1058.60" x2="399.80" y2="1085.20" stroke="#222" stroke-width="0.8"/>
<line x1="394.80" y1="1085.20" x2="404.80" y2="1085.20" stroke="#333" stroke-width="1.8"/>
<path d="M412.50 1085.20 C414.27 1085.20 417.05 1086.07 417.80 1085.20 C418.55 1084.33 417.33 1081.70 417.00 1080.00 C416.67 1078.30 415.80 1077.00 415.80 1075.00 C415.80 1073.00 416.47 1071.00 417.00 1068.00 C417.53 1065.00 418.92 1060.00 419.00 1057.00 C419.08 1054.00 418.17 1052.00 417.50 1050.00 C416.83 1048.00 415.75 1046.17 415.00 1045.00 C414.25 1043.83 413.50 1043.33 413.00 1043.00 C412.50 1042.67 412.50 1042.67 412.00 1043.00 C411.50 1043.33 410.75 1043.83 410.00 1045.00 C409.25 1046.17 408.17 1048.00 407.50 1050.00 C406.83 1052.00 405.92 1054.00 406.00 1057.00 C406.08 1060.00 407.47 1065.00 408.00 1068.00 C408.53 1071.00 409.20 1073.00 409.20 1075.00 C409.20 1077.00 408.33 1078.30 408.00 1080.00 C407.67 1081.70 406.45 1084.33 407.20 1085.20 C407.95 1086.07 410.73 1085.20 412.50 1085.20 Z" fill="#7B34E2" stroke="#1a1a1a" stroke-width="0.7"/>
<line x1="407.50" y1="1085.20" x2="417.50" y2="1085.20" stroke="#333" stroke-width="1.5"/>
<path d="M432.60 1074.60 C433.02 1074.33 433.52 1074.60 434.10 1073.00 C434.68 1071.40 435.52 1068.83 436.10 1065.00 C436.68 1061.17 437.32 1055.00 437.60 1050.00 C437.88 1045.00 437.78 1038.75 437.80 1035.00 C437.82 1031.25 438.65 1028.75 437.70 1027.50 C436.75 1026.25 433.97 1027.50 432.10 1027.50 C430.23 1027.50 427.45 1026.25 426.50 1027.50 C425.55 1028.75 426.38 1031.25 426.40 1035.00 C426.42 1038.75 426.32 1045.00 426.60 1050.00 C426.88 1055.00 427.52 1061.17 428.10 1065.00 C428.68 1068.83 429.52 1071.40 430.10 1073.00 C430.68 1074.60 431.18 1074.33 431.60 1074.60 C432.02 1074.87 432.18 1074.87 432.60 1074.60 Z" fill="#E2501C" stroke="#1a1a1a" stroke-width="0.7"/>
<line x1="444.10" y1="1059.00" x2="444.10" y2="1085.20" stroke="#222" stroke-width="0.8"/>
<line x1="439.10" y1="1085.20" x2="449.10" y2="1085.20" stroke="#333" stroke-width="1.8"/>
<line x1="451.90" y1="1085.20" x2="461.90" y2="1085.20" stroke="#333" stroke-width="1.8"/>
<path d="M469.60 1085.20 C471.67 1085.20 475.13 1086.07 475.80 1085.20 C476.47 1084.33 474.38 1081.70 473.60 1080.00 C472.82 1078.30 471.55 1077.50 471.10 1075.00 C470.65 1072.50 470.95 1067.83 470.90 1065.00 C470.85 1062.17 470.93 1059.67 470.80 1058.00 C470.67 1056.33 470.38 1055.50 470.10 1055.00 C469.82 1054.50 469.38 1054.50 469.10 1055.00 C468.82 1055.50 468.53 1056.33 468.40 1058.00 C468.27 1059.67 468.35 1062.17 468.30 1065.00 C468.25 1067.83 468.55 1072.50 468.10 1075.00 C467.65 1077.50 466.38 1078.30 465.60 1080.00 C464.82 1081.70 462.73 1084.33 463.40 1085.20 C464.07 1086.07 467.53 1085.20 469.60 1085.20 Z" fill="#DB2A8C" stroke="#1a1a1a" stroke-width="0.7"/>
<line x1="464.60" y1="1085.20" x2="474.60" y2="1085.20" stroke="#333" stroke-width="1.5"/>
<path d="M483.20 1085.20 C483.57 1084.33 483.23 1081.03 483.40 1080.00 C483.57 1078.97 483.65 1080.33 484.20 1079.00 C484.75 1077.67 485.92 1074.33 486.70 1072.00 C487.48 1069.67 488.82 1067.33 488.90 1065.00 C488.98 1062.67 487.90 1059.67 487.20 1058.00 C486.50 1056.33 485.45 1055.67 484.70 1055.00 C483.95 1054.33 483.20 1054.17 482.70 1054.00 C482.20 1053.83 482.20 1053.83 481.70 1054.00 C481.20 1054.17 480.45 1054.33 479.70 1055.00 C478.95 1055.67 477.90 1056.33 477.20 1058.00 C476.50 1059.67 475.42 1062.67 475.50 1065.00 C475.58 1067.33 476.92 1069.67 477.70 1072.00 C478.48 1074.33 479.65 1077.67 480.20 1079.00 C480.75 1080.33 480.83 1078.97 481.00 1080.00 C481.17 1081.03 480.83 1084.33 481.20 1085.20 C481.57 1086.07 482.83 1086.07 483.20 1085.20 Z" fill="#7B34E2" stroke="#1a1a1a" stroke-width="0.7"/>
<line x1="477.20" y1="1085.20" x2="487.20" y2="1085.20" stroke="#333" stroke-width="1.5"/>
<path d="M526.90 1068.60 C527.32 1068.17 527.90 1066.93 528.40 1066.00 C528.90 1065.07 528.23 1064.33 529.90 1063.00 C531.57 1061.67 534.82 1059.67 538.40 1058.00 C541.98 1056.33 548.23 1054.43 551.40 1053.00 C554.57 1051.57 557.90 1050.73 557.40 1049.40 C556.90 1048.07 551.90 1046.40 548.40 1045.00 C544.90 1043.60 539.90 1042.00 536.40 1041.00 C532.90 1040.00 529.23 1039.33 527.40 1039.00 C525.57 1038.67 527.23 1038.67 525.40 1039.00 C523.57 1039.33 519.90 1040.00 516.40 1041.00 C512.90 1042.00 507.90 1043.60 504.40 1045.00 C500.90 1046.40 495.90 1048.07 495.40 1049.40 C494.90 1050.73 498.23 1051.57 501.40 1053.00 C504.57 1054.43 510.82 1056.33 514.40 1058.00 C517.98 1059.67 521.23 1061.67 522.90 1063.00 C524.57 1064.33 523.90 1065.07 524.40 1066.00 C524.90 1066.93 525.48 1068.17 525.90 1068.60 C526.32 1069.03 526.48 1069.03 526.90 1068.60 Z" fill="#7B34E2" stroke="#1a1a1a" stroke-width="0.7"/>
<rect x="356.80" y="1092.10" width="10.20" height="14.20" fill="#E2501C" stroke="#333" stroke-width="0.8"/>
<rect x="369.30" y="1092.10" width="10.20" height="14.20" fill="#7CCB4E" stroke="#333" stroke-width="0.8"/>
<rect x="382.10" y="1092.10" width="10.20" height="14.20" fill="#F6D43A" stroke="#333" stroke-width="0.8"/>
<rect x="394.70" y="1092.10" width="10.20" height="14.20" fill="#DB2A8C" stroke="#333" stroke-width="0.8"/>
<rect x="407.40" y="1092.10" width="10.20" height="14.20" fill="#7B34E2" stroke="#333" stroke-width="0.8"/>
<rect x="427.00" y="1092.10" width="10.20" height="14.20" fill="#E2501C" stroke="#333" stroke-width="0.8"/>
<rect x="439.00" y="1092.10" width="10.20" height="14.20" fill="#7CCB4E" stroke="#333" stroke-width="0.8"/>
<rect x="451.80" y="1092.10" width="10.20" height="14.20" fill="#F6D43A" stroke="#333" stroke-width="0.8"/>
<rect x="464.50" y="1092.10" width="10.20" height="14.20" fill="#DB2A8C" stroke="#333" stroke-width="0.8"/>
<rect x="477.10" y="1092.10" width="10.20" height="14.20" fill="#7B34E2" stroke="#333" stroke-width="0.8"/>
<rect x="496.20" y="1092.10" width="60.60" height="14.20" fill="#7B34E2" stroke="#333" stroke-width="0.8"/>
<line x1="355.40" y1="1109.20" x2="419.10" y2="1109.20" stroke="#222" stroke-width="1.8"/>
<line x1="425.20" y1="1109.20" x2="488.80" y2="1109.20" stroke="#222" stroke-width="1.8"/>
<line x1="494.90" y1="1109.20" x2="558.60" y2="1109.20" stroke="#222" stroke-width="1.8"/>
<text x="390.50" y="1128.50" font-size="17.50" text-anchor="middle" fill="#1c1c1c" textLength="9.2" lengthAdjust="spacingAndGlyphs" transform="rotate(-45 390.50 1128.50)">1</text>
<text x="459.40" y="1128.50" font-size="17.50" text-anchor="middle" fill="#1c1c1c" textLength="9.2" lengthAdjust="spacingAndGlyphs" transform="rotate(-45 459.40 1128.50)">2</text>
<text x="529.10" y="1128.50" font-size="17.50" text-anchor="middle" fill="#1c1c1c" textLength="9.2" lengthAdjust="spacingAndGlyphs" transform="rotate(-45 529.10 1128.50)">3</text>
<text x="721.10" y="1012.30" font-size="25.50" text-anchor="middle" fill="#1c1c1c" font-style="italic" textLength="68.3" lengthAdjust="spacingAndGlyphs">Epcam</text>
<line x1="606.80" y1="1025.00" x2="606.80" y2="1088.70" stroke="#1c1c1c" stroke-width="1.3"/>
<line x1="606.20" y1="1088.00" x2="829.50" y2="1088.00" stroke="#1c1c1c" stroke-width="1.3"/>
<line x1="602.60" y1="1085.20" x2="606.80" y2="1085.20" stroke="#1c1c1c" stroke-width="1.1"/>
<text x="599.00" y="1090.70" font-size="15.50" text-anchor="end" fill="#1c1c1c" textLength="8.0" lengthAdjust="spacingAndGlyphs">0</text>
<line x1="602.60" y1="1069.00" x2="606.80" y2="1069.00" stroke="#1c1c1c" stroke-width="1.1"/>
<text x="599.00" y="1074.50" font-size="15.50" text-anchor="end" fill="#1c1c1c" textLength="8.0" lengthAdjust="spacingAndGlyphs">1</text>
<line x1="602.60" y1="1052.60" x2="606.80" y2="1052.60" stroke="#1c1c1c" stroke-width="1.1"/>
<text x="599.00" y="1058.10" font-size="15.50" text-anchor="end" fill="#1c1c1c" textLength="8.0" lengthAdjust="spacingAndGlyphs">2</text>
<line x1="602.60" y1="1036.60" x2="606.80" y2="1036.60" stroke="#1c1c1c" stroke-width="1.1"/>
<text x="599.00" y="1042.10" font-size="15.50" text-anchor="end" fill="#1c1c1c" textLength="8.0" lengthAdjust="spacingAndGlyphs">3</text>
<line x1="618.10" y1="1085.20" x2="628.10" y2="1085.20" stroke="#333" stroke-width="1.8"/>
<line x1="635.60" y1="1040.60" x2="635.60" y2="1085.20" stroke="#222" stroke-width="0.8"/>
<line x1="630.60" y1="1085.20" x2="640.60" y2="1085.20" stroke="#333" stroke-width="1.8"/>
<line x1="648.40" y1="1058.00" x2="648.40" y2="1085.20" stroke="#222" stroke-width="0.8"/>
<line x1="643.40" y1="1085.20" x2="653.40" y2="1085.20" stroke="#333" stroke-width="1.8"/>
<line x1="661.00" y1="1056.00" x2="661.00" y2="1085.20" stroke="#222" stroke-width="0.8"/>
<line x1="656.00" y1="1085.20" x2="666.00" y2="1085.20" stroke="#333" stroke-width="1.8"/>
<line x1="673.70" y1="1036.60" x2="673.70" y2="1085.20" stroke="#222" stroke-width="0.8"/>
<line x1="668.70" y1="1085.20" x2="678.70" y2="1085.20" stroke="#333" stroke-width="1.8"/>
<line x1="688.30" y1="1085.20" x2="698.30" y2="1085.20" stroke="#333" stroke-width="1.8"/>
<line x1="705.30" y1="1027.40" x2="705.30" y2="1085.20" stroke="#222" stroke-width="0.8"/>
<line x1="700.30" y1="1085.20" x2="710.30" y2="1085.20" stroke="#333" stroke-width="1.8"/>
<line x1="718.10" y1="1050.60" x2="718.10" y2="1085.20" stroke="#222" stroke-width="0.8"/>
<line x1="713.10" y1="1085.20" x2="723.10" y2="1085.20" stroke="#333" stroke-width="1.8"/>
<line x1="730.80" y1="1046.60" x2="730.80" y2="1085.20" stroke="#222" stroke-width="0.8"/>
<line x1="725.80" y1="1085.20" x2="735.80" y2="1085.20" stroke="#333" stroke-width="1.8"/>
<line x1="743.40" y1="1066.60" x2="743.40" y2="1085.20" stroke="#222" stroke-width="0.8"/>
<line x1="738.40" y1="1085.20" x2="748.40" y2="1085.20" stroke="#333" stroke-width="1.8"/>
<path d="M787.60 1085.20 C798.10 1085.20 815.77 1085.73 819.10 1085.20 C822.43 1084.67 811.18 1083.03 807.60 1082.00 C804.02 1080.97 798.43 1080.00 797.60 1079.00 C796.77 1078.00 801.52 1077.33 802.60 1076.00 C803.68 1074.67 804.60 1072.83 804.10 1071.00 C803.60 1069.17 801.10 1067.17 799.60 1065.00 C798.10 1062.83 796.43 1060.17 795.10 1058.00 C793.77 1055.83 792.60 1053.67 791.60 1052.00 C790.60 1050.33 789.68 1048.90 789.10 1048.00 C788.52 1047.10 788.43 1046.83 788.10 1046.60 C787.77 1046.37 787.43 1046.37 787.10 1046.60 C786.77 1046.83 786.68 1047.10 786.10 1048.00 C785.52 1048.90 784.60 1050.33 783.60 1052.00 C782.60 1053.67 781.43 1055.83 780.10 1058.00 C778.77 1060.17 777.10 1062.83 775.60 1065.00 C774.10 1067.17 771.60 1069.17 771.10 1071.00 C770.60 1072.83 771.52 1074.67 772.60 1076.00 C773.68 1077.33 778.43 1078.00 777.60 1079.00 C776.77 1080.00 771.18 1080.97 767.60 1082.00 C764.02 1083.03 752.77 1084.67 756.10 1085.20 C759.43 1085.73 777.10 1085.20 787.60 1085.20 Z" fill="#7B34E2" stroke="#1a1a1a" stroke-width="0.7"/>
<line x1="782.60" y1="1085.20" x2="792.60" y2="1085.20" stroke="#333" stroke-width="1.5"/>
<rect x="618.00" y="1092.10" width="10.20" height="14.20" fill="#E2501C" stroke="#333" stroke-width="0.8"/>
<rect x="630.50" y="1092.10" width="10.20" height="14.20" fill="#7CCB4E" stroke="#333" stroke-width="0.8"/>
<rect x="643.30" y="1092.10" width="10.20" height="14.20" fill="#F6D43A" stroke="#333" stroke-width="0.8"/>
<rect x="655.90" y="1092.10" width="10.20" height="14.20" fill="#DB2A8C" stroke="#333" stroke-width="0.8"/>
<rect x="668.60" y="1092.10" width="10.20" height="14.20" fill="#7B34E2" stroke="#333" stroke-width="0.8"/>
<rect x="688.20" y="1092.10" width="10.20" height="14.20" fill="#E2501C" stroke="#333" stroke-width="0.8"/>
<rect x="700.20" y="1092.10" width="10.20" height="14.20" fill="#7CCB4E" stroke="#333" stroke-width="0.8"/>
<rect x="713.00" y="1092.10" width="10.20" height="14.20" fill="#F6D43A" stroke="#333" stroke-width="0.8"/>
<rect x="725.70" y="1092.10" width="10.20" height="14.20" fill="#DB2A8C" stroke="#333" stroke-width="0.8"/>
<rect x="738.30" y="1092.10" width="10.20" height="14.20" fill="#7B34E2" stroke="#333" stroke-width="0.8"/>
<rect x="757.40" y="1092.10" width="60.60" height="14.20" fill="#7B34E2" stroke="#333" stroke-width="0.8"/>
<line x1="616.60" y1="1109.20" x2="680.30" y2="1109.20" stroke="#222" stroke-width="1.8"/>
<line x1="686.40" y1="1109.20" x2="750.00" y2="1109.20" stroke="#222" stroke-width="1.8"/>
<line x1="756.10" y1="1109.20" x2="819.80" y2="1109.20" stroke="#222" stroke-width="1.8"/>
<text x="651.70" y="1128.50" font-size="17.50" text-anchor="middle" fill="#1c1c1c" textLength="9.2" lengthAdjust="spacingAndGlyphs" transform="rotate(-45 651.70 1128.50)">1</text>
<text x="720.60" y="1128.50" font-size="17.50" text-anchor="middle" fill="#1c1c1c" textLength="9.2" lengthAdjust="spacingAndGlyphs" transform="rotate(-45 720.60 1128.50)">2</text>
<text x="790.30" y="1128.50" font-size="17.50" text-anchor="middle" fill="#1c1c1c" textLength="9.2" lengthAdjust="spacingAndGlyphs" transform="rotate(-45 790.30 1128.50)">3</text>
<text x="982.30" y="1012.30" font-size="25.50" text-anchor="middle" fill="#1c1c1c" font-style="italic" textLength="69.5" lengthAdjust="spacingAndGlyphs">Cldn10</text>
<line x1="868.00" y1="1025.00" x2="868.00" y2="1088.70" stroke="#1c1c1c" stroke-width="1.3"/>
<line x1="867.40" y1="1088.00" x2="1090.70" y2="1088.00" stroke="#1c1c1c" stroke-width="1.3"/>
<line x1="863.80" y1="1085.20" x2="868.00" y2="1085.20" stroke="#1c1c1c" stroke-width="1.1"/>
<text x="860.20" y="1090.70" font-size="15.50" text-anchor="end" fill="#1c1c1c" textLength="8.0" lengthAdjust="spacingAndGlyphs">0</text>
<line x1="863.80" y1="1066.60" x2="868.00" y2="1066.60" stroke="#1c1c1c" stroke-width="1.1"/>
<text x="860.20" y="1072.10" font-size="15.50" text-anchor="end" fill="#1c1c1c" textLength="8.0" lengthAdjust="spacingAndGlyphs">1</text>
<line x1="863.80" y1="1048.00" x2="868.00" y2="1048.00" stroke="#1c1c1c" stroke-width="1.1"/>
<text x="860.20" y="1053.50" font-size="15.50" text-anchor="end" fill="#1c1c1c" textLength="8.0" lengthAdjust="spacingAndGlyphs">2</text>
<line x1="863.80" y1="1029.40" x2="868.00" y2="1029.40" stroke="#1c1c1c" stroke-width="1.1"/>
<text x="860.20" y="1034.90" font-size="15.50" text-anchor="end" fill="#1c1c1c" textLength="8.0" lengthAdjust="spacingAndGlyphs">3</text>
<line x1="879.30" y1="1085.20" x2="889.30" y2="1085.20" stroke="#333" stroke-width="1.8"/>
<line x1="891.80" y1="1085.20" x2="901.80" y2="1085.20" stroke="#333" stroke-width="1.8"/>
<line x1="904.60" y1="1085.20" x2="914.60" y2="1085.20" stroke="#333" stroke-width="1.8"/>
<line x1="917.20" y1="1085.20" x2="927.20" y2="1085.20" stroke="#333" stroke-width="1.8"/>
<line x1="934.90" y1="1036.00" x2="934.90" y2="1085.20" stroke="#222" stroke-width="0.8"/>
<line x1="929.90" y1="1085.20" x2="939.90" y2="1085.20" stroke="#333" stroke-width="1.8"/>
<line x1="949.50" y1="1085.20" x2="959.50" y2="1085.20" stroke="#333" stroke-width="1.8"/>
<line x1="961.50" y1="1085.20" x2="971.50" y2="1085.20" stroke="#333" stroke-width="1.8"/>
<line x1="974.30" y1="1085.20" x2="984.30" y2="1085.20" stroke="#333" stroke-width="1.8"/>
<line x1="987.00" y1="1085.20" x2="997.00" y2="1085.20" stroke="#333" stroke-width="1.8"/>
<line x1="1004.60" y1="1063.40" x2="1004.60" y2="1085.20" stroke="#222" stroke-width="0.8"/>
<line x1="999.60" y1="1085.20" x2="1009.60" y2="1085.20" stroke="#333" stroke-width="1.8"/>
<path d="M1048.80 1085.20 C1053.67 1085.20 1061.32 1085.90 1063.40 1085.20 C1065.48 1084.50 1062.65 1082.20 1061.30 1081.00 C1059.95 1079.80 1056.48 1078.72 1055.30 1078.00 C1054.12 1077.28 1053.95 1077.28 1054.20 1076.70 C1054.45 1076.12 1055.37 1075.23 1056.80 1074.50 C1058.23 1073.77 1059.80 1073.13 1062.80 1072.30 C1065.80 1071.47 1071.97 1070.38 1074.80 1069.50 C1077.63 1068.62 1079.47 1068.08 1079.80 1067.00 C1080.13 1065.92 1078.13 1064.50 1076.80 1063.00 C1075.47 1061.50 1073.03 1059.33 1071.80 1058.00 C1070.57 1056.67 1071.07 1056.67 1069.40 1055.00 C1067.73 1053.33 1063.90 1050.17 1061.80 1048.00 C1059.70 1045.83 1057.88 1043.37 1056.80 1042.00 C1055.72 1040.63 1056.13 1040.63 1055.30 1039.80 C1054.47 1038.97 1052.58 1038.13 1051.80 1037.00 C1051.02 1035.87 1050.90 1034.52 1050.60 1033.00 C1050.30 1031.48 1050.50 1028.75 1050.00 1027.90 C1049.50 1027.05 1048.10 1027.05 1047.60 1027.90 C1047.10 1028.75 1047.30 1031.48 1047.00 1033.00 C1046.70 1034.52 1046.58 1035.87 1045.80 1037.00 C1045.02 1038.13 1043.13 1038.97 1042.30 1039.80 C1041.47 1040.63 1041.88 1040.63 1040.80 1042.00 C1039.72 1043.37 1037.90 1045.83 1035.80 1048.00 C1033.70 1050.17 1029.87 1053.33 1028.20 1055.00 C1026.53 1056.67 1027.03 1056.67 1025.80 1058.00 C1024.57 1059.33 1022.13 1061.50 1020.80 1063.00 C1019.47 1064.50 1017.47 1065.92 1017.80 1067.00 C1018.13 1068.08 1019.97 1068.62 1022.80 1069.50 C1025.63 1070.38 1031.80 1071.47 1034.80 1072.30 C1037.80 1073.13 1039.37 1073.77 1040.80 1074.50 C1042.23 1075.23 1043.15 1076.12 1043.40 1076.70 C1043.65 1077.28 1043.48 1077.28 1042.30 1078.00 C1041.12 1078.72 1037.65 1079.80 1036.30 1081.00 C1034.95 1082.20 1032.12 1084.50 1034.20 1085.20 C1036.28 1085.90 1043.93 1085.20 1048.80 1085.20 Z" fill="#7B34E2" stroke="#1a1a1a" stroke-width="0.7"/>
<line x1="1043.80" y1="1085.20" x2="1053.80" y2="1085.20" stroke="#333" stroke-width="1.5"/>
<rect x="879.20" y="1092.10" width="10.20" height="14.20" fill="#E2501C" stroke="#333" stroke-width="0.8"/>
<rect x="891.70" y="1092.10" width="10.20" height="14.20" fill="#7CCB4E" stroke="#333" stroke-width="0.8"/>
<rect x="904.50" y="1092.10" width="10.20" height="14.20" fill="#F6D43A" stroke="#333" stroke-width="0.8"/>
<rect x="917.10" y="1092.10" width="10.20" height="14.20" fill="#DB2A8C" stroke="#333" stroke-width="0.8"/>
<rect x="929.80" y="1092.10" width="10.20" height="14.20" fill="#7B34E2" stroke="#333" stroke-width="0.8"/>
<rect x="949.40" y="1092.10" width="10.20" height="14.20" fill="#E2501C" stroke="#333" stroke-width="0.8"/>
<rect x="961.40" y="1092.10" width="10.20" height="14.20" fill="#7CCB4E" stroke="#333" stroke-width="0.8"/>
<rect x="974.20" y="1092.10" width="10.20" height="14.20" fill="#F6D43A" stroke="#333" stroke-width="0.8"/>
<rect x="986.90" y="1092.10" width="10.20" height="14.20" fill="#DB2A8C" stroke="#333" stroke-width="0.8"/>
<rect x="999.50" y="1092.10" width="10.20" height="14.20" fill="#7B34E2" stroke="#333" stroke-width="0.8"/>
<rect x="1018.60" y="1092.10" width="60.60" height="14.20" fill="#7B34E2" stroke="#333" stroke-width="0.8"/>
<line x1="877.80" y1="1109.20" x2="941.50" y2="1109.20" stroke="#222" stroke-width="1.8"/>
<line x1="947.60" y1="1109.20" x2="1011.20" y2="1109.20" stroke="#222" stroke-width="1.8"/>
<line x1="1017.30" y1="1109.20" x2="1081.00" y2="1109.20" stroke="#222" stroke-width="1.8"/>
<text x="912.90" y="1128.50" font-size="17.50" text-anchor="middle" fill="#1c1c1c" textLength="9.2" lengthAdjust="spacingAndGlyphs" transform="rotate(-45 912.90 1128.50)">1</text>
<text x="981.80" y="1128.50" font-size="17.50" text-anchor="middle" fill="#1c1c1c" textLength="9.2" lengthAdjust="spacingAndGlyphs" transform="rotate(-45 981.80 1128.50)">2</text>
<text x="1051.50" y="1128.50" font-size="17.50" text-anchor="middle" fill="#1c1c1c" textLength="9.2" lengthAdjust="spacingAndGlyphs" transform="rotate(-45 1051.50 1128.50)">3</text>
<rect x="1125.80" y="863.40" width="7.40" height="18.20" fill="#E2501C" stroke="#333" stroke-width="0.8"/>
<text x="1140.00" y="877.50" font-size="16.30" text-anchor="start" fill="#1c1c1c" textLength="38.9" lengthAdjust="spacingAndGlyphs">Baron</text>
<rect x="1125.80" y="884.30" width="7.40" height="18.20" fill="#7CCB4E" stroke="#333" stroke-width="0.8"/>
<text x="1140.00" y="898.40" font-size="16.30" text-anchor="start" fill="#1c1c1c" textLength="45.4" lengthAdjust="spacingAndGlyphs">Kleiber</text>
<rect x="1125.80" y="905.20" width="7.40" height="18.20" fill="#F6D43A" stroke="#333" stroke-width="0.8"/>
<text x="1140.00" y="919.30" font-size="16.30" text-anchor="start" fill="#1c1c1c" textLength="43.0" lengthAdjust="spacingAndGlyphs">Chung</text>
<rect x="1125.80" y="926.10" width="7.40" height="18.20" fill="#DB2A8C" stroke="#333" stroke-width="0.8"/>
<text x="1140.00" y="940.20" font-size="16.30" text-anchor="start" fill="#1c1c1c" textLength="59.4" lengthAdjust="spacingAndGlyphs">Tritschler</text>
<rect x="1125.80" y="947.00" width="7.40" height="18.20" fill="#7B34E2" stroke="#333" stroke-width="0.8"/>
<text x="1140.00" y="961.10" font-size="16.30" text-anchor="start" fill="#1c1c1c" textLength="37.6" lengthAdjust="spacingAndGlyphs">Wang</text>
<path d="M101.6 836.9h0M102.7 823.9h0M100.7 824.0h0M99.8 818.1h0M115.3 793.4h0M110.0 802.5h0M115.8 806.6h0M112.0 791.4h0M129.2 814.1h0M128.2 815.5h0M125.7 842.8h0M125.9 822.1h0M148.7 805.8h0M149.8 839.7h0M150.7 835.4h0M154.5 844.8h0M151.9 834.2h0M153.1 825.5h0M151.2 802.6h0M150.1 837.8h0M154.4 842.6h0M150.3 816.9h0M150.4 819.0h0M150.4 846.1h0M150.3 797.8h0M153.0 832.3h0M151.2 821.3h0M153.3 824.0h0M152.0 807.6h0M152.3 824.3h0M149.5 805.5h0M154.4 813.9h0M152.0 813.8h0M148.5 811.8h0M152.5 799.8h0M151.0 835.3h0M152.1 830.6h0M154.7 841.3h0M155.0 816.8h0M152.0 844.5h0M151.2 840.6h0M149.4 815.2h0M149.2 840.2h0M152.5 800.0h0M151.3 835.1h0M149.3 838.3h0M149.9 809.4h0M148.8 817.4h0M150.7 800.0h0M154.9 841.4h0M151.2 833.7h0M154.3 809.1h0M153.1 822.7h0M150.5 797.9h0M152.7 838.3h0M152.0 840.5h0M151.9 817.8h0M150.3 838.9h0M149.5 823.2h0M150.4 834.8h0M153.4 830.7h0M151.5 797.7h0M153.4 828.6h0M149.4 825.7h0M154.7 816.7h0M148.5 841.7h0M149.5 801.2h0M151.2 797.8h0M153.1 803.5h0M149.2 829.2h0M149.9 823.4h0M149.1 821.1h0M220.1 823.6h0M217.8 825.0h0M222.9 828.7h0M220.7 818.8h0M262.1 839.7h0M262.9 838.7h0M263.5 838.4h0M263.9 825.3h0M264.4 830.7h0M360.3 842.1h0M362.3 824.8h0M358.7 844.2h0M362.0 829.1h0M365.6 834.9h0M363.3 816.5h0M371.3 829.8h0M373.4 824.6h0M371.7 845.2h0M376.6 812.6h0M388.0 812.6h0M386.8 831.0h0M386.5 820.7h0M386.7 807.0h0M400.4 811.0h0M401.3 837.8h0M399.0 820.8h0M399.8 817.5h0M401.1 829.1h0M399.8 803.4h0M400.4 822.5h0M402.0 841.3h0M413.7 839.3h0M413.8 827.7h0M411.7 843.3h0M415.7 841.0h0M411.2 820.1h0M410.0 829.9h0M411.1 822.0h0M412.2 828.1h0M413.9 844.3h0M413.5 828.5h0M415.7 826.6h0M414.9 826.5h0M410.4 837.3h0M411.7 827.0h0M412.1 825.1h0M410.2 827.1h0M410.3 826.9h0M414.7 820.4h0M409.1 827.7h0M413.3 821.0h0M409.1 822.6h0M411.2 822.4h0M411.6 842.7h0M414.8 840.1h0M410.3 821.2h0M432.5 812.7h0M434.5 802.7h0M435.0 837.6h0M428.5 839.8h0M429.2 822.8h0M434.0 840.7h0M430.2 832.8h0M434.3 793.4h0M432.9 824.2h0M434.5 816.6h0M430.3 809.1h0M430.5 809.9h0M434.5 825.4h0M428.9 794.0h0M433.5 818.9h0M430.3 800.7h0M428.9 793.3h0M433.5 817.9h0M430.0 826.8h0M435.5 795.9h0M431.4 820.4h0M433.5 829.0h0M428.7 819.6h0M430.2 836.7h0M431.2 792.3h0M433.1 820.0h0M433.8 799.8h0M429.4 817.9h0M434.2 838.0h0M433.5 841.1h0M434.3 802.3h0M432.4 840.9h0M435.8 841.2h0M435.6 812.0h0M434.5 842.8h0M431.5 790.6h0M432.8 824.6h0M433.0 832.6h0M435.5 799.1h0M435.2 820.2h0M444.5 845.3h0M446.8 814.7h0M443.4 804.7h0M446.3 825.0h0M453.6 799.3h0M453.6 823.2h0M454.1 803.6h0M459.7 803.9h0M466.6 824.0h0M469.0 811.4h0M471.4 829.9h0M470.1 835.0h0M469.0 812.0h0M469.5 817.8h0M469.9 812.6h0M465.9 821.5h0M469.8 838.3h0M470.1 837.3h0M471.5 834.0h0M468.7 817.7h0M470.7 800.6h0M470.2 827.1h0M467.3 846.3h0M471.5 810.9h0M469.6 837.8h0M468.6 802.9h0M469.6 838.4h0M468.7 821.6h0M470.3 829.3h0M471.4 832.3h0M469.2 835.0h0M471.9 811.9h0M470.6 836.9h0M472.4 809.5h0M467.6 841.4h0M470.7 814.6h0M472.2 807.1h0M471.1 812.6h0M467.3 814.0h0M469.6 809.9h0M468.4 833.2h0M468.8 832.0h0M468.8 830.3h0M479.9 813.8h0M483.0 808.3h0M479.2 822.7h0M483.4 841.6h0M482.8 806.9h0M481.8 830.0h0M485.9 826.2h0M483.3 821.1h0M481.1 831.7h0M484.2 820.0h0M527.4 835.0h0M526.5 830.9h0M528.4 827.3h0M527.4 834.9h0M524.4 837.2h0M619.8 825.6h0M620.4 821.0h0M621.7 836.4h0M620.8 813.0h0M620.6 799.0h0M624.1 804.2h0M620.9 838.8h0M623.4 802.2h0M634.9 800.1h0M633.9 833.9h0M635.8 830.7h0M634.1 798.5h0M632.4 825.4h0M636.2 804.7h0M635.8 836.9h0M632.3 828.8h0M634.1 809.9h0M634.5 841.9h0M632.4 835.1h0M638.7 820.1h0M636.1 834.4h0M639.0 803.5h0M638.2 798.2h0M637.0 834.7h0M632.9 821.8h0M636.9 811.9h0M634.8 828.4h0M632.2 836.0h0M632.3 809.1h0M637.9 811.0h0M633.7 833.5h0M632.5 810.2h0M635.2 828.7h0M634.6 806.1h0M635.0 839.3h0M636.4 830.2h0M636.1 818.8h0M633.2 813.1h0M634.0 819.9h0M633.1 811.3h0M635.0 841.9h0M631.9 804.5h0M638.5 805.2h0M649.7 810.7h0M649.6 805.0h0M650.3 816.8h0M647.4 821.0h0M649.2 807.7h0M649.6 837.4h0M647.0 818.4h0M650.9 840.6h0M649.7 800.4h0M649.6 834.1h0M651.4 844.5h0M652.4 805.8h0M647.4 810.2h0M645.7 845.1h0M649.4 813.9h0M646.5 807.3h0M649.1 835.3h0M650.6 832.6h0M651.1 839.5h0M651.5 836.9h0M650.0 819.5h0M652.2 820.2h0M647.8 827.8h0M646.8 828.3h0M647.6 799.6h0M645.0 800.0h0M648.2 797.6h0M645.3 833.7h0M645.3 826.9h0M646.8 820.1h0M661.8 815.2h0M660.6 813.3h0M659.1 831.1h0M661.8 809.7h0M664.6 837.1h0M661.5 804.5h0M661.8 807.6h0M658.1 837.7h0M662.7 809.5h0M661.5 809.9h0M659.5 836.2h0M658.1 834.2h0M671.0 807.6h0M671.4 807.9h0M674.9 794.1h0M674.3 800.5h0M676.5 816.8h0M674.1 829.4h0M675.8 800.3h0M676.8 797.2h0M671.7 806.3h0M672.9 802.3h0M675.4 827.0h0M675.1 825.1h0M672.3 803.5h0M673.2 806.1h0M675.1 830.6h0M676.8 796.6h0M673.6 832.5h0M675.8 822.8h0M674.6 801.0h0M674.3 835.2h0M672.7 832.2h0M673.6 823.7h0M672.9 832.1h0M670.7 816.6h0M674.7 827.6h0M672.9 794.3h0M674.8 799.1h0M670.2 820.1h0M674.6 833.9h0M674.3 811.9h0M674.5 808.6h0M673.2 810.1h0M671.9 825.2h0M675.8 805.8h0M670.3 802.7h0M672.9 832.2h0M672.2 810.7h0M672.5 804.3h0M670.6 816.1h0M670.1 815.9h0M671.8 796.4h0M672.4 803.3h0M676.4 805.5h0M673.5 821.3h0M674.7 826.2h0M674.6 806.6h0M673.9 825.1h0M674.5 825.4h0M673.2 832.9h0M677.5 821.9h0M676.9 815.7h0M675.3 797.1h0M675.7 804.4h0M674.0 811.2h0M671.8 803.7h0M674.1 830.2h0M670.6 820.0h0M677.4 805.6h0M674.0 801.7h0M673.8 823.0h0M677.5 816.8h0M672.4 826.6h0M673.1 811.5h0M675.0 822.4h0M675.2 804.2h0M669.8 811.5h0M672.7 805.5h0M675.1 801.5h0M674.3 835.7h0M676.6 820.1h0M674.4 814.1h0M672.6 831.4h0M672.7 808.6h0M673.1 807.7h0M674.7 795.5h0M673.2 834.1h0M672.4 801.0h0M672.4 827.2h0M672.0 826.1h0M675.5 818.6h0M670.5 822.0h0M674.3 834.1h0M676.6 813.7h0M671.0 818.8h0M676.3 810.1h0M670.0 812.9h0M671.2 800.1h0M674.9 818.2h0M672.9 812.3h0M673.4 834.4h0M671.4 821.9h0M671.1 815.1h0M672.4 797.9h0M672.8 797.9h0M674.1 821.1h0M673.6 827.2h0M675.2 796.6h0M675.7 810.3h0M673.7 834.9h0M672.6 803.8h0M672.3 814.4h0M673.0 797.4h0M676.2 821.2h0M675.8 825.8h0M673.3 827.5h0M670.1 820.7h0M674.7 827.1h0M673.5 804.4h0M676.1 804.7h0M675.9 811.3h0M674.3 832.7h0M672.4 809.3h0M674.5 833.7h0M672.6 801.2h0M674.9 826.9h0M673.3 805.2h0M673.0 834.4h0M675.0 804.8h0M674.8 832.0h0M676.0 813.2h0M673.4 834.8h0M671.8 802.8h0M671.9 826.6h0M677.1 816.5h0M674.7 801.6h0M677.4 815.8h0M673.6 815.1h0M674.3 831.9h0M676.1 799.2h0M677.4 810.2h0M673.7 834.4h0M671.5 810.9h0M671.3 804.9h0M675.5 800.2h0M674.2 795.2h0M675.6 818.7h0M677.1 817.4h0M670.4 805.1h0M671.9 818.0h0M674.3 835.5h0M676.2 822.6h0M673.6 803.5h0M672.5 809.5h0M673.5 809.1h0M669.9 821.1h0M670.7 816.2h0M673.8 834.7h0M672.2 818.3h0M675.2 823.3h0M673.9 832.1h0M690.2 833.7h0M694.8 818.1h0M691.0 832.8h0M695.7 822.3h0M707.3 825.6h0M706.7 808.5h0M704.2 817.8h0M703.6 836.5h0M720.6 836.1h0M716.1 836.9h0M719.1 832.1h0M715.8 844.1h0M729.1 833.8h0M729.1 824.4h0M731.9 837.4h0M731.7 843.6h0M744.6 812.1h0M741.9 840.1h0M740.4 840.6h0M743.2 818.4h0M741.8 844.5h0M742.6 820.0h0M741.3 838.6h0M742.2 839.9h0M790.6 822.6h0M787.8 813.3h0M788.2 825.5h0M788.8 818.0h0M784.8 814.9h0M788.4 804.9h0M790.0 823.4h0M789.0 809.7h0M787.8 819.5h0M787.8 831.9h0M788.8 818.9h0M790.6 809.4h0M783.9 821.6h0M791.2 820.4h0M787.1 836.7h0M791.1 813.3h0M783.7 813.9h0M787.4 812.7h0M784.1 826.7h0M789.4 815.6h0M785.0 815.9h0M787.1 827.9h0M787.5 827.4h0M787.7 831.2h0M789.6 836.6h0M787.5 828.3h0M786.6 824.6h0M790.7 807.1h0M789.7 831.1h0M788.0 832.8h0M787.5 837.2h0M785.1 836.8h0M788.2 817.0h0M787.8 831.4h0M786.6 830.5h0M790.0 826.8h0M783.8 824.3h0M783.6 826.1h0M784.5 814.5h0M784.9 829.6h0M784.2 828.2h0M789.2 811.4h0M784.2 834.9h0M786.8 824.8h0M784.2 825.0h0M784.2 805.2h0M787.5 833.8h0M784.7 824.7h0M790.8 827.1h0M789.8 811.1h0M791.5 832.4h0M788.8 823.2h0M789.8 815.9h0M788.6 814.8h0M791.5 825.2h0M784.4 830.4h0M786.5 810.4h0M789.3 817.6h0M788.1 813.1h0M786.0 819.4h0M787.1 825.7h0M785.4 836.7h0M788.7 834.1h0M784.2 819.7h0M790.0 825.8h0M789.3 816.1h0M784.3 822.0h0M786.1 832.8h0M789.7 820.4h0M790.4 833.3h0M790.4 816.7h0M788.0 809.6h0M790.5 818.8h0M788.9 828.3h0M786.4 831.2h0M784.4 819.2h0M785.2 816.1h0M784.6 828.6h0M788.4 834.6h0M784.6 819.2h0M788.1 819.2h0M791.4 809.3h0M787.1 816.4h0M786.6 814.0h0M790.4 813.7h0M786.5 807.0h0M787.4 824.2h0M787.5 815.2h0M786.1 806.7h0M789.7 818.9h0M786.9 818.7h0M785.8 826.1h0M785.2 822.6h0M787.9 824.8h0M790.6 826.1h0M791.5 830.7h0M791.2 812.3h0M786.5 819.2h0M791.0 819.5h0M790.0 835.9h0M784.6 814.5h0M789.0 811.3h0M784.1 827.6h0M791.6 804.7h0M783.9 815.7h0M784.4 819.9h0M787.8 831.3h0M791.0 824.7h0M785.3 808.7h0M788.5 830.4h0M786.4 819.0h0M791.2 824.9h0M790.9 835.7h0M785.3 836.7h0M790.2 805.5h0M787.8 812.7h0M791.4 820.0h0M784.7 819.1h0M790.8 811.3h0M784.7 831.4h0M883.9 844.5h0M884.5 832.4h0M884.3 839.1h0M884.8 796.5h0M884.0 838.8h0M884.1 837.5h0M883.2 813.5h0M884.3 806.7h0M884.6 844.3h0M883.3 834.5h0M897.0 824.7h0M895.3 825.2h0M893.8 841.9h0M899.4 834.7h0M895.9 822.0h0M896.9 823.4h0M894.0 845.7h0M898.5 820.4h0M897.5 821.5h0M893.4 836.8h0M910.3 791.5h0M911.2 841.8h0M906.4 816.3h0M906.5 819.7h0M905.9 808.3h0M909.3 819.0h0M907.4 806.0h0M907.6 793.7h0M912.5 797.2h0M910.2 791.9h0M910.3 815.7h0M913.4 807.2h0M908.8 835.6h0M912.9 814.3h0M912.2 798.8h0M910.1 824.9h0M910.3 820.1h0M908.3 795.1h0M907.4 809.9h0M910.6 794.8h0M911.5 813.8h0M913.1 812.1h0M909.7 803.8h0M911.9 813.9h0M909.9 797.4h0M910.6 815.6h0M909.9 803.1h0M906.4 845.6h0M913.3 844.8h0M906.2 815.3h0M913.3 818.0h0M910.0 790.1h0M906.5 834.0h0M906.8 824.0h0M909.7 795.6h0M922.8 808.2h0M921.1 820.7h0M918.2 842.0h0M920.8 835.6h0M923.1 840.9h0M921.1 817.0h0M925.1 838.6h0M922.9 844.3h0M925.4 842.3h0M921.5 828.3h0M921.6 824.8h0M922.6 836.3h0M925.3 839.2h0M920.6 833.0h0M920.5 810.2h0M932.2 816.9h0M937.3 815.3h0M938.2 807.3h0M935.5 842.9h0M933.2 812.6h0M935.9 822.3h0M933.8 843.1h0M937.4 805.8h0M936.9 803.0h0M938.7 810.3h0M935.7 822.9h0M935.7 838.6h0M934.6 820.4h0M934.2 837.0h0M937.9 815.5h0M935.7 841.2h0M933.6 817.3h0M937.6 806.6h0M933.0 804.2h0M934.7 803.1h0M934.0 846.2h0M933.0 813.2h0M934.3 833.1h0M936.4 809.7h0M934.1 842.0h0M934.3 804.8h0M933.9 843.5h0M936.1 808.1h0M934.8 835.8h0M935.2 804.0h0M931.5 806.4h0M937.8 804.5h0M934.7 806.6h0M934.1 838.5h0M937.2 819.3h0M932.5 827.1h0M938.9 825.8h0M936.1 838.3h0M932.7 803.0h0M931.0 824.3h0M934.5 844.7h0M937.9 826.4h0M937.0 820.9h0M934.5 808.9h0M934.8 834.3h0M937.8 810.2h0M938.2 817.9h0M937.5 816.0h0M936.3 807.5h0M935.2 844.3h0M938.7 820.4h0M935.6 844.9h0M931.6 811.9h0M932.5 829.2h0M935.3 804.7h0M934.4 843.9h0M936.1 838.5h0M934.0 843.8h0M938.5 808.0h0M934.2 844.9h0M936.6 810.0h0M931.7 806.3h0M935.5 809.1h0M937.6 818.5h0M938.1 808.8h0M934.5 837.0h0M936.1 828.8h0M938.4 807.4h0M935.0 821.6h0M933.7 839.8h0M931.1 813.9h0M933.9 834.7h0M935.8 833.9h0M934.2 846.2h0M937.2 820.4h0M932.3 821.7h0M936.4 832.0h0M934.0 821.9h0M934.1 807.9h0M934.5 839.3h0M934.6 844.3h0M937.1 823.1h0M935.7 842.5h0M934.5 820.7h0M935.2 807.8h0M934.1 838.4h0M931.4 816.0h0M934.7 822.2h0M935.3 846.0h0M934.2 842.8h0M936.5 821.4h0M935.4 805.3h0M932.0 829.8h0M937.2 811.0h0M936.0 809.2h0M934.0 820.7h0M934.7 840.9h0M935.7 841.0h0M931.7 826.6h0M938.5 816.8h0M935.6 813.7h0M936.8 810.9h0M936.7 832.5h0M932.1 828.4h0M935.1 837.3h0M934.9 843.9h0M934.4 816.4h0M936.5 826.9h0M937.1 830.1h0M932.5 825.8h0M935.4 840.1h0M934.6 809.0h0M935.1 839.8h0M937.8 807.4h0M933.8 834.5h0M936.6 832.8h0M938.4 827.6h0M931.0 825.9h0M936.7 831.3h0M935.5 842.7h0M966.3 830.8h0M963.3 826.8h0M969.3 830.9h0M966.9 827.4h0M1004.2 807.0h0M1003.5 822.2h0M1004.6 818.9h0M1004.1 812.5h0M1004.5 809.5h0M1004.2 839.8h0M1050.5 835.8h0M1051.2 839.4h0M1045.2 828.5h0M1047.0 816.6h0M1049.6 822.7h0M1047.1 828.4h0M1050.7 816.6h0M1050.4 846.2h0M1050.4 815.6h0M1049.1 839.2h0M1051.7 833.3h0M1050.5 827.7h0M1051.5 816.7h0M1046.3 831.0h0M1051.4 833.0h0M1047.3 826.6h0M1052.8 836.0h0M1047.3 845.0h0M1047.8 828.0h0M1049.2 815.7h0M1048.6 820.9h0M1049.2 840.3h0M1046.4 846.0h0M1045.3 817.2h0M1047.1 835.9h0M1049.9 818.4h0M1050.8 846.0h0M1052.3 844.9h0M1046.6 829.5h0M1046.5 838.0h0M1047.8 813.1h0M1049.9 837.0h0M1045.8 825.3h0M1049.6 816.8h0M1049.1 828.3h0M1049.4 837.2h0M1052.2 841.7h0M1047.7 829.2h0M1046.8 828.6h0M1050.6 816.9h0M1045.0 826.4h0M1047.4 824.7h0M1045.0 812.8h0M1051.2 832.6h0M1049.6 840.6h0M1049.9 818.7h0M1046.6 820.2h0M1045.9 822.4h0M1052.7 814.6h0M1052.6 813.6h0M1050.7 835.4h0M1050.2 814.6h0M1048.9 817.8h0M1052.0 826.8h0M1044.9 814.2h0M1049.0 831.5h0M1045.5 833.8h0M1050.5 823.9h0M1047.3 831.8h0M1045.2 810.9h0M1047.0 842.5h0M1047.1 813.1h0M1049.1 818.2h0M1049.1 812.4h0M1049.1 833.8h0M1046.7 832.0h0M1050.8 824.6h0M1051.4 820.8h0M1048.6 817.4h0M1050.1 842.7h0M1047.7 820.5h0M1050.8 820.7h0M1051.5 823.7h0M1051.4 835.5h0M1047.1 829.6h0M1048.3 835.2h0M1048.4 812.4h0M1045.4 817.3h0M1052.4 820.1h0M1048.3 834.6h0M1047.9 831.5h0M1046.9 830.8h0M1051.2 841.2h0M1049.2 826.5h0M1051.0 823.9h0M1052.2 840.5h0M1052.1 814.4h0M1045.7 818.4h0M1050.0 825.4h0M1050.0 814.7h0M1051.0 845.2h0M1046.1 840.2h0M1046.8 822.7h0M1051.9 823.8h0M1046.9 846.3h0M1049.7 830.7h0M1048.4 845.4h0M1045.6 814.8h0M1048.6 815.8h0M1050.3 813.9h0M1045.1 817.5h0M1048.5 836.4h0M1049.4 837.7h0M1045.4 824.3h0M1050.2 841.2h0M1045.5 820.0h0M1052.2 833.1h0M1052.2 837.2h0M1045.8 846.2h0M1048.5 817.2h0M1048.7 814.6h0M1046.9 839.8h0M1046.8 839.9h0M1045.4 839.8h0M1045.2 814.9h0M1045.0 831.4h0M1048.1 835.4h0M1047.9 843.0h0M1050.8 840.5h0M1051.0 824.0h0M101.3 945.3h0M97.9 937.5h0M100.8 941.8h0M104.6 937.7h0M104.0 925.8h0M97.6 943.5h0M98.3 943.7h0M100.5 940.6h0M102.9 953.2h0M103.1 921.3h0M97.9 960.7h0M100.5 921.7h0M113.3 933.5h0M111.2 949.3h0M110.2 950.1h0M116.7 960.0h0M126.2 910.0h0M125.9 925.5h0M124.9 933.3h0M124.6 942.8h0M122.8 955.5h0M126.2 942.5h0M125.6 909.4h0M125.7 935.4h0M125.5 916.3h0M126.5 920.6h0M126.3 915.3h0M126.4 914.0h0M128.5 950.8h0M127.0 929.5h0M140.9 955.2h0M140.0 943.5h0M138.6 947.0h0M136.5 948.0h0M173.4 922.5h0M172.7 956.5h0M174.3 938.3h0M171.2 942.9h0M169.8 919.4h0M172.2 928.2h0M171.9 961.9h0M173.6 932.8h0M173.3 922.0h0M174.6 920.3h0M172.8 952.5h0M172.2 940.2h0M172.9 936.5h0M170.6 942.7h0M173.5 954.7h0M169.0 931.0h0M169.6 963.3h0M171.3 935.0h0M170.5 931.5h0M170.4 930.8h0M172.4 954.5h0M174.4 960.4h0M173.1 930.5h0M171.3 949.7h0M174.2 940.5h0M173.4 943.9h0M169.8 923.2h0M172.7 924.4h0M169.5 939.1h0M170.8 933.6h0M170.8 932.3h0M168.8 946.5h0M171.1 928.3h0M171.2 948.3h0M170.7 951.5h0M173.0 959.6h0M171.4 941.2h0M169.6 954.8h0M170.9 931.2h0M167.6 941.3h0M211.0 960.4h0M207.5 954.3h0M208.7 957.7h0M211.7 951.9h0M221.6 949.9h0M222.5 958.4h0M217.3 961.8h0M217.3 959.6h0M219.8 950.2h0M224.1 959.7h0M221.4 954.9h0M217.2 957.0h0M220.6 951.3h0M219.5 945.0h0M262.2 946.3h0M264.2 944.1h0M268.0 955.5h0M267.5 947.3h0M262.0 956.7h0M268.2 944.4h0M266.2 943.0h0M267.7 953.6h0M267.7 958.2h0M267.0 942.9h0M266.5 961.1h0M261.9 962.6h0M268.9 950.8h0M264.0 946.9h0M264.2 946.7h0M265.2 950.0h0M265.2 945.8h0M264.0 961.9h0M268.5 945.6h0M267.5 956.6h0M269.1 961.6h0M261.2 946.9h0M266.5 957.3h0M268.4 948.9h0M265.8 958.9h0M264.5 954.3h0M263.6 944.0h0M265.2 957.1h0M266.4 952.1h0M262.1 962.1h0M267.4 941.8h0M265.8 944.8h0M266.6 951.8h0M264.4 954.9h0M268.7 954.1h0M264.9 959.8h0M263.5 957.1h0M261.2 961.8h0M267.3 953.2h0M265.5 961.5h0M151.4 946.4h0M153.1 939.7h0M152.3 936.3h0M148.4 931.2h0M149.1 940.6h0M148.7 951.3h0M152.6 940.0h0M149.1 940.9h0M153.9 952.9h0M152.6 940.0h0M153.6 943.5h0M150.2 954.7h0M152.5 930.6h0M148.3 942.6h0M153.2 941.5h0M151.5 932.9h0M152.0 940.7h0M150.3 935.1h0M151.9 952.7h0M151.5 946.3h0M151.7 949.3h0M152.7 929.3h0M154.6 943.1h0M148.1 949.7h0M153.1 939.5h0M152.0 930.1h0M153.0 948.3h0M153.4 942.6h0M154.2 940.9h0M147.8 931.5h0M150.1 935.4h0M149.4 931.6h0M152.3 954.4h0M154.3 939.1h0M151.3 944.0h0M152.0 949.8h0M150.8 929.6h0M150.0 929.3h0M152.6 956.7h0M151.8 948.8h0M372.1 961.3h0M374.1 930.6h0M373.2 952.1h0M371.0 955.7h0M483.4 961.3h0M483.4 947.3h0M485.3 952.8h0M484.2 945.7h0M526.7 924.6h0M522.5 908.5h0M527.6 927.7h0M530.1 918.1h0M529.4 910.2h0M524.9 943.8h0M526.9 939.7h0M525.9 924.5h0M529.8 928.8h0M526.2 937.0h0M523.8 925.4h0M529.3 928.8h0M527.2 932.2h0M530.3 925.1h0M526.5 940.6h0M528.8 933.3h0M527.4 917.6h0M528.5 918.7h0M530.1 919.4h0M526.6 934.5h0M527.1 929.7h0M522.6 918.0h0M524.8 925.2h0M524.1 925.9h0M530.2 915.6h0M528.4 922.3h0M523.1 913.0h0M525.9 934.4h0M523.7 938.7h0M527.2 926.8h0M528.1 916.2h0M523.3 915.2h0M522.8 913.6h0M528.7 923.3h0M524.7 914.3h0M524.2 920.6h0M527.8 941.3h0M527.7 912.2h0M524.5 942.8h0M522.6 923.2h0M523.4 919.9h0M524.0 925.4h0M525.5 936.1h0M526.8 910.8h0M528.3 925.4h0M524.4 936.5h0M528.2 922.5h0M526.6 945.2h0M525.1 931.3h0M524.9 924.5h0M524.7 926.8h0M522.6 920.1h0M529.3 911.0h0M530.1 921.0h0M525.3 917.1h0M526.2 942.3h0M528.6 933.9h0M524.0 922.6h0M529.3 908.0h0M528.7 929.9h0M527.6 945.7h0M523.3 930.6h0M526.3 930.0h0M522.5 911.5h0M525.4 921.0h0M528.4 941.6h0M525.7 943.3h0M525.9 940.7h0M527.0 921.7h0M527.8 909.2h0M527.1 910.0h0M522.9 936.6h0M526.5 932.7h0M528.7 921.1h0M523.9 919.8h0M525.3 923.6h0M525.0 939.4h0M528.6 923.0h0M525.1 925.6h0M525.2 913.3h0M528.6 928.2h0M526.5 946.3h0M528.5 926.9h0M524.4 925.7h0M529.1 934.7h0M529.3 916.2h0M523.9 910.0h0M529.6 922.2h0M525.2 926.3h0M526.1 917.0h0M412.9 940.3h0M415.3 919.9h0M414.0 956.0h0M413.3 945.1h0M414.6 952.7h0M411.2 934.1h0M414.9 921.5h0M412.1 956.1h0M411.8 933.2h0M412.0 935.3h0M414.4 919.3h0M412.2 932.9h0M415.7 951.3h0M411.1 928.3h0M415.9 915.1h0M413.9 915.3h0M411.0 942.4h0M413.7 942.0h0M410.6 931.9h0M415.0 926.5h0M412.8 938.6h0M415.0 949.2h0M414.5 929.1h0M414.2 953.0h0M409.5 945.8h0M412.2 931.2h0M413.5 949.4h0M415.3 948.9h0M415.5 951.7h0M412.6 944.3h0M415.4 939.9h0M409.5 931.8h0M413.8 915.5h0M409.8 950.8h0M413.8 915.4h0M414.5 940.9h0M411.7 942.4h0M409.7 920.6h0M413.8 943.9h0M413.3 933.4h0M410.4 920.1h0M415.5 927.1h0M411.9 936.6h0M409.0 928.4h0M410.4 919.1h0M415.5 922.1h0M411.1 926.2h0M414.5 951.9h0M413.5 941.8h0M413.2 915.9h0M413.7 955.6h0M415.2 953.9h0M409.9 945.3h0M415.9 925.1h0M411.0 956.6h0M410.7 921.2h0M413.8 928.5h0M413.4 925.5h0M410.6 939.9h0M412.0 943.3h0M671.6 920.8h0M675.2 911.7h0M670.4 907.6h0M671.7 921.7h0M670.6 927.8h0M675.6 944.7h0M672.5 934.0h0M674.2 953.5h0M676.6 957.5h0M672.8 909.3h0M670.4 918.3h0M675.3 938.0h0M672.8 923.0h0M673.8 930.5h0M674.6 910.2h0M673.5 950.1h0M672.3 936.2h0M675.9 912.4h0M674.4 923.7h0M675.1 922.4h0M676.5 938.2h0M676.0 925.0h0M672.0 927.2h0M670.6 912.0h0M672.8 925.7h0M790.3 920.8h0M787.3 917.6h0M787.2 929.6h0M791.4 927.4h0M786.8 932.2h0M790.0 930.6h0M784.8 914.0h0M788.9 927.6h0M791.5 913.2h0M791.4 920.3h0M789.4 921.3h0M790.1 911.3h0M785.4 919.7h0M788.9 919.3h0M788.7 931.9h0M788.5 932.7h0M785.0 917.8h0M787.4 932.5h0M788.0 933.8h0M788.3 929.3h0M787.5 913.1h0M784.5 925.8h0M790.0 917.8h0M783.7 913.5h0M787.1 913.7h0M787.8 915.3h0M787.1 915.0h0M788.7 932.8h0M787.1 928.4h0M790.0 922.8h0M786.5 913.3h0M787.2 911.4h0M789.0 916.1h0M788.8 917.5h0M788.3 923.4h0M786.9 919.4h0M788.8 911.0h0M785.9 916.4h0M787.3 932.2h0M788.6 910.6h0M786.7 918.6h0M787.6 924.2h0M786.8 932.2h0M790.0 929.9h0M783.7 914.6h0M787.8 911.8h0M787.4 931.4h0M788.3 914.1h0M791.0 929.2h0M785.1 922.8h0M787.6 922.8h0M784.4 913.4h0M786.6 931.6h0M787.9 931.5h0M790.8 907.7h0M787.0 934.5h0M783.9 926.6h0M786.2 932.1h0M789.6 924.5h0M790.7 923.7h0M791.4 912.5h0M784.5 925.4h0M785.3 908.7h0M786.7 910.8h0M786.0 911.0h0M788.6 931.0h0M784.6 915.3h0M786.1 910.1h0M784.7 909.4h0M787.3 934.8h0M784.9 930.4h0M784.0 911.8h0M790.6 922.2h0M786.9 930.9h0M786.8 929.4h0M785.9 921.9h0M788.7 916.7h0M785.2 918.2h0M783.9 916.8h0M791.0 917.9h0M785.7 922.9h0M787.9 920.5h0M787.9 911.6h0M784.5 915.0h0M786.3 913.8h0M784.0 927.3h0M788.2 920.8h0M785.7 930.8h0M786.3 929.0h0M789.0 911.1h0M907.9 934.7h0M909.8 933.7h0M908.1 920.9h0M906.9 923.9h0M922.7 936.3h0M922.3 942.2h0M923.2 942.7h0M920.8 952.2h0M919.9 924.9h0M921.9 935.8h0M919.1 950.6h0M923.5 929.6h0M920.3 957.1h0M922.4 944.4h0M922.2 931.4h0M925.0 922.8h0M924.3 931.0h0M921.5 958.9h0M921.0 927.6h0M933.2 907.9h0M938.3 926.6h0M936.0 958.0h0M933.7 926.6h0M932.9 919.7h0M934.5 919.6h0M933.8 941.8h0M937.1 915.7h0M934.4 945.5h0M935.8 907.8h0M935.1 920.9h0M934.3 950.4h0M935.9 942.2h0M935.4 907.2h0M936.2 907.6h0M935.2 952.8h0M932.9 950.7h0M932.5 946.4h0M937.7 912.7h0M936.5 917.6h0M935.7 913.1h0M936.5 909.5h0M932.7 943.5h0M936.6 926.8h0M933.6 911.1h0M1004.2 962.1h0M1006.4 955.5h0M1006.6 952.7h0M1004.0 956.7h0M1052.4 934.1h0M1045.4 918.8h0M1046.6 940.6h0M1046.9 932.2h0M1049.7 944.2h0M1047.6 942.4h0M1050.2 918.0h0M1045.3 917.3h0M1049.6 949.1h0M1048.1 913.7h0M1045.3 913.2h0M1051.2 933.6h0M1050.1 948.0h0M1045.1 925.6h0M1048.7 936.3h0M1046.7 914.9h0M1052.3 916.5h0M1052.6 922.7h0M1050.6 932.6h0M1046.6 940.7h0M1052.0 943.5h0M1047.3 913.6h0M1049.6 920.4h0M1051.8 941.1h0M1052.7 929.0h0M1050.6 935.5h0M1049.8 927.6h0M1051.2 933.3h0M1047.4 930.3h0M1047.6 921.0h0M1049.2 920.7h0M1049.9 949.1h0M1048.1 920.4h0M1047.5 932.5h0M1046.5 912.8h0M1048.5 944.4h0M1049.6 911.9h0M1052.0 919.6h0M1045.0 938.9h0M1045.5 922.5h0M1051.2 921.7h0M1051.9 942.9h0M1049.4 928.5h0M1047.0 932.7h0M1047.7 947.8h0M1047.7 947.1h0M1048.7 940.9h0M1051.1 911.9h0M1045.7 932.5h0M1049.5 949.6h0M1045.5 934.9h0M1046.0 944.8h0M1049.7 947.8h0M1052.1 941.3h0M1047.8 935.6h0M1048.0 927.1h0M1050.3 930.3h0M1048.7 935.3h0M1045.0 940.1h0M1047.5 945.9h0M1050.6 922.1h0M1047.6 929.5h0M1050.5 913.6h0M1047.3 928.7h0M1049.4 926.1h0M1049.2 948.4h0M1045.8 922.8h0M1046.3 921.2h0M1050.8 917.6h0M1047.4 925.1h0M1050.7 916.4h0M1049.9 945.5h0M1048.4 920.2h0M1047.1 914.6h0M1048.8 915.0h0M1049.0 936.7h0M1051.7 940.0h0M1048.2 941.0h0M1049.6 935.3h0M1051.0 937.5h0M1048.5 943.2h0M1048.4 941.4h0M1048.4 943.5h0M1046.1 943.7h0M1047.2 947.5h0M1049.3 949.2h0M1047.2 913.9h0M1048.3 920.7h0M1046.2 919.1h0M1050.6 930.6h0M1045.3 923.6h0M1044.9 912.0h0M1049.3 948.7h0M1052.0 919.3h0M1052.4 910.5h0M1046.4 911.0h0M1051.0 912.8h0M1048.0 918.7h0M1049.5 924.9h0M1049.5 942.3h0M1045.3 915.3h0M1048.3 936.9h0M1045.7 929.8h0M1052.1 919.8h0M1048.3 948.1h0M1051.9 926.7h0M1047.4 941.4h0M1047.1 938.0h0M1052.1 915.2h0M1052.5 924.8h0M154.2 1047.4h0M148.9 1060.2h0M148.8 1056.7h0M150.2 1059.5h0M151.2 1052.2h0M151.3 1082.6h0M148.0 1070.3h0M151.4 1046.2h0M153.2 1072.5h0M151.2 1079.3h0M150.6 1041.7h0M153.6 1070.1h0M151.5 1060.9h0M154.6 1057.8h0M151.7 1055.9h0M154.7 1048.8h0M153.6 1073.3h0M151.5 1056.2h0M152.3 1061.6h0M152.9 1069.6h0M263.6 1043.1h0M261.2 1067.2h0M266.0 1079.1h0M265.6 1057.2h0M267.7 1046.4h0M266.7 1041.7h0M264.2 1028.7h0M263.2 1079.9h0M265.9 1032.9h0M262.3 1058.2h0M263.3 1076.8h0M266.5 1053.6h0M266.6 1073.6h0M262.2 1056.3h0M265.7 1041.8h0M263.6 1056.8h0M266.8 1083.2h0M264.1 1080.1h0M267.2 1081.0h0M268.7 1058.0h0M267.6 1082.6h0M262.9 1041.7h0M266.2 1031.3h0M265.3 1036.1h0M265.8 1029.4h0M267.2 1076.9h0M262.7 1043.1h0M265.5 1067.5h0M265.7 1035.2h0M266.9 1050.1h0M264.2 1068.8h0M261.5 1039.2h0M263.2 1080.0h0M266.6 1062.7h0M265.9 1080.9h0M268.1 1083.4h0M265.2 1064.0h0M264.8 1032.8h0M265.4 1032.2h0M268.5 1049.7h0M265.4 1077.6h0M265.4 1036.2h0M268.2 1072.5h0M261.4 1042.4h0M263.6 1068.0h0M264.7 1030.9h0M262.7 1054.8h0M266.6 1070.0h0M264.5 1058.2h0M265.1 1048.8h0M266.9 1046.0h0M264.8 1042.9h0M264.7 1056.9h0M266.1 1033.8h0M263.4 1043.8h0M268.0 1073.1h0M268.0 1063.1h0M264.1 1031.4h0M266.0 1079.2h0M269.0 1044.1h0M268.0 1070.6h0M267.6 1049.9h0M264.9 1031.4h0M267.7 1082.2h0M264.5 1034.7h0M268.1 1044.4h0M269.0 1055.4h0M262.6 1073.7h0M262.7 1052.9h0M263.4 1038.0h0M269.1 1060.0h0M264.2 1074.2h0M264.5 1050.6h0M266.8 1043.8h0M264.4 1050.8h0M263.0 1043.4h0M262.6 1082.6h0M266.4 1083.1h0M266.7 1061.8h0M263.1 1069.1h0M266.4 1031.9h0M267.3 1060.7h0M264.1 1078.0h0M266.2 1031.5h0M264.9 1066.9h0M266.0 1034.0h0M265.9 1029.5h0M264.6 1080.9h0M267.6 1046.6h0M264.5 1033.7h0M264.0 1076.0h0M265.9 1063.9h0M263.0 1067.0h0M264.2 1045.8h0M263.5 1081.3h0M267.5 1066.3h0M263.1 1082.9h0M265.4 1035.1h0M266.3 1073.3h0M264.8 1067.9h0M265.2 1077.4h0M261.5 1064.3h0M262.1 1064.1h0M268.7 1038.5h0M268.4 1041.9h0M263.8 1078.4h0M261.5 1063.5h0M265.7 1033.2h0M265.6 1028.8h0M264.3 1079.0h0M265.9 1081.5h0M264.6 1029.9h0M263.0 1043.7h0M262.2 1053.1h0M267.1 1064.2h0M261.9 1050.5h0M263.9 1063.4h0M267.1 1044.3h0M261.9 1067.9h0M268.5 1069.7h0M360.1 1066.2h0M362.3 1069.7h0M362.4 1059.8h0M363.1 1073.0h0M371.0 1063.5h0M371.4 1069.2h0M370.9 1062.9h0M372.9 1071.5h0M390.1 1066.6h0M387.3 1069.1h0M388.1 1072.9h0M389.2 1062.4h0M396.5 1069.3h0M402.0 1076.6h0M400.5 1081.1h0M400.8 1070.2h0M410.2 1057.3h0M409.9 1076.3h0M413.8 1077.4h0M414.4 1079.8h0M413.6 1054.4h0M413.9 1065.9h0M412.2 1072.9h0M410.7 1065.2h0M408.8 1055.4h0M414.4 1061.1h0M413.7 1077.4h0M409.0 1057.5h0M415.8 1076.9h0M415.1 1070.3h0M414.3 1045.2h0M411.6 1068.2h0M409.0 1072.7h0M408.7 1081.8h0M409.5 1076.1h0M416.1 1082.8h0M414.6 1063.9h0M410.2 1060.5h0M412.3 1072.1h0M412.4 1070.9h0M411.6 1081.2h0M414.9 1053.7h0M412.7 1072.4h0M411.0 1045.6h0M416.2 1052.7h0M410.2 1081.9h0M410.7 1059.5h0M415.5 1049.3h0M414.6 1052.9h0M412.5 1062.8h0M411.9 1077.9h0M411.2 1051.2h0M409.9 1079.9h0M410.3 1052.0h0M414.2 1048.6h0M411.4 1050.3h0M411.5 1054.3h0M416.3 1054.2h0M416.1 1056.6h0M414.8 1061.1h0M408.8 1072.2h0M409.2 1053.1h0M412.6 1080.3h0M410.6 1077.6h0M409.2 1078.1h0M414.0 1064.2h0M411.7 1074.7h0M414.5 1056.5h0M411.1 1082.2h0M411.1 1044.8h0M411.3 1066.2h0M409.9 1060.1h0M413.4 1054.4h0M410.4 1062.0h0M412.2 1044.5h0M410.7 1067.6h0M413.6 1072.8h0M411.8 1049.4h0M413.2 1057.8h0M411.1 1083.1h0M412.8 1045.6h0M409.2 1080.6h0M412.1 1044.8h0M414.0 1079.1h0M415.8 1057.4h0M408.8 1060.1h0M409.0 1058.0h0M411.5 1046.0h0M411.9 1061.5h0M412.6 1082.3h0M409.1 1073.5h0M411.0 1080.2h0M409.7 1072.7h0M409.8 1066.1h0M411.8 1077.4h0M415.1 1082.7h0M410.6 1053.9h0M411.3 1074.8h0M408.7 1053.7h0M414.0 1078.0h0M416.4 1054.2h0M410.6 1052.6h0M409.9 1058.8h0M411.3 1044.7h0M410.0 1079.5h0M415.0 1062.4h0M432.5 1031.2h0M428.9 1064.3h0M433.2 1066.4h0M435.5 1045.1h0M435.3 1056.7h0M430.5 1066.0h0M428.4 1035.4h0M428.8 1034.2h0M429.7 1063.2h0M428.2 1057.9h0M428.9 1035.1h0M432.0 1036.1h0M429.8 1050.4h0M433.7 1071.1h0M433.1 1034.6h0M433.8 1045.3h0M430.4 1037.8h0M432.7 1036.1h0M431.3 1047.3h0M434.9 1066.7h0M428.8 1032.9h0M430.7 1055.1h0M433.1 1035.3h0M430.8 1062.4h0M429.2 1064.0h0M432.8 1067.2h0M433.8 1054.2h0M431.0 1054.1h0M432.8 1038.3h0M434.7 1055.8h0M432.0 1041.9h0M432.3 1036.9h0M430.3 1061.0h0M434.7 1036.5h0M430.9 1043.2h0M434.7 1055.3h0M433.1 1066.5h0M429.3 1067.6h0M434.4 1042.3h0M430.5 1044.8h0M431.5 1073.1h0M428.5 1041.7h0M429.6 1049.8h0M433.7 1072.7h0M431.9 1050.5h0M435.6 1039.1h0M428.2 1028.7h0M430.1 1033.3h0M434.8 1038.6h0M433.5 1038.1h0M440.7 1076.5h0M441.2 1064.0h0M443.0 1066.0h0M444.3 1063.7h0M470.4 1068.9h0M468.6 1079.2h0M472.2 1081.6h0M470.3 1075.7h0M469.8 1068.2h0M471.1 1078.2h0M468.3 1068.4h0M469.1 1071.3h0M469.2 1065.3h0M469.6 1069.0h0M471.2 1078.7h0M470.6 1067.1h0M470.0 1063.8h0M469.3 1075.8h0M471.4 1076.2h0M469.3 1076.2h0M470.1 1059.2h0M469.7 1073.0h0M468.7 1057.2h0M468.5 1059.2h0M482.1 1084.0h0M482.0 1081.0h0M480.8 1079.6h0M484.1 1060.5h0M480.6 1071.4h0M485.2 1057.5h0M482.5 1071.2h0M484.8 1070.3h0M480.5 1059.4h0M482.3 1064.8h0M480.7 1060.6h0M484.2 1057.5h0M480.1 1055.2h0M485.0 1058.7h0M481.2 1059.3h0M483.7 1072.0h0M482.0 1068.0h0M478.7 1058.0h0M482.2 1083.8h0M480.2 1076.9h0M484.3 1073.5h0M485.7 1070.9h0M481.5 1083.6h0M481.7 1062.3h0M482.3 1059.1h0M479.1 1062.7h0M478.5 1060.1h0M481.5 1063.1h0M478.7 1073.2h0M483.0 1079.7h0M526.0 1060.0h0M523.8 1042.8h0M527.5 1048.9h0M525.8 1067.5h0M529.0 1063.7h0M524.7 1062.0h0M528.6 1058.6h0M528.9 1062.5h0M527.1 1067.2h0M524.5 1051.9h0M525.4 1043.1h0M523.4 1062.2h0M527.7 1065.5h0M528.9 1043.5h0M524.4 1057.8h0M527.0 1053.3h0M526.3 1049.9h0M525.1 1042.0h0M527.9 1061.0h0M526.1 1065.6h0M525.1 1055.4h0M527.6 1065.3h0M524.6 1057.5h0M529.4 1058.7h0M522.9 1053.1h0M525.1 1049.6h0M523.5 1040.5h0M527.9 1048.5h0M527.6 1067.2h0M529.7 1054.9h0M524.3 1056.3h0M525.6 1056.9h0M525.6 1065.3h0M523.2 1040.6h0M527.0 1057.7h0M529.0 1053.0h0M528.1 1060.3h0M527.6 1047.9h0M523.0 1060.0h0M526.0 1041.0h0M524.4 1058.0h0M524.4 1047.7h0M529.7 1056.1h0M526.0 1041.4h0M526.2 1048.5h0M528.4 1041.8h0M527.0 1059.2h0M523.2 1041.3h0M522.9 1047.8h0M527.3 1047.0h0M524.6 1065.8h0M525.9 1044.1h0M523.6 1060.5h0M523.2 1051.9h0M526.3 1067.2h0M523.7 1053.8h0M526.8 1046.3h0M523.8 1045.2h0M523.6 1040.8h0M525.4 1056.0h0M525.4 1047.8h0M524.6 1042.3h0M526.7 1061.1h0M524.0 1062.5h0M527.8 1066.9h0M525.0 1044.1h0M524.8 1064.4h0M528.0 1055.5h0M526.3 1041.9h0M527.0 1064.4h0M528.2 1064.6h0M523.3 1053.2h0M529.7 1062.0h0M528.7 1060.5h0M525.6 1060.0h0M523.6 1047.6h0M528.4 1056.2h0M527.1 1064.4h0M525.3 1061.3h0M526.0 1044.7h0M524.9 1051.1h0M526.5 1056.8h0M529.7 1045.2h0M527.5 1060.5h0M527.2 1041.4h0M525.2 1066.9h0M525.2 1066.9h0M523.8 1053.8h0M525.8 1064.5h0M526.1 1064.4h0M633.0 1064.0h0M633.1 1053.9h0M634.5 1074.3h0M632.3 1057.7h0M646.4 1077.0h0M650.4 1063.5h0M649.3 1073.0h0M649.8 1075.1h0M662.4 1067.3h0M664.5 1068.5h0M661.1 1061.4h0M658.8 1066.3h0M676.3 1057.3h0M671.1 1041.3h0M676.2 1059.2h0M677.1 1051.8h0M672.1 1055.5h0M672.4 1081.0h0M674.8 1082.1h0M676.8 1048.0h0M676.4 1058.0h0M676.3 1055.1h0M707.0 1072.6h0M702.6 1045.6h0M708.5 1046.1h0M702.2 1042.9h0M706.5 1043.0h0M705.4 1034.4h0M705.9 1028.6h0M704.1 1081.2h0M706.8 1041.6h0M703.6 1028.8h0M716.5 1071.9h0M719.5 1058.6h0M721.3 1057.0h0M715.1 1060.4h0M730.4 1048.6h0M731.6 1077.8h0M728.5 1053.1h0M733.0 1070.1h0M742.7 1072.3h0M744.5 1073.4h0M743.5 1072.7h0M742.3 1073.9h0M786.9 1049.3h0M784.3 1081.0h0M785.1 1075.4h0M784.5 1071.6h0M786.5 1064.0h0M784.4 1070.2h0M789.1 1071.6h0M783.9 1056.6h0M787.4 1081.6h0M789.8 1059.5h0M791.3 1055.0h0M783.9 1074.2h0M787.4 1047.7h0M787.2 1051.6h0M787.2 1077.9h0M783.6 1068.3h0M790.5 1062.2h0M784.4 1071.4h0M786.4 1060.1h0M788.3 1051.4h0M790.0 1078.8h0M783.9 1081.8h0M788.2 1073.9h0M783.8 1058.6h0M786.5 1048.6h0M786.1 1066.7h0M789.8 1051.4h0M785.7 1072.4h0M787.9 1047.7h0M789.8 1072.5h0M786.8 1076.8h0M784.8 1081.5h0M784.9 1071.3h0M784.8 1080.5h0M789.9 1080.8h0M789.1 1052.4h0M789.4 1076.0h0M783.9 1069.0h0M785.6 1078.6h0M789.3 1054.7h0M784.5 1060.8h0M791.0 1052.2h0M785.3 1053.2h0M788.8 1074.0h0M788.4 1050.0h0M787.0 1065.7h0M785.3 1071.1h0M788.1 1056.2h0M788.7 1066.1h0M785.7 1050.6h0M934.8 1048.3h0M933.3 1045.2h0M934.7 1043.8h0M933.7 1038.4h0M932.8 1049.0h0M931.9 1046.6h0M937.7 1050.0h0M935.3 1049.8h0M937.1 1036.8h0M934.9 1082.3h0M936.8 1053.0h0M935.3 1061.1h0M932.8 1040.5h0M934.0 1048.3h0M1001.8 1079.8h0M1003.3 1076.4h0M1003.1 1069.2h0M1008.1 1070.5h0M1045.3 1052.2h0M1047.9 1053.2h0M1049.7 1060.3h0M1048.5 1076.4h0M1049.2 1032.1h0M1046.0 1076.1h0M1050.7 1058.4h0M1048.5 1037.7h0M1047.5 1054.9h0M1047.2 1036.0h0M1046.0 1058.6h0M1050.7 1033.5h0M1046.4 1067.6h0M1051.3 1075.7h0M1052.1 1078.8h0M1046.6 1057.3h0M1047.9 1056.2h0M1047.5 1062.3h0M1049.6 1067.8h0M1046.6 1039.2h0M1046.8 1034.7h0M1052.4 1062.9h0M1048.7 1034.6h0M1046.9 1061.5h0M1045.4 1081.5h0M1050.3 1077.0h0M1048.2 1082.7h0M1046.0 1077.4h0M1051.6 1054.0h0M1048.3 1048.4h0M1049.9 1060.0h0M1048.7 1076.2h0M1047.2 1051.7h0M1049.9 1030.7h0M1049.0 1032.1h0M1049.5 1030.9h0M1046.7 1046.0h0M1047.9 1045.1h0M1051.7 1076.3h0M1046.9 1040.4h0M1049.8 1074.6h0M1048.7 1033.0h0M1048.1 1029.8h0M1046.6 1039.0h0M1048.4 1034.6h0M1052.2 1039.0h0M1050.8 1058.8h0M1046.7 1036.9h0M1049.6 1053.4h0M1044.9 1063.4h0M1048.7 1032.7h0M1048.9 1060.9h0M1048.1 1070.4h0M1050.2 1034.8h0M1045.5 1058.3h0M1049.2 1057.2h0M1048.0 1036.2h0M1049.9 1078.3h0M1050.0 1074.1h0M1051.5 1065.8h0M1048.9 1070.9h0M1049.4 1059.9h0M1047.6 1035.7h0M1047.6 1032.3h0M1046.0 1058.5h0M1047.8 1043.9h0M1049.7 1034.8h0M1048.0 1081.4h0M1045.7 1046.7h0M1051.9 1048.3h0M1051.4 1076.6h0M1044.9 1069.4h0M1047.5 1052.1h0M1051.9 1044.3h0M1050.9 1067.8h0M1049.0 1036.5h0M1048.0 1075.7h0M1045.0 1060.6h0M1048.3 1062.9h0M1050.1 1061.0h0M1048.3 1062.3h0M1045.0 1070.8h0M1047.7 1031.0h0M1048.0 1038.0h0M1046.2 1052.1h0M1049.9 1079.3h0M1051.9 1038.3h0M1051.8 1060.9h0M1050.2 1042.0h0M1050.6 1047.0h0M1052.6 1080.6h0M1045.7 1060.1h0M1052.3 1072.0h0M1047.4 1051.7h0M1046.5 1053.8h0M1047.5 1047.3h0M1048.9 1058.5h0M1049.0 1061.3h0M1045.1 1074.8h0M1045.2 1079.8h0" stroke="#111" stroke-width="1.9" stroke-linecap="round" fill="none"/>
<path d="M99.7 818.0h0M112.2 789.5h0M125.0 810.0h0M220.0 818.7h0M373.4 810.0h0M386.2 805.0h0M411.5 820.0h0M443.1 801.0h0M455.9 792.4h0M692.3 814.0h0M704.3 804.0h0M717.1 820.0h0M729.8 823.0h0M965.5 823.0h0M112.2 929.4h0M137.6 942.6h0M207.4 935.0h0M373.4 914.6h0M481.2 945.0h0M672.7 907.4h0M908.6 915.0h0M933.9 906.6h0M1003.6 951.0h0M150.3 1037.0h0M360.9 1058.6h0M373.4 1058.6h0M386.2 1058.6h0M398.8 1058.6h0M443.1 1059.0h0M634.6 1040.6h0M647.4 1058.0h0M660.0 1056.0h0M672.7 1036.6h0M704.3 1027.4h0M717.1 1050.6h0M729.8 1046.6h0M742.4 1066.6h0M933.9 1036.0h0M1003.6 1063.4h0" stroke="#111" stroke-width="1.8" stroke-linecap="round" fill="none"/>
</svg>
</body></html>
